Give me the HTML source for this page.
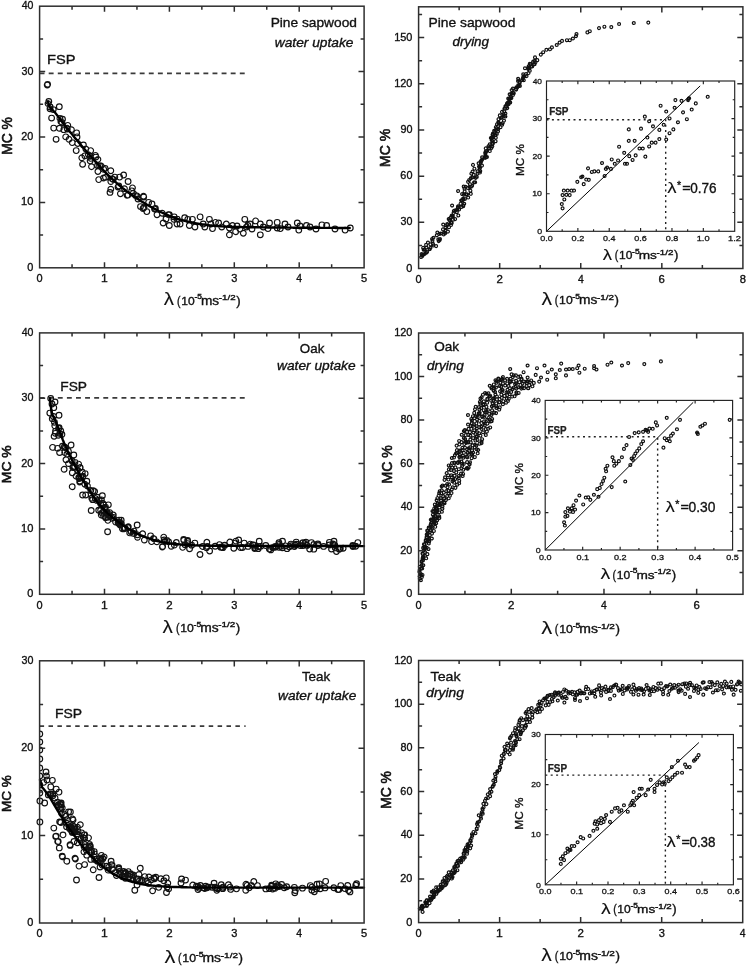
<!DOCTYPE html>
<html><head><meta charset="utf-8"><style>
html,body{margin:0;padding:0;background:#fff;}
svg{display:block;will-change:transform;}
text{font-family:"Liberation Sans",sans-serif;stroke:#111;stroke-width:0.35px;}
</style></head><body>
<svg width="746" height="967" viewBox="0 0 746 967">
<rect width="746" height="967" fill="#fff"/>
<path d="M39.6 73.4L245.6 73.4" fill="none" stroke="#3a3a3a" stroke-width="1.8" stroke-dasharray="4.9 4.2" stroke-linejoin="round" stroke-linecap="butt"/>
<path d="M44.35 85a2.85 2.85 0 1 0 5.7 0a2.85 2.85 0 1 0 -5.7 0M44.75 84.3a2.85 2.85 0 1 0 5.7 0a2.85 2.85 0 1 0 -5.7 0M45.95 101.5a2.85 2.85 0 1 0 5.7 0a2.85 2.85 0 1 0 -5.7 0M45.15 103.6a2.85 2.85 0 1 0 5.7 0a2.85 2.85 0 1 0 -5.7 0M47.15 108.8a2.85 2.85 0 1 0 5.7 0a2.85 2.85 0 1 0 -5.7 0M56.45 106.7a2.85 2.85 0 1 0 5.7 0a2.85 2.85 0 1 0 -5.7 0M48.75 118.1a2.85 2.85 0 1 0 5.7 0a2.85 2.85 0 1 0 -5.7 0M50.85 128.1a2.85 2.85 0 1 0 5.7 0a2.85 2.85 0 1 0 -5.7 0M53.25 139.3a2.85 2.85 0 1 0 5.7 0a2.85 2.85 0 1 0 -5.7 0M58.05 121.6a2.85 2.85 0 1 0 5.7 0a2.85 2.85 0 1 0 -5.7 0M59.65 119.2a2.85 2.85 0 1 0 5.7 0a2.85 2.85 0 1 0 -5.7 0M60.95 129.7a2.85 2.85 0 1 0 5.7 0a2.85 2.85 0 1 0 -5.7 0M62.85 136.9a2.85 2.85 0 1 0 5.7 0a2.85 2.85 0 1 0 -5.7 0M66.15 139.3a2.85 2.85 0 1 0 5.7 0a2.85 2.85 0 1 0 -5.7 0M68.55 129.7a2.85 2.85 0 1 0 5.7 0a2.85 2.85 0 1 0 -5.7 0M69.35 142.6a2.85 2.85 0 1 0 5.7 0a2.85 2.85 0 1 0 -5.7 0M74.15 136.9a2.85 2.85 0 1 0 5.7 0a2.85 2.85 0 1 0 -5.7 0M73.35 150.6a2.85 2.85 0 1 0 5.7 0a2.85 2.85 0 1 0 -5.7 0M80.55 145a2.85 2.85 0 1 0 5.7 0a2.85 2.85 0 1 0 -5.7 0M82.95 149a2.85 2.85 0 1 0 5.7 0a2.85 2.85 0 1 0 -5.7 0M78.95 157.8a2.85 2.85 0 1 0 5.7 0a2.85 2.85 0 1 0 -5.7 0M79.75 164.3a2.85 2.85 0 1 0 5.7 0a2.85 2.85 0 1 0 -5.7 0M87.85 150.6a2.85 2.85 0 1 0 5.7 0a2.85 2.85 0 1 0 -5.7 0M85.45 154.6a2.85 2.85 0 1 0 5.7 0a2.85 2.85 0 1 0 -5.7 0M92.65 155.4a2.85 2.85 0 1 0 5.7 0a2.85 2.85 0 1 0 -5.7 0M95.05 159.4a2.85 2.85 0 1 0 5.7 0a2.85 2.85 0 1 0 -5.7 0M88.65 166.7a2.85 2.85 0 1 0 5.7 0a2.85 2.85 0 1 0 -5.7 0M98.25 165.9a2.85 2.85 0 1 0 5.7 0a2.85 2.85 0 1 0 -5.7 0M102.25 168.3a2.85 2.85 0 1 0 5.7 0a2.85 2.85 0 1 0 -5.7 0M107.95 170.7a2.85 2.85 0 1 0 5.7 0a2.85 2.85 0 1 0 -5.7 0M95.05 171.5a2.85 2.85 0 1 0 5.7 0a2.85 2.85 0 1 0 -5.7 0M95.85 179.6a2.85 2.85 0 1 0 5.7 0a2.85 2.85 0 1 0 -5.7 0M100.65 178a2.85 2.85 0 1 0 5.7 0a2.85 2.85 0 1 0 -5.7 0M111.95 177.1a2.85 2.85 0 1 0 5.7 0a2.85 2.85 0 1 0 -5.7 0M116.75 177.1a2.85 2.85 0 1 0 5.7 0a2.85 2.85 0 1 0 -5.7 0M120.75 175a2.85 2.85 0 1 0 5.7 0a2.85 2.85 0 1 0 -5.7 0M125.25 181.5a2.85 2.85 0 1 0 5.7 0a2.85 2.85 0 1 0 -5.7 0M107.95 189.2a2.85 2.85 0 1 0 5.7 0a2.85 2.85 0 1 0 -5.7 0M107.15 192.4a2.85 2.85 0 1 0 5.7 0a2.85 2.85 0 1 0 -5.7 0M115.95 186a2.85 2.85 0 1 0 5.7 0a2.85 2.85 0 1 0 -5.7 0M117.55 193.7a2.85 2.85 0 1 0 5.7 0a2.85 2.85 0 1 0 -5.7 0M128.85 190.8a2.85 2.85 0 1 0 5.7 0a2.85 2.85 0 1 0 -5.7 0M130.45 193.2a2.85 2.85 0 1 0 5.7 0a2.85 2.85 0 1 0 -5.7 0M140.85 197.1a2.85 2.85 0 1 0 5.7 0a2.85 2.85 0 1 0 -5.7 0M145.75 202.4a2.85 2.85 0 1 0 5.7 0a2.85 2.85 0 1 0 -5.7 0M140.25 208.5a2.85 2.85 0 1 0 5.7 0a2.85 2.85 0 1 0 -5.7 0M143.95 211.6a2.85 2.85 0 1 0 5.7 0a2.85 2.85 0 1 0 -5.7 0M152.55 208.5a2.85 2.85 0 1 0 5.7 0a2.85 2.85 0 1 0 -5.7 0M154.15 214.7a2.85 2.85 0 1 0 5.7 0a2.85 2.85 0 1 0 -5.7 0M159.35 213.2a2.85 2.85 0 1 0 5.7 0a2.85 2.85 0 1 0 -5.7 0M160.25 223a2.85 2.85 0 1 0 5.7 0a2.85 2.85 0 1 0 -5.7 0M166.45 214.7a2.85 2.85 0 1 0 5.7 0a2.85 2.85 0 1 0 -5.7 0M166.45 225.5a2.85 2.85 0 1 0 5.7 0a2.85 2.85 0 1 0 -5.7 0M171.05 219.3a2.85 2.85 0 1 0 5.7 0a2.85 2.85 0 1 0 -5.7 0M174.15 224a2.85 2.85 0 1 0 5.7 0a2.85 2.85 0 1 0 -5.7 0M177.25 224a2.85 2.85 0 1 0 5.7 0a2.85 2.85 0 1 0 -5.7 0M181.85 217.8a2.85 2.85 0 1 0 5.7 0a2.85 2.85 0 1 0 -5.7 0M184.95 219.3a2.85 2.85 0 1 0 5.7 0a2.85 2.85 0 1 0 -5.7 0M186.45 225.5a2.85 2.85 0 1 0 5.7 0a2.85 2.85 0 1 0 -5.7 0M189.55 219.3a2.85 2.85 0 1 0 5.7 0a2.85 2.85 0 1 0 -5.7 0M192.05 227a2.85 2.85 0 1 0 5.7 0a2.85 2.85 0 1 0 -5.7 0M197.25 216.9a2.85 2.85 0 1 0 5.7 0a2.85 2.85 0 1 0 -5.7 0M200.35 224a2.85 2.85 0 1 0 5.7 0a2.85 2.85 0 1 0 -5.7 0M201.95 227a2.85 2.85 0 1 0 5.7 0a2.85 2.85 0 1 0 -5.7 0M206.55 219.3a2.85 2.85 0 1 0 5.7 0a2.85 2.85 0 1 0 -5.7 0M208.05 224a2.85 2.85 0 1 0 5.7 0a2.85 2.85 0 1 0 -5.7 0M209.65 228.6a2.85 2.85 0 1 0 5.7 0a2.85 2.85 0 1 0 -5.7 0M212.65 222.4a2.85 2.85 0 1 0 5.7 0a2.85 2.85 0 1 0 -5.7 0M215.75 223a2.85 2.85 0 1 0 5.7 0a2.85 2.85 0 1 0 -5.7 0M218.85 227a2.85 2.85 0 1 0 5.7 0a2.85 2.85 0 1 0 -5.7 0M223.45 224a2.85 2.85 0 1 0 5.7 0a2.85 2.85 0 1 0 -5.7 0M226.55 228a2.85 2.85 0 1 0 5.7 0a2.85 2.85 0 1 0 -5.7 0M229.65 225.5a2.85 2.85 0 1 0 5.7 0a2.85 2.85 0 1 0 -5.7 0M226.55 234.8a2.85 2.85 0 1 0 5.7 0a2.85 2.85 0 1 0 -5.7 0M232.75 231.7a2.85 2.85 0 1 0 5.7 0a2.85 2.85 0 1 0 -5.7 0M240.45 233.2a2.85 2.85 0 1 0 5.7 0a2.85 2.85 0 1 0 -5.7 0M241.95 219.3a2.85 2.85 0 1 0 5.7 0a2.85 2.85 0 1 0 -5.7 0M243.55 227a2.85 2.85 0 1 0 5.7 0a2.85 2.85 0 1 0 -5.7 0M245.05 225.5a2.85 2.85 0 1 0 5.7 0a2.85 2.85 0 1 0 -5.7 0M252.75 220.9a2.85 2.85 0 1 0 5.7 0a2.85 2.85 0 1 0 -5.7 0M257.45 224a2.85 2.85 0 1 0 5.7 0a2.85 2.85 0 1 0 -5.7 0M257.45 234.8a2.85 2.85 0 1 0 5.7 0a2.85 2.85 0 1 0 -5.7 0M260.45 227a2.85 2.85 0 1 0 5.7 0a2.85 2.85 0 1 0 -5.7 0M266.65 223a2.85 2.85 0 1 0 5.7 0a2.85 2.85 0 1 0 -5.7 0M265.15 228.6a2.85 2.85 0 1 0 5.7 0a2.85 2.85 0 1 0 -5.7 0M274.35 222.4a2.85 2.85 0 1 0 5.7 0a2.85 2.85 0 1 0 -5.7 0M274.35 228a2.85 2.85 0 1 0 5.7 0a2.85 2.85 0 1 0 -5.7 0M277.45 228.6a2.85 2.85 0 1 0 5.7 0a2.85 2.85 0 1 0 -5.7 0M285.15 227a2.85 2.85 0 1 0 5.7 0a2.85 2.85 0 1 0 -5.7 0M294.45 223a2.85 2.85 0 1 0 5.7 0a2.85 2.85 0 1 0 -5.7 0M295.95 230.1a2.85 2.85 0 1 0 5.7 0a2.85 2.85 0 1 0 -5.7 0M303.65 225.5a2.85 2.85 0 1 0 5.7 0a2.85 2.85 0 1 0 -5.7 0M319.05 224.9a2.85 2.85 0 1 0 5.7 0a2.85 2.85 0 1 0 -5.7 0M323.75 225.5a2.85 2.85 0 1 0 5.7 0a2.85 2.85 0 1 0 -5.7 0M342.25 230.1a2.85 2.85 0 1 0 5.7 0a2.85 2.85 0 1 0 -5.7 0M347.45 228a2.85 2.85 0 1 0 5.7 0a2.85 2.85 0 1 0 -5.7 0M134.15 196a2.85 2.85 0 1 0 5.7 0a2.85 2.85 0 1 0 -5.7 0M135.15 199a2.85 2.85 0 1 0 5.7 0a2.85 2.85 0 1 0 -5.7 0M149.15 204a2.85 2.85 0 1 0 5.7 0a2.85 2.85 0 1 0 -5.7 0M163.15 219a2.85 2.85 0 1 0 5.7 0a2.85 2.85 0 1 0 -5.7 0M247.15 224a2.85 2.85 0 1 0 5.7 0a2.85 2.85 0 1 0 -5.7 0M249.15 229a2.85 2.85 0 1 0 5.7 0a2.85 2.85 0 1 0 -5.7 0M234.15 226a2.85 2.85 0 1 0 5.7 0a2.85 2.85 0 1 0 -5.7 0M237.15 229a2.85 2.85 0 1 0 5.7 0a2.85 2.85 0 1 0 -5.7 0M282.15 224a2.85 2.85 0 1 0 5.7 0a2.85 2.85 0 1 0 -5.7 0M307.15 227a2.85 2.85 0 1 0 5.7 0a2.85 2.85 0 1 0 -5.7 0M313.15 229a2.85 2.85 0 1 0 5.7 0a2.85 2.85 0 1 0 -5.7 0M332.15 229a2.85 2.85 0 1 0 5.7 0a2.85 2.85 0 1 0 -5.7 0M297.15 226a2.85 2.85 0 1 0 5.7 0a2.85 2.85 0 1 0 -5.7 0M57.07 118.45a2.85 2.85 0 1 0 5.7 0a2.85 2.85 0 1 0 -5.7 0M141.2 207.46a2.85 2.85 0 1 0 5.7 0a2.85 2.85 0 1 0 -5.7 0M174.29 219.06a2.85 2.85 0 1 0 5.7 0a2.85 2.85 0 1 0 -5.7 0M56.52 128.29a2.85 2.85 0 1 0 5.7 0a2.85 2.85 0 1 0 -5.7 0M82.05 155.84a2.85 2.85 0 1 0 5.7 0a2.85 2.85 0 1 0 -5.7 0M151.64 208.98a2.85 2.85 0 1 0 5.7 0a2.85 2.85 0 1 0 -5.7 0M96.67 165.76a2.85 2.85 0 1 0 5.7 0a2.85 2.85 0 1 0 -5.7 0M165.4 214.67a2.85 2.85 0 1 0 5.7 0a2.85 2.85 0 1 0 -5.7 0M74.89 143.46a2.85 2.85 0 1 0 5.7 0a2.85 2.85 0 1 0 -5.7 0M50.39 109.59a2.85 2.85 0 1 0 5.7 0a2.85 2.85 0 1 0 -5.7 0M125.22 195.04a2.85 2.85 0 1 0 5.7 0a2.85 2.85 0 1 0 -5.7 0M64.46 129.02a2.85 2.85 0 1 0 5.7 0a2.85 2.85 0 1 0 -5.7 0M115.19 187.06a2.85 2.85 0 1 0 5.7 0a2.85 2.85 0 1 0 -5.7 0M107.96 181.54a2.85 2.85 0 1 0 5.7 0a2.85 2.85 0 1 0 -5.7 0M73.78 132.89a2.85 2.85 0 1 0 5.7 0a2.85 2.85 0 1 0 -5.7 0M109.21 178.76a2.85 2.85 0 1 0 5.7 0a2.85 2.85 0 1 0 -5.7 0M94.72 165.52a2.85 2.85 0 1 0 5.7 0a2.85 2.85 0 1 0 -5.7 0M87.97 158.4a2.85 2.85 0 1 0 5.7 0a2.85 2.85 0 1 0 -5.7 0M121.59 188.69a2.85 2.85 0 1 0 5.7 0a2.85 2.85 0 1 0 -5.7 0M93.04 157.05a2.85 2.85 0 1 0 5.7 0a2.85 2.85 0 1 0 -5.7 0M132.61 195.55a2.85 2.85 0 1 0 5.7 0a2.85 2.85 0 1 0 -5.7 0M140.66 196.25a2.85 2.85 0 1 0 5.7 0a2.85 2.85 0 1 0 -5.7 0M100.84 169.31a2.85 2.85 0 1 0 5.7 0a2.85 2.85 0 1 0 -5.7 0M102.59 177.35a2.85 2.85 0 1 0 5.7 0a2.85 2.85 0 1 0 -5.7 0M129.62 187.88a2.85 2.85 0 1 0 5.7 0a2.85 2.85 0 1 0 -5.7 0M47.34 107.03a2.85 2.85 0 1 0 5.7 0a2.85 2.85 0 1 0 -5.7 0M59.14 122.78a2.85 2.85 0 1 0 5.7 0a2.85 2.85 0 1 0 -5.7 0M137.65 206.62a2.85 2.85 0 1 0 5.7 0a2.85 2.85 0 1 0 -5.7 0M171.36 216.88a2.85 2.85 0 1 0 5.7 0a2.85 2.85 0 1 0 -5.7 0M87.3 156.28a2.85 2.85 0 1 0 5.7 0a2.85 2.85 0 1 0 -5.7 0M124.19 195.37a2.85 2.85 0 1 0 5.7 0a2.85 2.85 0 1 0 -5.7 0M64.19 128.09a2.85 2.85 0 1 0 5.7 0a2.85 2.85 0 1 0 -5.7 0M87.29 160.86a2.85 2.85 0 1 0 5.7 0a2.85 2.85 0 1 0 -5.7 0M110.31 179.51a2.85 2.85 0 1 0 5.7 0a2.85 2.85 0 1 0 -5.7 0M64.94 125.39a2.85 2.85 0 1 0 5.7 0a2.85 2.85 0 1 0 -5.7 0" fill="none" stroke="#111" stroke-width="1.15"/>
<path d="M48 101.5L49.52 107.15L51.03 108.5L52.55 109.98L54.06 111.58L55.58 113.31L57.1 115.15L58.61 117.12L60.13 119.2L61.64 121.25L63.16 123.25L64.68 125.22L66.19 127.15L67.71 129.04L69.23 130.91L70.74 132.77L72.26 134.61L73.77 136.44L75.29 138.26L76.81 140.07L78.32 141.88L79.84 143.68L81.35 145.48L82.87 147.26L84.39 149.04L85.9 150.81L87.42 152.57L88.93 154.31L90.45 156.05L91.97 157.77L93.48 159.48L95 161.18L96.51 162.86L98.03 164.52L99.55 166.16L101.06 167.78L102.58 169.39L104.09 170.98L105.61 172.54L107.13 174.09L108.64 175.61L110.16 177.11L111.68 178.57L113.19 179.99L114.71 181.38L116.22 182.73L117.74 184.05L119.26 185.34L120.77 186.6L122.29 187.83L123.8 189.03L125.32 190.21L126.84 191.37L128.35 192.5L129.87 193.61L131.38 194.69L132.9 195.74L134.42 196.77L135.93 197.78L137.45 198.77L138.96 199.75L140.48 200.71L142 201.66L143.51 202.6L145.03 203.52L146.55 204.42L148.06 205.29L149.58 206.14L151.09 206.97L152.61 207.79L154.13 208.59L155.64 209.39L157.16 210.17L158.67 210.95L160.19 211.72L161.71 212.46L163.22 213.18L164.74 213.87L166.25 214.53L167.77 215.17L169.29 215.78L170.8 216.38L172.32 216.96L173.83 217.52L175.35 218.06L176.87 218.58L178.38 219.07L179.9 219.53L181.42 219.96L182.93 220.37L184.45 220.76L185.96 221.14L187.48 221.52L189 221.88L190.51 222.24L192.03 222.58L193.54 222.9L195.06 223.2L196.58 223.48L198.09 223.74L199.61 223.98L201.12 224.22L202.64 224.44L204.16 224.66L205.67 224.86L207.19 225.05L208.7 225.23L210.22 225.39L211.74 225.54L213.25 225.68L214.77 225.8L216.28 225.93L217.8 226.04L219.32 226.16L220.83 226.27L222.35 226.37L223.87 226.47L225.38 226.56L226.9 226.64L228.41 226.71L229.93 226.77L231.45 226.83L232.96 226.89L234.48 226.94L235.99 226.98L237.51 227.02L239.03 227.06L240.54 227.09L242.06 227.12L243.57 227.14L245.09 227.16L246.61 227.18L248.12 227.2L249.64 227.22L251.15 227.24L252.67 227.26L254.19 227.28L255.7 227.3L257.22 227.32L258.74 227.34L260.25 227.36L261.77 227.37L263.28 227.39L264.8 227.41L266.32 227.42L267.83 227.44L269.35 227.46L270.86 227.47L272.38 227.49L273.9 227.5L275.41 227.52L276.93 227.53L278.44 227.55L279.96 227.56L281.48 227.58L282.99 227.59L284.51 227.61L286.02 227.62L287.54 227.63L289.06 227.65L290.57 227.66L292.09 227.67L293.61 227.68L295.12 227.69L296.64 227.71L298.15 227.72L299.67 227.73L301.19 227.74L302.7 227.75L304.22 227.75L305.73 227.76L307.25 227.77L308.77 227.78L310.28 227.79L311.8 227.8L313.31 227.8L314.83 227.81L316.35 227.82L317.86 227.83L319.38 227.84L320.89 227.84L322.41 227.85L323.93 227.86L325.44 227.87L326.96 227.88L328.47 227.89L329.99 227.89L331.51 227.9L333.02 227.91L334.54 227.92L336.06 227.93L337.57 227.93L339.09 227.94L340.6 227.95L342.12 227.96L343.64 227.96L345.15 227.97L346.67 227.98L348.18 227.98L349.7 228" fill="none" stroke="#000" stroke-width="2.4" stroke-linejoin="round" stroke-linecap="round"/>
<path d="M39.6 397.9L245.6 397.9" fill="none" stroke="#3a3a3a" stroke-width="1.8" stroke-dasharray="4.9 4.2" stroke-linejoin="round" stroke-linecap="butt"/>
<path d="M47.85 398.5a2.85 2.85 0 1 0 5.7 0a2.85 2.85 0 1 0 -5.7 0M56.75 452.6a2.85 2.85 0 1 0 5.7 0a2.85 2.85 0 1 0 -5.7 0M61.25 469.3a2.85 2.85 0 1 0 5.7 0a2.85 2.85 0 1 0 -5.7 0M69.35 486.7a2.85 2.85 0 1 0 5.7 0a2.85 2.85 0 1 0 -5.7 0M79.75 495a2.85 2.85 0 1 0 5.7 0a2.85 2.85 0 1 0 -5.7 0M88.35 510.5a2.85 2.85 0 1 0 5.7 0a2.85 2.85 0 1 0 -5.7 0M104.75 531.8a2.85 2.85 0 1 0 5.7 0a2.85 2.85 0 1 0 -5.7 0M49.15 404a2.85 2.85 0 1 0 5.7 0a2.85 2.85 0 1 0 -5.7 0M52.15 402a2.85 2.85 0 1 0 5.7 0a2.85 2.85 0 1 0 -5.7 0M102.55 517.74a2.85 2.85 0 1 0 5.7 0a2.85 2.85 0 1 0 -5.7 0M197.12 554.49a2.85 2.85 0 1 0 5.7 0a2.85 2.85 0 1 0 -5.7 0M90.29 490.76a2.85 2.85 0 1 0 5.7 0a2.85 2.85 0 1 0 -5.7 0M131.22 533.47a2.85 2.85 0 1 0 5.7 0a2.85 2.85 0 1 0 -5.7 0M76.27 478.49a2.85 2.85 0 1 0 5.7 0a2.85 2.85 0 1 0 -5.7 0M100.35 504.55a2.85 2.85 0 1 0 5.7 0a2.85 2.85 0 1 0 -5.7 0M101.51 507.56a2.85 2.85 0 1 0 5.7 0a2.85 2.85 0 1 0 -5.7 0M103.15 517.29a2.85 2.85 0 1 0 5.7 0a2.85 2.85 0 1 0 -5.7 0M100.84 504.92a2.85 2.85 0 1 0 5.7 0a2.85 2.85 0 1 0 -5.7 0M139.79 533.8a2.85 2.85 0 1 0 5.7 0a2.85 2.85 0 1 0 -5.7 0M73.2 476.2a2.85 2.85 0 1 0 5.7 0a2.85 2.85 0 1 0 -5.7 0M115.53 521.83a2.85 2.85 0 1 0 5.7 0a2.85 2.85 0 1 0 -5.7 0M141.49 540.09a2.85 2.85 0 1 0 5.7 0a2.85 2.85 0 1 0 -5.7 0M153.96 541.84a2.85 2.85 0 1 0 5.7 0a2.85 2.85 0 1 0 -5.7 0M165.75 541.82a2.85 2.85 0 1 0 5.7 0a2.85 2.85 0 1 0 -5.7 0M161.33 539.91a2.85 2.85 0 1 0 5.7 0a2.85 2.85 0 1 0 -5.7 0M51.91 425.79a2.85 2.85 0 1 0 5.7 0a2.85 2.85 0 1 0 -5.7 0M68.23 445.03a2.85 2.85 0 1 0 5.7 0a2.85 2.85 0 1 0 -5.7 0M83.99 481.16a2.85 2.85 0 1 0 5.7 0a2.85 2.85 0 1 0 -5.7 0M109.37 518.32a2.85 2.85 0 1 0 5.7 0a2.85 2.85 0 1 0 -5.7 0M134.65 537.34a2.85 2.85 0 1 0 5.7 0a2.85 2.85 0 1 0 -5.7 0M148.71 541.66a2.85 2.85 0 1 0 5.7 0a2.85 2.85 0 1 0 -5.7 0M56.17 415.24a2.85 2.85 0 1 0 5.7 0a2.85 2.85 0 1 0 -5.7 0M130.25 533.21a2.85 2.85 0 1 0 5.7 0a2.85 2.85 0 1 0 -5.7 0M121.23 528.85a2.85 2.85 0 1 0 5.7 0a2.85 2.85 0 1 0 -5.7 0M62.65 447.95a2.85 2.85 0 1 0 5.7 0a2.85 2.85 0 1 0 -5.7 0M79.91 476.24a2.85 2.85 0 1 0 5.7 0a2.85 2.85 0 1 0 -5.7 0M116.16 520.07a2.85 2.85 0 1 0 5.7 0a2.85 2.85 0 1 0 -5.7 0M91.8 491.48a2.85 2.85 0 1 0 5.7 0a2.85 2.85 0 1 0 -5.7 0M162.35 541.23a2.85 2.85 0 1 0 5.7 0a2.85 2.85 0 1 0 -5.7 0M50.94 407.66a2.85 2.85 0 1 0 5.7 0a2.85 2.85 0 1 0 -5.7 0M63.11 459.76a2.85 2.85 0 1 0 5.7 0a2.85 2.85 0 1 0 -5.7 0M206.76 551a2.85 2.85 0 1 0 5.7 0a2.85 2.85 0 1 0 -5.7 0M102.63 507.14a2.85 2.85 0 1 0 5.7 0a2.85 2.85 0 1 0 -5.7 0M115.82 523.34a2.85 2.85 0 1 0 5.7 0a2.85 2.85 0 1 0 -5.7 0M55.65 428.38a2.85 2.85 0 1 0 5.7 0a2.85 2.85 0 1 0 -5.7 0M106.81 516.21a2.85 2.85 0 1 0 5.7 0a2.85 2.85 0 1 0 -5.7 0M77.04 467.71a2.85 2.85 0 1 0 5.7 0a2.85 2.85 0 1 0 -5.7 0M77.96 477.22a2.85 2.85 0 1 0 5.7 0a2.85 2.85 0 1 0 -5.7 0M103.57 513.37a2.85 2.85 0 1 0 5.7 0a2.85 2.85 0 1 0 -5.7 0M96.13 499.93a2.85 2.85 0 1 0 5.7 0a2.85 2.85 0 1 0 -5.7 0M184.77 540.47a2.85 2.85 0 1 0 5.7 0a2.85 2.85 0 1 0 -5.7 0M115.54 523.32a2.85 2.85 0 1 0 5.7 0a2.85 2.85 0 1 0 -5.7 0M79.87 477.13a2.85 2.85 0 1 0 5.7 0a2.85 2.85 0 1 0 -5.7 0M84.56 485.97a2.85 2.85 0 1 0 5.7 0a2.85 2.85 0 1 0 -5.7 0M69.98 467.68a2.85 2.85 0 1 0 5.7 0a2.85 2.85 0 1 0 -5.7 0M52.66 431.17a2.85 2.85 0 1 0 5.7 0a2.85 2.85 0 1 0 -5.7 0M69.27 460.94a2.85 2.85 0 1 0 5.7 0a2.85 2.85 0 1 0 -5.7 0M180.82 539.54a2.85 2.85 0 1 0 5.7 0a2.85 2.85 0 1 0 -5.7 0M125.46 526.66a2.85 2.85 0 1 0 5.7 0a2.85 2.85 0 1 0 -5.7 0M49.69 447.38a2.85 2.85 0 1 0 5.7 0a2.85 2.85 0 1 0 -5.7 0M98.57 499.9a2.85 2.85 0 1 0 5.7 0a2.85 2.85 0 1 0 -5.7 0M82.01 484.24a2.85 2.85 0 1 0 5.7 0a2.85 2.85 0 1 0 -5.7 0M128.3 531.81a2.85 2.85 0 1 0 5.7 0a2.85 2.85 0 1 0 -5.7 0M56.27 427.63a2.85 2.85 0 1 0 5.7 0a2.85 2.85 0 1 0 -5.7 0M100.59 511.53a2.85 2.85 0 1 0 5.7 0a2.85 2.85 0 1 0 -5.7 0M52.39 433.32a2.85 2.85 0 1 0 5.7 0a2.85 2.85 0 1 0 -5.7 0M117.15 525.16a2.85 2.85 0 1 0 5.7 0a2.85 2.85 0 1 0 -5.7 0M97.78 510.28a2.85 2.85 0 1 0 5.7 0a2.85 2.85 0 1 0 -5.7 0M57.89 430.96a2.85 2.85 0 1 0 5.7 0a2.85 2.85 0 1 0 -5.7 0M179.81 547.37a2.85 2.85 0 1 0 5.7 0a2.85 2.85 0 1 0 -5.7 0M159.77 546.46a2.85 2.85 0 1 0 5.7 0a2.85 2.85 0 1 0 -5.7 0M71.76 466.47a2.85 2.85 0 1 0 5.7 0a2.85 2.85 0 1 0 -5.7 0M70.96 454.95a2.85 2.85 0 1 0 5.7 0a2.85 2.85 0 1 0 -5.7 0M92.36 498.59a2.85 2.85 0 1 0 5.7 0a2.85 2.85 0 1 0 -5.7 0M134.29 524.96a2.85 2.85 0 1 0 5.7 0a2.85 2.85 0 1 0 -5.7 0M118.36 520.17a2.85 2.85 0 1 0 5.7 0a2.85 2.85 0 1 0 -5.7 0M104.98 520.44a2.85 2.85 0 1 0 5.7 0a2.85 2.85 0 1 0 -5.7 0M199.6 546.45a2.85 2.85 0 1 0 5.7 0a2.85 2.85 0 1 0 -5.7 0M173.42 542.5a2.85 2.85 0 1 0 5.7 0a2.85 2.85 0 1 0 -5.7 0M98.4 515.02a2.85 2.85 0 1 0 5.7 0a2.85 2.85 0 1 0 -5.7 0M99.26 513.02a2.85 2.85 0 1 0 5.7 0a2.85 2.85 0 1 0 -5.7 0M151.05 538.82a2.85 2.85 0 1 0 5.7 0a2.85 2.85 0 1 0 -5.7 0M87.95 490.52a2.85 2.85 0 1 0 5.7 0a2.85 2.85 0 1 0 -5.7 0M88.96 498.15a2.85 2.85 0 1 0 5.7 0a2.85 2.85 0 1 0 -5.7 0M104.08 512.1a2.85 2.85 0 1 0 5.7 0a2.85 2.85 0 1 0 -5.7 0M159.45 546.95a2.85 2.85 0 1 0 5.7 0a2.85 2.85 0 1 0 -5.7 0M100.77 516.14a2.85 2.85 0 1 0 5.7 0a2.85 2.85 0 1 0 -5.7 0M160.89 537.06a2.85 2.85 0 1 0 5.7 0a2.85 2.85 0 1 0 -5.7 0M184.75 543.59a2.85 2.85 0 1 0 5.7 0a2.85 2.85 0 1 0 -5.7 0M150.54 538.36a2.85 2.85 0 1 0 5.7 0a2.85 2.85 0 1 0 -5.7 0M115.21 522.7a2.85 2.85 0 1 0 5.7 0a2.85 2.85 0 1 0 -5.7 0M49.42 418.65a2.85 2.85 0 1 0 5.7 0a2.85 2.85 0 1 0 -5.7 0M118.5 523.39a2.85 2.85 0 1 0 5.7 0a2.85 2.85 0 1 0 -5.7 0M204.01 542.3a2.85 2.85 0 1 0 5.7 0a2.85 2.85 0 1 0 -5.7 0M59.08 434.5a2.85 2.85 0 1 0 5.7 0a2.85 2.85 0 1 0 -5.7 0M119.52 528.71a2.85 2.85 0 1 0 5.7 0a2.85 2.85 0 1 0 -5.7 0M50.62 416.5a2.85 2.85 0 1 0 5.7 0a2.85 2.85 0 1 0 -5.7 0M204.41 546.46a2.85 2.85 0 1 0 5.7 0a2.85 2.85 0 1 0 -5.7 0M186.71 548.71a2.85 2.85 0 1 0 5.7 0a2.85 2.85 0 1 0 -5.7 0M192 543.08a2.85 2.85 0 1 0 5.7 0a2.85 2.85 0 1 0 -5.7 0M131.19 531.12a2.85 2.85 0 1 0 5.7 0a2.85 2.85 0 1 0 -5.7 0M105.51 504.85a2.85 2.85 0 1 0 5.7 0a2.85 2.85 0 1 0 -5.7 0M99.51 495.78a2.85 2.85 0 1 0 5.7 0a2.85 2.85 0 1 0 -5.7 0M82.81 495.05a2.85 2.85 0 1 0 5.7 0a2.85 2.85 0 1 0 -5.7 0M46.96 413.1a2.85 2.85 0 1 0 5.7 0a2.85 2.85 0 1 0 -5.7 0M110.46 515a2.85 2.85 0 1 0 5.7 0a2.85 2.85 0 1 0 -5.7 0M51.58 422.28a2.85 2.85 0 1 0 5.7 0a2.85 2.85 0 1 0 -5.7 0M95.88 510.2a2.85 2.85 0 1 0 5.7 0a2.85 2.85 0 1 0 -5.7 0M74.58 470.84a2.85 2.85 0 1 0 5.7 0a2.85 2.85 0 1 0 -5.7 0M104.86 517.4a2.85 2.85 0 1 0 5.7 0a2.85 2.85 0 1 0 -5.7 0M116.92 523.05a2.85 2.85 0 1 0 5.7 0a2.85 2.85 0 1 0 -5.7 0M94.1 500.4a2.85 2.85 0 1 0 5.7 0a2.85 2.85 0 1 0 -5.7 0M76.79 482.04a2.85 2.85 0 1 0 5.7 0a2.85 2.85 0 1 0 -5.7 0M124.88 527.17a2.85 2.85 0 1 0 5.7 0a2.85 2.85 0 1 0 -5.7 0M65.61 463.59a2.85 2.85 0 1 0 5.7 0a2.85 2.85 0 1 0 -5.7 0M117.33 523.97a2.85 2.85 0 1 0 5.7 0a2.85 2.85 0 1 0 -5.7 0M77.35 467.74a2.85 2.85 0 1 0 5.7 0a2.85 2.85 0 1 0 -5.7 0M180.93 540.27a2.85 2.85 0 1 0 5.7 0a2.85 2.85 0 1 0 -5.7 0M75.77 464.06a2.85 2.85 0 1 0 5.7 0a2.85 2.85 0 1 0 -5.7 0M54.76 448.36a2.85 2.85 0 1 0 5.7 0a2.85 2.85 0 1 0 -5.7 0M70.46 466.84a2.85 2.85 0 1 0 5.7 0a2.85 2.85 0 1 0 -5.7 0M94.24 497.21a2.85 2.85 0 1 0 5.7 0a2.85 2.85 0 1 0 -5.7 0M110.52 517.37a2.85 2.85 0 1 0 5.7 0a2.85 2.85 0 1 0 -5.7 0M77.06 481.06a2.85 2.85 0 1 0 5.7 0a2.85 2.85 0 1 0 -5.7 0M97.68 503.74a2.85 2.85 0 1 0 5.7 0a2.85 2.85 0 1 0 -5.7 0M75.9 477.34a2.85 2.85 0 1 0 5.7 0a2.85 2.85 0 1 0 -5.7 0M61.86 452.55a2.85 2.85 0 1 0 5.7 0a2.85 2.85 0 1 0 -5.7 0M171.51 545.19a2.85 2.85 0 1 0 5.7 0a2.85 2.85 0 1 0 -5.7 0M188.79 545.16a2.85 2.85 0 1 0 5.7 0a2.85 2.85 0 1 0 -5.7 0M61.57 446.86a2.85 2.85 0 1 0 5.7 0a2.85 2.85 0 1 0 -5.7 0M124.85 527.53a2.85 2.85 0 1 0 5.7 0a2.85 2.85 0 1 0 -5.7 0M57.08 433.64a2.85 2.85 0 1 0 5.7 0a2.85 2.85 0 1 0 -5.7 0M74.89 470.02a2.85 2.85 0 1 0 5.7 0a2.85 2.85 0 1 0 -5.7 0M51.26 436.33a2.85 2.85 0 1 0 5.7 0a2.85 2.85 0 1 0 -5.7 0M126.85 532.86a2.85 2.85 0 1 0 5.7 0a2.85 2.85 0 1 0 -5.7 0M65.58 451.39a2.85 2.85 0 1 0 5.7 0a2.85 2.85 0 1 0 -5.7 0M112.71 522.08a2.85 2.85 0 1 0 5.7 0a2.85 2.85 0 1 0 -5.7 0M61.37 446.99a2.85 2.85 0 1 0 5.7 0a2.85 2.85 0 1 0 -5.7 0M106.78 512.57a2.85 2.85 0 1 0 5.7 0a2.85 2.85 0 1 0 -5.7 0M122.24 528.01a2.85 2.85 0 1 0 5.7 0a2.85 2.85 0 1 0 -5.7 0M72.09 462.33a2.85 2.85 0 1 0 5.7 0a2.85 2.85 0 1 0 -5.7 0M71.68 467.45a2.85 2.85 0 1 0 5.7 0a2.85 2.85 0 1 0 -5.7 0M55.39 435.32a2.85 2.85 0 1 0 5.7 0a2.85 2.85 0 1 0 -5.7 0M164.06 540.43a2.85 2.85 0 1 0 5.7 0a2.85 2.85 0 1 0 -5.7 0M64.1 454.03a2.85 2.85 0 1 0 5.7 0a2.85 2.85 0 1 0 -5.7 0M89.8 499.68a2.85 2.85 0 1 0 5.7 0a2.85 2.85 0 1 0 -5.7 0M134.59 534.84a2.85 2.85 0 1 0 5.7 0a2.85 2.85 0 1 0 -5.7 0M203.57 547.8a2.85 2.85 0 1 0 5.7 0a2.85 2.85 0 1 0 -5.7 0M82.28 473.56a2.85 2.85 0 1 0 5.7 0a2.85 2.85 0 1 0 -5.7 0M106.53 514.49a2.85 2.85 0 1 0 5.7 0a2.85 2.85 0 1 0 -5.7 0M69.45 472.74a2.85 2.85 0 1 0 5.7 0a2.85 2.85 0 1 0 -5.7 0M59.61 446.19a2.85 2.85 0 1 0 5.7 0a2.85 2.85 0 1 0 -5.7 0M100.17 503.39a2.85 2.85 0 1 0 5.7 0a2.85 2.85 0 1 0 -5.7 0M182.22 544.65a2.85 2.85 0 1 0 5.7 0a2.85 2.85 0 1 0 -5.7 0M147.76 535.82a2.85 2.85 0 1 0 5.7 0a2.85 2.85 0 1 0 -5.7 0M184.83 541.53a2.85 2.85 0 1 0 5.7 0a2.85 2.85 0 1 0 -5.7 0M79.46 472.16a2.85 2.85 0 1 0 5.7 0a2.85 2.85 0 1 0 -5.7 0M168.37 546.27a2.85 2.85 0 1 0 5.7 0a2.85 2.85 0 1 0 -5.7 0M286.74 546.93a2.85 2.85 0 1 0 5.7 0a2.85 2.85 0 1 0 -5.7 0M276.07 542.75a2.85 2.85 0 1 0 5.7 0a2.85 2.85 0 1 0 -5.7 0M303.7 545.27a2.85 2.85 0 1 0 5.7 0a2.85 2.85 0 1 0 -5.7 0M310.94 549.18a2.85 2.85 0 1 0 5.7 0a2.85 2.85 0 1 0 -5.7 0M279.51 547.7a2.85 2.85 0 1 0 5.7 0a2.85 2.85 0 1 0 -5.7 0M337.48 548.41a2.85 2.85 0 1 0 5.7 0a2.85 2.85 0 1 0 -5.7 0M272.44 546.32a2.85 2.85 0 1 0 5.7 0a2.85 2.85 0 1 0 -5.7 0M315.07 545.54a2.85 2.85 0 1 0 5.7 0a2.85 2.85 0 1 0 -5.7 0M218.87 547.23a2.85 2.85 0 1 0 5.7 0a2.85 2.85 0 1 0 -5.7 0M303.06 542.24a2.85 2.85 0 1 0 5.7 0a2.85 2.85 0 1 0 -5.7 0M221.74 545.13a2.85 2.85 0 1 0 5.7 0a2.85 2.85 0 1 0 -5.7 0M252.15 547.58a2.85 2.85 0 1 0 5.7 0a2.85 2.85 0 1 0 -5.7 0M212.4 546.29a2.85 2.85 0 1 0 5.7 0a2.85 2.85 0 1 0 -5.7 0M332.32 547.86a2.85 2.85 0 1 0 5.7 0a2.85 2.85 0 1 0 -5.7 0M230.95 548.32a2.85 2.85 0 1 0 5.7 0a2.85 2.85 0 1 0 -5.7 0M219.98 547.65a2.85 2.85 0 1 0 5.7 0a2.85 2.85 0 1 0 -5.7 0M266.53 549.04a2.85 2.85 0 1 0 5.7 0a2.85 2.85 0 1 0 -5.7 0M262.94 545.45a2.85 2.85 0 1 0 5.7 0a2.85 2.85 0 1 0 -5.7 0M336.39 549.21a2.85 2.85 0 1 0 5.7 0a2.85 2.85 0 1 0 -5.7 0M241.31 543.07a2.85 2.85 0 1 0 5.7 0a2.85 2.85 0 1 0 -5.7 0M269.84 547.67a2.85 2.85 0 1 0 5.7 0a2.85 2.85 0 1 0 -5.7 0M340.29 548.27a2.85 2.85 0 1 0 5.7 0a2.85 2.85 0 1 0 -5.7 0M300.29 545.53a2.85 2.85 0 1 0 5.7 0a2.85 2.85 0 1 0 -5.7 0M255.33 548.68a2.85 2.85 0 1 0 5.7 0a2.85 2.85 0 1 0 -5.7 0M245.18 546.42a2.85 2.85 0 1 0 5.7 0a2.85 2.85 0 1 0 -5.7 0M282.6 545.81a2.85 2.85 0 1 0 5.7 0a2.85 2.85 0 1 0 -5.7 0M350.1 546.52a2.85 2.85 0 1 0 5.7 0a2.85 2.85 0 1 0 -5.7 0M333.66 551.51a2.85 2.85 0 1 0 5.7 0a2.85 2.85 0 1 0 -5.7 0M221.79 545.54a2.85 2.85 0 1 0 5.7 0a2.85 2.85 0 1 0 -5.7 0M288.07 544.06a2.85 2.85 0 1 0 5.7 0a2.85 2.85 0 1 0 -5.7 0M219.72 547.54a2.85 2.85 0 1 0 5.7 0a2.85 2.85 0 1 0 -5.7 0M216.47 544.59a2.85 2.85 0 1 0 5.7 0a2.85 2.85 0 1 0 -5.7 0M330.54 544.54a2.85 2.85 0 1 0 5.7 0a2.85 2.85 0 1 0 -5.7 0M279.64 541.26a2.85 2.85 0 1 0 5.7 0a2.85 2.85 0 1 0 -5.7 0M256.08 546.72a2.85 2.85 0 1 0 5.7 0a2.85 2.85 0 1 0 -5.7 0M293.51 544.17a2.85 2.85 0 1 0 5.7 0a2.85 2.85 0 1 0 -5.7 0M276.04 547.25a2.85 2.85 0 1 0 5.7 0a2.85 2.85 0 1 0 -5.7 0M306.83 549.01a2.85 2.85 0 1 0 5.7 0a2.85 2.85 0 1 0 -5.7 0M233.01 541.07a2.85 2.85 0 1 0 5.7 0a2.85 2.85 0 1 0 -5.7 0M302.05 543.48a2.85 2.85 0 1 0 5.7 0a2.85 2.85 0 1 0 -5.7 0M288.3 545.79a2.85 2.85 0 1 0 5.7 0a2.85 2.85 0 1 0 -5.7 0M354.97 542.58a2.85 2.85 0 1 0 5.7 0a2.85 2.85 0 1 0 -5.7 0M257.83 546.36a2.85 2.85 0 1 0 5.7 0a2.85 2.85 0 1 0 -5.7 0M304.23 545.6a2.85 2.85 0 1 0 5.7 0a2.85 2.85 0 1 0 -5.7 0M284.2 548.64a2.85 2.85 0 1 0 5.7 0a2.85 2.85 0 1 0 -5.7 0M331.13 541.17a2.85 2.85 0 1 0 5.7 0a2.85 2.85 0 1 0 -5.7 0M326.6 545a2.85 2.85 0 1 0 5.7 0a2.85 2.85 0 1 0 -5.7 0M249.85 544.76a2.85 2.85 0 1 0 5.7 0a2.85 2.85 0 1 0 -5.7 0M311.01 544.42a2.85 2.85 0 1 0 5.7 0a2.85 2.85 0 1 0 -5.7 0M226.95 542.05a2.85 2.85 0 1 0 5.7 0a2.85 2.85 0 1 0 -5.7 0M292.36 545.24a2.85 2.85 0 1 0 5.7 0a2.85 2.85 0 1 0 -5.7 0M232.48 543.14a2.85 2.85 0 1 0 5.7 0a2.85 2.85 0 1 0 -5.7 0M300.07 542.67a2.85 2.85 0 1 0 5.7 0a2.85 2.85 0 1 0 -5.7 0M320.76 546.4a2.85 2.85 0 1 0 5.7 0a2.85 2.85 0 1 0 -5.7 0M331.84 545.02a2.85 2.85 0 1 0 5.7 0a2.85 2.85 0 1 0 -5.7 0M328.65 549.08a2.85 2.85 0 1 0 5.7 0a2.85 2.85 0 1 0 -5.7 0M292.57 545.35a2.85 2.85 0 1 0 5.7 0a2.85 2.85 0 1 0 -5.7 0M239.6 547.46a2.85 2.85 0 1 0 5.7 0a2.85 2.85 0 1 0 -5.7 0M293.36 542.09a2.85 2.85 0 1 0 5.7 0a2.85 2.85 0 1 0 -5.7 0M330.07 543.81a2.85 2.85 0 1 0 5.7 0a2.85 2.85 0 1 0 -5.7 0M270.57 547.54a2.85 2.85 0 1 0 5.7 0a2.85 2.85 0 1 0 -5.7 0M326.53 542.38a2.85 2.85 0 1 0 5.7 0a2.85 2.85 0 1 0 -5.7 0M349.9 545.52a2.85 2.85 0 1 0 5.7 0a2.85 2.85 0 1 0 -5.7 0M278.16 546.17a2.85 2.85 0 1 0 5.7 0a2.85 2.85 0 1 0 -5.7 0M256.38 541.15a2.85 2.85 0 1 0 5.7 0a2.85 2.85 0 1 0 -5.7 0M251.9 548.48a2.85 2.85 0 1 0 5.7 0a2.85 2.85 0 1 0 -5.7 0M272.25 547.33a2.85 2.85 0 1 0 5.7 0a2.85 2.85 0 1 0 -5.7 0M235.81 539.9a2.85 2.85 0 1 0 5.7 0a2.85 2.85 0 1 0 -5.7 0M276.2 544.44a2.85 2.85 0 1 0 5.7 0a2.85 2.85 0 1 0 -5.7 0M247.41 544.15a2.85 2.85 0 1 0 5.7 0a2.85 2.85 0 1 0 -5.7 0M217.83 547.25a2.85 2.85 0 1 0 5.7 0a2.85 2.85 0 1 0 -5.7 0M315.07 543.94a2.85 2.85 0 1 0 5.7 0a2.85 2.85 0 1 0 -5.7 0M237.64 547.69a2.85 2.85 0 1 0 5.7 0a2.85 2.85 0 1 0 -5.7 0M297.49 545.54a2.85 2.85 0 1 0 5.7 0a2.85 2.85 0 1 0 -5.7 0M291.53 546.61a2.85 2.85 0 1 0 5.7 0a2.85 2.85 0 1 0 -5.7 0M251.01 545.28a2.85 2.85 0 1 0 5.7 0a2.85 2.85 0 1 0 -5.7 0M267.86 549.9a2.85 2.85 0 1 0 5.7 0a2.85 2.85 0 1 0 -5.7 0M308.6 542.56a2.85 2.85 0 1 0 5.7 0a2.85 2.85 0 1 0 -5.7 0M273.33 546.24a2.85 2.85 0 1 0 5.7 0a2.85 2.85 0 1 0 -5.7 0M352.75 546.22a2.85 2.85 0 1 0 5.7 0a2.85 2.85 0 1 0 -5.7 0" fill="none" stroke="#111" stroke-width="1.15"/>
<path d="M50 398.2L51.58 413.02L53.16 416.14L54.73 419.5L56.31 423.09L57.89 426.89L59.47 430.88L61.05 435.05L62.62 439.42L64.2 443.32L65.78 446.98L67.36 450.48L68.93 453.84L70.51 457.1L72.09 460.26L73.67 463.33L75.25 466.33L76.82 469.27L78.4 472.13L79.98 474.91L81.56 477.62L83.14 480.3L84.71 482.94L86.29 485.54L87.87 488.1L89.45 490.62L91.03 493.07L92.6 495.45L94.18 497.75L95.76 499.92L97.34 501.98L98.91 503.93L100.49 505.78L102.07 507.55L103.65 509.25L105.23 510.88L106.8 512.44L108.38 513.93L109.96 515.35L111.54 516.7L113.12 517.98L114.69 519.22L116.27 520.41L117.85 521.56L119.43 522.68L121.01 523.79L122.58 524.87L124.16 525.92L125.74 526.95L127.32 527.95L128.89 528.93L130.47 529.88L132.05 530.8L133.63 531.69L135.21 532.57L136.78 533.39L138.36 534.15L139.94 534.87L141.52 535.56L143.1 536.22L144.67 536.86L146.25 537.48L147.83 538.06L149.41 538.63L150.98 539.17L152.56 539.68L154.14 540.16L155.72 540.61L157.3 541.01L158.87 541.37L160.45 541.71L162.03 542.03L163.61 542.34L165.19 542.63L166.76 542.9L168.34 543.16L169.92 543.39L171.5 543.61L173.08 543.82L174.65 544L176.23 544.15L177.81 544.28L179.39 544.41L180.96 544.54L182.54 544.65L184.12 544.76L185.7 544.87L187.28 544.97L188.85 545.06L190.43 545.15L192.01 545.23L193.59 545.31L195.17 545.37L196.74 545.42L198.32 545.47L199.9 545.51L201.48 545.56L203.06 545.59L204.63 545.62L206.21 545.65L207.79 545.68L209.37 545.7L210.94 545.71L212.52 545.72L214.1 545.73L215.68 545.73L217.26 545.74L218.83 545.74L220.41 545.74L221.99 545.75L223.57 545.75L225.15 545.76L226.72 545.76L228.3 545.76L229.88 545.77L231.46 545.77L233.04 545.78L234.61 545.78L236.19 545.78L237.77 545.79L239.35 545.79L240.92 545.79L242.5 545.8L244.08 545.8L245.66 545.81L247.24 545.81L248.81 545.81L250.39 545.82L251.97 545.82L253.55 545.83L255.13 545.83L256.7 545.83L258.28 545.84L259.86 545.84L261.44 545.85L263.02 545.85L264.59 545.85L266.17 545.86L267.75 545.86L269.33 545.87L270.9 545.87L272.48 545.87L274.06 545.88L275.64 545.88L277.22 545.88L278.79 545.89L280.37 545.89L281.95 545.9L283.53 545.9L285.11 545.9L286.68 545.91L288.26 545.91L289.84 545.92L291.42 545.92L292.99 545.92L294.57 545.93L296.15 545.93L297.73 545.94L299.31 545.94L300.88 545.94L302.46 545.95L304.04 545.95L305.62 545.96L307.2 545.96L308.77 545.96L310.35 545.97L311.93 545.97L313.51 545.97L315.09 545.98L316.66 545.98L318.24 545.99L319.82 545.99L321.4 545.99L322.97 546L324.55 546L326.13 546.01L327.71 546.01L329.29 546.01L330.86 546.02L332.44 546.02L334.02 546.03L335.6 546.03L337.18 546.03L338.75 546.04L340.33 546.04L341.91 546.05L343.49 546.05L345.07 546.05L346.64 546.06L348.22 546.06L349.8 546.06L351.38 546.07L352.95 546.07L354.53 546.08L356.11 546.08L357.69 546.08L359.27 546.09L360.84 546.09L362.42 546.09L364 546.1" fill="none" stroke="#000" stroke-width="2.4" stroke-linejoin="round" stroke-linecap="round"/>
<clipPath id="ecl"><rect x="39.8" y="650" width="30" height="280"/></clipPath><g clip-path="url(#ecl)">
<path d="M36.95 734a2.85 2.85 0 1 0 5.7 0a2.85 2.85 0 1 0 -5.7 0M36.95 742a2.85 2.85 0 1 0 5.7 0a2.85 2.85 0 1 0 -5.7 0M36.95 750a2.85 2.85 0 1 0 5.7 0a2.85 2.85 0 1 0 -5.7 0M36.95 759a2.85 2.85 0 1 0 5.7 0a2.85 2.85 0 1 0 -5.7 0M36.95 768a2.85 2.85 0 1 0 5.7 0a2.85 2.85 0 1 0 -5.7 0M36.95 776a2.85 2.85 0 1 0 5.7 0a2.85 2.85 0 1 0 -5.7 0M36.95 785a2.85 2.85 0 1 0 5.7 0a2.85 2.85 0 1 0 -5.7 0M36.95 793a2.85 2.85 0 1 0 5.7 0a2.85 2.85 0 1 0 -5.7 0" fill="none" stroke="#111" stroke-width="1.15"/>
</g>
<path d="M37.05 801a2.85 2.85 0 1 0 5.7 0a2.85 2.85 0 1 0 -5.7 0M37.05 822a2.85 2.85 0 1 0 5.7 0a2.85 2.85 0 1 0 -5.7 0" fill="none" stroke="#111" stroke-width="1.15"/>
<path d="M39.6 726.1L245.6 726.1" fill="none" stroke="#3a3a3a" stroke-width="1.8" stroke-dasharray="4.5 4.4" stroke-linejoin="round" stroke-linecap="butt"/>
<path d="M73.65 880a2.85 2.85 0 1 0 5.7 0a2.85 2.85 0 1 0 -5.7 0M56.45 847.9a2.85 2.85 0 1 0 5.7 0a2.85 2.85 0 1 0 -5.7 0M59.65 856.9a2.85 2.85 0 1 0 5.7 0a2.85 2.85 0 1 0 -5.7 0M63.95 861.2a2.85 2.85 0 1 0 5.7 0a2.85 2.85 0 1 0 -5.7 0M72.55 859a2.85 2.85 0 1 0 5.7 0a2.85 2.85 0 1 0 -5.7 0M76.15 866.1a2.85 2.85 0 1 0 5.7 0a2.85 2.85 0 1 0 -5.7 0M81.75 864.6a2.85 2.85 0 1 0 5.7 0a2.85 2.85 0 1 0 -5.7 0M53.25 836.1a2.85 2.85 0 1 0 5.7 0a2.85 2.85 0 1 0 -5.7 0M55.35 841.4a2.85 2.85 0 1 0 5.7 0a2.85 2.85 0 1 0 -5.7 0M67.15 844.7a2.85 2.85 0 1 0 5.7 0a2.85 2.85 0 1 0 -5.7 0M90.35 869.8a2.85 2.85 0 1 0 5.7 0a2.85 2.85 0 1 0 -5.7 0M96.15 877.5a2.85 2.85 0 1 0 5.7 0a2.85 2.85 0 1 0 -5.7 0M131.95 890.3a2.85 2.85 0 1 0 5.7 0a2.85 2.85 0 1 0 -5.7 0M149.75 890.8a2.85 2.85 0 1 0 5.7 0a2.85 2.85 0 1 0 -5.7 0M163.65 892.5a2.85 2.85 0 1 0 5.7 0a2.85 2.85 0 1 0 -5.7 0M52.85 836.5a2.85 2.85 0 1 0 5.7 0a2.85 2.85 0 1 0 -5.7 0M54.85 841.7a2.85 2.85 0 1 0 5.7 0a2.85 2.85 0 1 0 -5.7 0M59.35 856.1a2.85 2.85 0 1 0 5.7 0a2.85 2.85 0 1 0 -5.7 0M67.35 845.4a2.85 2.85 0 1 0 5.7 0a2.85 2.85 0 1 0 -5.7 0M72.15 858.2a2.85 2.85 0 1 0 5.7 0a2.85 2.85 0 1 0 -5.7 0M50.95 828.1a2.85 2.85 0 1 0 5.7 0a2.85 2.85 0 1 0 -5.7 0M60.15 834.9a2.85 2.85 0 1 0 5.7 0a2.85 2.85 0 1 0 -5.7 0M43.15 772a2.85 2.85 0 1 0 5.7 0a2.85 2.85 0 1 0 -5.7 0M43.65 776a2.85 2.85 0 1 0 5.7 0a2.85 2.85 0 1 0 -5.7 0M44.15 780a2.85 2.85 0 1 0 5.7 0a2.85 2.85 0 1 0 -5.7 0M141.97 876.62a2.85 2.85 0 1 0 5.7 0a2.85 2.85 0 1 0 -5.7 0M83.44 850.15a2.85 2.85 0 1 0 5.7 0a2.85 2.85 0 1 0 -5.7 0M68.49 827.35a2.85 2.85 0 1 0 5.7 0a2.85 2.85 0 1 0 -5.7 0M88.56 850.28a2.85 2.85 0 1 0 5.7 0a2.85 2.85 0 1 0 -5.7 0M163.4 877.82a2.85 2.85 0 1 0 5.7 0a2.85 2.85 0 1 0 -5.7 0M74.57 827.14a2.85 2.85 0 1 0 5.7 0a2.85 2.85 0 1 0 -5.7 0M78.3 838.01a2.85 2.85 0 1 0 5.7 0a2.85 2.85 0 1 0 -5.7 0M68.59 828.85a2.85 2.85 0 1 0 5.7 0a2.85 2.85 0 1 0 -5.7 0M123.17 873.44a2.85 2.85 0 1 0 5.7 0a2.85 2.85 0 1 0 -5.7 0M139.31 879.95a2.85 2.85 0 1 0 5.7 0a2.85 2.85 0 1 0 -5.7 0M91.39 851.63a2.85 2.85 0 1 0 5.7 0a2.85 2.85 0 1 0 -5.7 0M81.05 851.8a2.85 2.85 0 1 0 5.7 0a2.85 2.85 0 1 0 -5.7 0M97.15 858.09a2.85 2.85 0 1 0 5.7 0a2.85 2.85 0 1 0 -5.7 0M87.52 846.27a2.85 2.85 0 1 0 5.7 0a2.85 2.85 0 1 0 -5.7 0M119.56 876.87a2.85 2.85 0 1 0 5.7 0a2.85 2.85 0 1 0 -5.7 0M157.98 878.73a2.85 2.85 0 1 0 5.7 0a2.85 2.85 0 1 0 -5.7 0M81.2 846.78a2.85 2.85 0 1 0 5.7 0a2.85 2.85 0 1 0 -5.7 0M77.45 824.7a2.85 2.85 0 1 0 5.7 0a2.85 2.85 0 1 0 -5.7 0M94.47 861.27a2.85 2.85 0 1 0 5.7 0a2.85 2.85 0 1 0 -5.7 0M85.69 847.57a2.85 2.85 0 1 0 5.7 0a2.85 2.85 0 1 0 -5.7 0M135.06 879.02a2.85 2.85 0 1 0 5.7 0a2.85 2.85 0 1 0 -5.7 0M94.8 860.85a2.85 2.85 0 1 0 5.7 0a2.85 2.85 0 1 0 -5.7 0M65.4 821.64a2.85 2.85 0 1 0 5.7 0a2.85 2.85 0 1 0 -5.7 0M75.23 831.5a2.85 2.85 0 1 0 5.7 0a2.85 2.85 0 1 0 -5.7 0M133.4 879.24a2.85 2.85 0 1 0 5.7 0a2.85 2.85 0 1 0 -5.7 0M120.96 876.83a2.85 2.85 0 1 0 5.7 0a2.85 2.85 0 1 0 -5.7 0M108.56 864.76a2.85 2.85 0 1 0 5.7 0a2.85 2.85 0 1 0 -5.7 0M78.74 832.86a2.85 2.85 0 1 0 5.7 0a2.85 2.85 0 1 0 -5.7 0M58.03 804.59a2.85 2.85 0 1 0 5.7 0a2.85 2.85 0 1 0 -5.7 0M97.45 862.54a2.85 2.85 0 1 0 5.7 0a2.85 2.85 0 1 0 -5.7 0M85.69 837.86a2.85 2.85 0 1 0 5.7 0a2.85 2.85 0 1 0 -5.7 0M86.72 844.47a2.85 2.85 0 1 0 5.7 0a2.85 2.85 0 1 0 -5.7 0M101.24 856.85a2.85 2.85 0 1 0 5.7 0a2.85 2.85 0 1 0 -5.7 0M120.69 871.55a2.85 2.85 0 1 0 5.7 0a2.85 2.85 0 1 0 -5.7 0M164.95 883.29a2.85 2.85 0 1 0 5.7 0a2.85 2.85 0 1 0 -5.7 0M108.26 861.26a2.85 2.85 0 1 0 5.7 0a2.85 2.85 0 1 0 -5.7 0M47.93 786.88a2.85 2.85 0 1 0 5.7 0a2.85 2.85 0 1 0 -5.7 0M128.96 875.08a2.85 2.85 0 1 0 5.7 0a2.85 2.85 0 1 0 -5.7 0M143.75 880.81a2.85 2.85 0 1 0 5.7 0a2.85 2.85 0 1 0 -5.7 0M125.43 871.6a2.85 2.85 0 1 0 5.7 0a2.85 2.85 0 1 0 -5.7 0M135.1 879.11a2.85 2.85 0 1 0 5.7 0a2.85 2.85 0 1 0 -5.7 0M100.03 858.78a2.85 2.85 0 1 0 5.7 0a2.85 2.85 0 1 0 -5.7 0M134.18 885.06a2.85 2.85 0 1 0 5.7 0a2.85 2.85 0 1 0 -5.7 0M72.02 828.67a2.85 2.85 0 1 0 5.7 0a2.85 2.85 0 1 0 -5.7 0M121.63 876.54a2.85 2.85 0 1 0 5.7 0a2.85 2.85 0 1 0 -5.7 0M83.91 855.19a2.85 2.85 0 1 0 5.7 0a2.85 2.85 0 1 0 -5.7 0M148.45 879.85a2.85 2.85 0 1 0 5.7 0a2.85 2.85 0 1 0 -5.7 0M72.24 831.78a2.85 2.85 0 1 0 5.7 0a2.85 2.85 0 1 0 -5.7 0M91.83 859.46a2.85 2.85 0 1 0 5.7 0a2.85 2.85 0 1 0 -5.7 0M115.89 867.75a2.85 2.85 0 1 0 5.7 0a2.85 2.85 0 1 0 -5.7 0M98.3 859.12a2.85 2.85 0 1 0 5.7 0a2.85 2.85 0 1 0 -5.7 0M57.93 822.56a2.85 2.85 0 1 0 5.7 0a2.85 2.85 0 1 0 -5.7 0M122.37 878.26a2.85 2.85 0 1 0 5.7 0a2.85 2.85 0 1 0 -5.7 0M58.41 805.14a2.85 2.85 0 1 0 5.7 0a2.85 2.85 0 1 0 -5.7 0M83.31 846.95a2.85 2.85 0 1 0 5.7 0a2.85 2.85 0 1 0 -5.7 0M49.86 794.03a2.85 2.85 0 1 0 5.7 0a2.85 2.85 0 1 0 -5.7 0M178.75 879.02a2.85 2.85 0 1 0 5.7 0a2.85 2.85 0 1 0 -5.7 0M47.11 794.05a2.85 2.85 0 1 0 5.7 0a2.85 2.85 0 1 0 -5.7 0M116.59 871.34a2.85 2.85 0 1 0 5.7 0a2.85 2.85 0 1 0 -5.7 0M74.51 842.72a2.85 2.85 0 1 0 5.7 0a2.85 2.85 0 1 0 -5.7 0M103.81 866.22a2.85 2.85 0 1 0 5.7 0a2.85 2.85 0 1 0 -5.7 0M59.4 808.12a2.85 2.85 0 1 0 5.7 0a2.85 2.85 0 1 0 -5.7 0M70.92 826.67a2.85 2.85 0 1 0 5.7 0a2.85 2.85 0 1 0 -5.7 0M53.4 789.12a2.85 2.85 0 1 0 5.7 0a2.85 2.85 0 1 0 -5.7 0M52.21 798.12a2.85 2.85 0 1 0 5.7 0a2.85 2.85 0 1 0 -5.7 0M115.87 869.05a2.85 2.85 0 1 0 5.7 0a2.85 2.85 0 1 0 -5.7 0M63.5 823.21a2.85 2.85 0 1 0 5.7 0a2.85 2.85 0 1 0 -5.7 0M61.93 814.59a2.85 2.85 0 1 0 5.7 0a2.85 2.85 0 1 0 -5.7 0M145.45 883.29a2.85 2.85 0 1 0 5.7 0a2.85 2.85 0 1 0 -5.7 0M56.16 792.11a2.85 2.85 0 1 0 5.7 0a2.85 2.85 0 1 0 -5.7 0M70.1 825.59a2.85 2.85 0 1 0 5.7 0a2.85 2.85 0 1 0 -5.7 0M126.71 876.77a2.85 2.85 0 1 0 5.7 0a2.85 2.85 0 1 0 -5.7 0M63.69 826.69a2.85 2.85 0 1 0 5.7 0a2.85 2.85 0 1 0 -5.7 0M121.9 874.06a2.85 2.85 0 1 0 5.7 0a2.85 2.85 0 1 0 -5.7 0M137.41 868.19a2.85 2.85 0 1 0 5.7 0a2.85 2.85 0 1 0 -5.7 0M49.97 795.68a2.85 2.85 0 1 0 5.7 0a2.85 2.85 0 1 0 -5.7 0M98.47 855.36a2.85 2.85 0 1 0 5.7 0a2.85 2.85 0 1 0 -5.7 0M86.88 846.66a2.85 2.85 0 1 0 5.7 0a2.85 2.85 0 1 0 -5.7 0M122.12 876.1a2.85 2.85 0 1 0 5.7 0a2.85 2.85 0 1 0 -5.7 0M81.58 847.32a2.85 2.85 0 1 0 5.7 0a2.85 2.85 0 1 0 -5.7 0M77.64 839.59a2.85 2.85 0 1 0 5.7 0a2.85 2.85 0 1 0 -5.7 0M68.41 830.79a2.85 2.85 0 1 0 5.7 0a2.85 2.85 0 1 0 -5.7 0M69.39 832.59a2.85 2.85 0 1 0 5.7 0a2.85 2.85 0 1 0 -5.7 0M66.58 828.91a2.85 2.85 0 1 0 5.7 0a2.85 2.85 0 1 0 -5.7 0M130.14 878.49a2.85 2.85 0 1 0 5.7 0a2.85 2.85 0 1 0 -5.7 0M80.46 837.68a2.85 2.85 0 1 0 5.7 0a2.85 2.85 0 1 0 -5.7 0M81.8 834.57a2.85 2.85 0 1 0 5.7 0a2.85 2.85 0 1 0 -5.7 0M49.52 780.33a2.85 2.85 0 1 0 5.7 0a2.85 2.85 0 1 0 -5.7 0M97.87 861.09a2.85 2.85 0 1 0 5.7 0a2.85 2.85 0 1 0 -5.7 0M71.13 841.53a2.85 2.85 0 1 0 5.7 0a2.85 2.85 0 1 0 -5.7 0M97.21 867.06a2.85 2.85 0 1 0 5.7 0a2.85 2.85 0 1 0 -5.7 0M40.89 782.35a2.85 2.85 0 1 0 5.7 0a2.85 2.85 0 1 0 -5.7 0M47.99 794.1a2.85 2.85 0 1 0 5.7 0a2.85 2.85 0 1 0 -5.7 0M57.13 803.41a2.85 2.85 0 1 0 5.7 0a2.85 2.85 0 1 0 -5.7 0M88.01 859.44a2.85 2.85 0 1 0 5.7 0a2.85 2.85 0 1 0 -5.7 0M62.85 816.29a2.85 2.85 0 1 0 5.7 0a2.85 2.85 0 1 0 -5.7 0M94.41 858.59a2.85 2.85 0 1 0 5.7 0a2.85 2.85 0 1 0 -5.7 0M66.34 826.88a2.85 2.85 0 1 0 5.7 0a2.85 2.85 0 1 0 -5.7 0M41.81 802.99a2.85 2.85 0 1 0 5.7 0a2.85 2.85 0 1 0 -5.7 0M88.23 852.23a2.85 2.85 0 1 0 5.7 0a2.85 2.85 0 1 0 -5.7 0M99.18 865.1a2.85 2.85 0 1 0 5.7 0a2.85 2.85 0 1 0 -5.7 0M136.8 880.57a2.85 2.85 0 1 0 5.7 0a2.85 2.85 0 1 0 -5.7 0M57.75 809.06a2.85 2.85 0 1 0 5.7 0a2.85 2.85 0 1 0 -5.7 0M122.56 872.53a2.85 2.85 0 1 0 5.7 0a2.85 2.85 0 1 0 -5.7 0M152.9 877.27a2.85 2.85 0 1 0 5.7 0a2.85 2.85 0 1 0 -5.7 0M54.58 802.25a2.85 2.85 0 1 0 5.7 0a2.85 2.85 0 1 0 -5.7 0M155.82 887.36a2.85 2.85 0 1 0 5.7 0a2.85 2.85 0 1 0 -5.7 0M71.13 832.28a2.85 2.85 0 1 0 5.7 0a2.85 2.85 0 1 0 -5.7 0M113.54 875.5a2.85 2.85 0 1 0 5.7 0a2.85 2.85 0 1 0 -5.7 0M161.05 880.78a2.85 2.85 0 1 0 5.7 0a2.85 2.85 0 1 0 -5.7 0M112 872.6a2.85 2.85 0 1 0 5.7 0a2.85 2.85 0 1 0 -5.7 0M74.26 833.82a2.85 2.85 0 1 0 5.7 0a2.85 2.85 0 1 0 -5.7 0M105.86 867.37a2.85 2.85 0 1 0 5.7 0a2.85 2.85 0 1 0 -5.7 0M117.04 871.6a2.85 2.85 0 1 0 5.7 0a2.85 2.85 0 1 0 -5.7 0M45.48 794.9a2.85 2.85 0 1 0 5.7 0a2.85 2.85 0 1 0 -5.7 0M58.3 802.87a2.85 2.85 0 1 0 5.7 0a2.85 2.85 0 1 0 -5.7 0M67.54 812.02a2.85 2.85 0 1 0 5.7 0a2.85 2.85 0 1 0 -5.7 0M70.86 831.68a2.85 2.85 0 1 0 5.7 0a2.85 2.85 0 1 0 -5.7 0M64.54 819.67a2.85 2.85 0 1 0 5.7 0a2.85 2.85 0 1 0 -5.7 0M81.13 834.89a2.85 2.85 0 1 0 5.7 0a2.85 2.85 0 1 0 -5.7 0M130.31 874.94a2.85 2.85 0 1 0 5.7 0a2.85 2.85 0 1 0 -5.7 0M164.41 887.07a2.85 2.85 0 1 0 5.7 0a2.85 2.85 0 1 0 -5.7 0M69.75 818.82a2.85 2.85 0 1 0 5.7 0a2.85 2.85 0 1 0 -5.7 0M151.78 878.91a2.85 2.85 0 1 0 5.7 0a2.85 2.85 0 1 0 -5.7 0M65.74 811.82a2.85 2.85 0 1 0 5.7 0a2.85 2.85 0 1 0 -5.7 0M91.58 853.88a2.85 2.85 0 1 0 5.7 0a2.85 2.85 0 1 0 -5.7 0M109.19 864.81a2.85 2.85 0 1 0 5.7 0a2.85 2.85 0 1 0 -5.7 0M81.76 838.27a2.85 2.85 0 1 0 5.7 0a2.85 2.85 0 1 0 -5.7 0M57.75 807.25a2.85 2.85 0 1 0 5.7 0a2.85 2.85 0 1 0 -5.7 0M146.03 876.94a2.85 2.85 0 1 0 5.7 0a2.85 2.85 0 1 0 -5.7 0M150.95 877.92a2.85 2.85 0 1 0 5.7 0a2.85 2.85 0 1 0 -5.7 0M55.54 805.03a2.85 2.85 0 1 0 5.7 0a2.85 2.85 0 1 0 -5.7 0M70.22 820.11a2.85 2.85 0 1 0 5.7 0a2.85 2.85 0 1 0 -5.7 0M127.2 874.53a2.85 2.85 0 1 0 5.7 0a2.85 2.85 0 1 0 -5.7 0M88.89 852.86a2.85 2.85 0 1 0 5.7 0a2.85 2.85 0 1 0 -5.7 0M58.7 813.6a2.85 2.85 0 1 0 5.7 0a2.85 2.85 0 1 0 -5.7 0M67.91 827.78a2.85 2.85 0 1 0 5.7 0a2.85 2.85 0 1 0 -5.7 0M105.28 870.17a2.85 2.85 0 1 0 5.7 0a2.85 2.85 0 1 0 -5.7 0M178.12 883.03a2.85 2.85 0 1 0 5.7 0a2.85 2.85 0 1 0 -5.7 0M127.75 873.79a2.85 2.85 0 1 0 5.7 0a2.85 2.85 0 1 0 -5.7 0M182.67 880.06a2.85 2.85 0 1 0 5.7 0a2.85 2.85 0 1 0 -5.7 0M82.13 844.5a2.85 2.85 0 1 0 5.7 0a2.85 2.85 0 1 0 -5.7 0M136.13 874.44a2.85 2.85 0 1 0 5.7 0a2.85 2.85 0 1 0 -5.7 0M56.79 821.82a2.85 2.85 0 1 0 5.7 0a2.85 2.85 0 1 0 -5.7 0M115.98 869.36a2.85 2.85 0 1 0 5.7 0a2.85 2.85 0 1 0 -5.7 0M134.23 879.75a2.85 2.85 0 1 0 5.7 0a2.85 2.85 0 1 0 -5.7 0M109.35 869a2.85 2.85 0 1 0 5.7 0a2.85 2.85 0 1 0 -5.7 0M165.83 888.65a2.85 2.85 0 1 0 5.7 0a2.85 2.85 0 1 0 -5.7 0M309.02 890.13a2.85 2.85 0 1 0 5.7 0a2.85 2.85 0 1 0 -5.7 0M291.92 892.7a2.85 2.85 0 1 0 5.7 0a2.85 2.85 0 1 0 -5.7 0M292.49 890.56a2.85 2.85 0 1 0 5.7 0a2.85 2.85 0 1 0 -5.7 0M202.84 886.23a2.85 2.85 0 1 0 5.7 0a2.85 2.85 0 1 0 -5.7 0M344.9 885.52a2.85 2.85 0 1 0 5.7 0a2.85 2.85 0 1 0 -5.7 0M266.54 888.53a2.85 2.85 0 1 0 5.7 0a2.85 2.85 0 1 0 -5.7 0M204.22 887.83a2.85 2.85 0 1 0 5.7 0a2.85 2.85 0 1 0 -5.7 0M219.88 888.65a2.85 2.85 0 1 0 5.7 0a2.85 2.85 0 1 0 -5.7 0M309.21 887.05a2.85 2.85 0 1 0 5.7 0a2.85 2.85 0 1 0 -5.7 0M209.34 887.22a2.85 2.85 0 1 0 5.7 0a2.85 2.85 0 1 0 -5.7 0M335.01 889.61a2.85 2.85 0 1 0 5.7 0a2.85 2.85 0 1 0 -5.7 0M331.07 887.72a2.85 2.85 0 1 0 5.7 0a2.85 2.85 0 1 0 -5.7 0M233.62 888.87a2.85 2.85 0 1 0 5.7 0a2.85 2.85 0 1 0 -5.7 0M274.6 886.82a2.85 2.85 0 1 0 5.7 0a2.85 2.85 0 1 0 -5.7 0M322.79 881.37a2.85 2.85 0 1 0 5.7 0a2.85 2.85 0 1 0 -5.7 0M254.63 885.6a2.85 2.85 0 1 0 5.7 0a2.85 2.85 0 1 0 -5.7 0M268.77 885.24a2.85 2.85 0 1 0 5.7 0a2.85 2.85 0 1 0 -5.7 0M227.67 889.43a2.85 2.85 0 1 0 5.7 0a2.85 2.85 0 1 0 -5.7 0M345.7 890.49a2.85 2.85 0 1 0 5.7 0a2.85 2.85 0 1 0 -5.7 0M314.11 884.3a2.85 2.85 0 1 0 5.7 0a2.85 2.85 0 1 0 -5.7 0M227.15 887.12a2.85 2.85 0 1 0 5.7 0a2.85 2.85 0 1 0 -5.7 0M337.92 885.57a2.85 2.85 0 1 0 5.7 0a2.85 2.85 0 1 0 -5.7 0M272.12 888.3a2.85 2.85 0 1 0 5.7 0a2.85 2.85 0 1 0 -5.7 0M317.41 888.73a2.85 2.85 0 1 0 5.7 0a2.85 2.85 0 1 0 -5.7 0M342.02 888.61a2.85 2.85 0 1 0 5.7 0a2.85 2.85 0 1 0 -5.7 0M269.14 886.23a2.85 2.85 0 1 0 5.7 0a2.85 2.85 0 1 0 -5.7 0M299.62 888.14a2.85 2.85 0 1 0 5.7 0a2.85 2.85 0 1 0 -5.7 0M274.64 885.88a2.85 2.85 0 1 0 5.7 0a2.85 2.85 0 1 0 -5.7 0M307.47 885.6a2.85 2.85 0 1 0 5.7 0a2.85 2.85 0 1 0 -5.7 0M225.55 884.65a2.85 2.85 0 1 0 5.7 0a2.85 2.85 0 1 0 -5.7 0M316.51 883.83a2.85 2.85 0 1 0 5.7 0a2.85 2.85 0 1 0 -5.7 0M219.9 887.26a2.85 2.85 0 1 0 5.7 0a2.85 2.85 0 1 0 -5.7 0M281.39 887.76a2.85 2.85 0 1 0 5.7 0a2.85 2.85 0 1 0 -5.7 0M272.86 883.88a2.85 2.85 0 1 0 5.7 0a2.85 2.85 0 1 0 -5.7 0M278.72 884.54a2.85 2.85 0 1 0 5.7 0a2.85 2.85 0 1 0 -5.7 0M197.49 885.54a2.85 2.85 0 1 0 5.7 0a2.85 2.85 0 1 0 -5.7 0M211.22 883.22a2.85 2.85 0 1 0 5.7 0a2.85 2.85 0 1 0 -5.7 0M276.34 886.55a2.85 2.85 0 1 0 5.7 0a2.85 2.85 0 1 0 -5.7 0M208.93 887.14a2.85 2.85 0 1 0 5.7 0a2.85 2.85 0 1 0 -5.7 0M242.88 890.32a2.85 2.85 0 1 0 5.7 0a2.85 2.85 0 1 0 -5.7 0M269.81 889.07a2.85 2.85 0 1 0 5.7 0a2.85 2.85 0 1 0 -5.7 0M195.09 889.61a2.85 2.85 0 1 0 5.7 0a2.85 2.85 0 1 0 -5.7 0M195.91 888.14a2.85 2.85 0 1 0 5.7 0a2.85 2.85 0 1 0 -5.7 0M246.26 887.72a2.85 2.85 0 1 0 5.7 0a2.85 2.85 0 1 0 -5.7 0M204.88 886.87a2.85 2.85 0 1 0 5.7 0a2.85 2.85 0 1 0 -5.7 0M347.11 891.93a2.85 2.85 0 1 0 5.7 0a2.85 2.85 0 1 0 -5.7 0M243.03 884.3a2.85 2.85 0 1 0 5.7 0a2.85 2.85 0 1 0 -5.7 0M244.26 885.32a2.85 2.85 0 1 0 5.7 0a2.85 2.85 0 1 0 -5.7 0M248.34 885.51a2.85 2.85 0 1 0 5.7 0a2.85 2.85 0 1 0 -5.7 0M218.45 884.78a2.85 2.85 0 1 0 5.7 0a2.85 2.85 0 1 0 -5.7 0M352.89 885.19a2.85 2.85 0 1 0 5.7 0a2.85 2.85 0 1 0 -5.7 0M336.12 889.55a2.85 2.85 0 1 0 5.7 0a2.85 2.85 0 1 0 -5.7 0M193.63 886.29a2.85 2.85 0 1 0 5.7 0a2.85 2.85 0 1 0 -5.7 0M283.81 886.72a2.85 2.85 0 1 0 5.7 0a2.85 2.85 0 1 0 -5.7 0M214.51 888.73a2.85 2.85 0 1 0 5.7 0a2.85 2.85 0 1 0 -5.7 0M322.15 887.88a2.85 2.85 0 1 0 5.7 0a2.85 2.85 0 1 0 -5.7 0M214.14 887.69a2.85 2.85 0 1 0 5.7 0a2.85 2.85 0 1 0 -5.7 0M212.38 887.21a2.85 2.85 0 1 0 5.7 0a2.85 2.85 0 1 0 -5.7 0M195.26 886.6a2.85 2.85 0 1 0 5.7 0a2.85 2.85 0 1 0 -5.7 0M291.52 887.37a2.85 2.85 0 1 0 5.7 0a2.85 2.85 0 1 0 -5.7 0M274.71 885.48a2.85 2.85 0 1 0 5.7 0a2.85 2.85 0 1 0 -5.7 0M201.83 888.52a2.85 2.85 0 1 0 5.7 0a2.85 2.85 0 1 0 -5.7 0M250.94 881.55a2.85 2.85 0 1 0 5.7 0a2.85 2.85 0 1 0 -5.7 0M353.72 883.7a2.85 2.85 0 1 0 5.7 0a2.85 2.85 0 1 0 -5.7 0M189.89 885.05a2.85 2.85 0 1 0 5.7 0a2.85 2.85 0 1 0 -5.7 0M200.22 887.85a2.85 2.85 0 1 0 5.7 0a2.85 2.85 0 1 0 -5.7 0M262.98 888.94a2.85 2.85 0 1 0 5.7 0a2.85 2.85 0 1 0 -5.7 0M213.98 890.41a2.85 2.85 0 1 0 5.7 0a2.85 2.85 0 1 0 -5.7 0M311.46 891.82a2.85 2.85 0 1 0 5.7 0a2.85 2.85 0 1 0 -5.7 0M313.58 889.07a2.85 2.85 0 1 0 5.7 0a2.85 2.85 0 1 0 -5.7 0" fill="none" stroke="#111" stroke-width="1.15"/>
<path d="M40 779.9L41.63 786.76L43.26 788.56L44.88 790.53L46.51 792.67L48.14 794.98L49.77 797.47L51.4 800.1L53.03 802.85L54.65 805.59L56.28 808.32L57.91 811.03L59.54 813.71L61.17 816.34L62.79 818.9L64.42 821.39L66.05 823.82L67.68 826.2L69.31 828.56L70.93 830.9L72.56 833.19L74.19 835.44L75.82 837.66L77.45 839.88L79.08 842.05L80.7 844.18L82.33 846.26L83.96 848.27L85.59 850.2L87.22 852.07L88.84 853.88L90.47 855.62L92.1 857.29L93.73 858.9L95.36 860.42L96.98 861.89L98.61 863.32L100.24 864.7L101.87 866.04L103.5 867.33L105.13 868.56L106.75 869.7L108.38 870.81L110.01 871.87L111.64 872.89L113.27 873.86L114.89 874.79L116.52 875.66L118.15 876.48L119.78 877.26L121.41 878L123.04 878.69L124.66 879.35L126.29 879.95L127.92 880.49L129.55 881.01L131.18 881.51L132.8 881.99L134.43 882.44L136.06 882.87L137.69 883.26L139.32 883.62L140.94 883.95L142.57 884.26L144.2 884.55L145.83 884.81L147.46 885.05L149.09 885.26L150.71 885.45L152.34 885.63L153.97 885.8L155.6 885.95L157.23 886.09L158.85 886.21L160.48 886.31L162.11 886.41L163.74 886.5L165.37 886.59L166.99 886.68L168.62 886.76L170.25 886.83L171.88 886.9L173.51 886.96L175.14 887.02L176.76 887.07L178.39 887.12L180.02 887.16L181.65 887.2L183.28 887.24L184.9 887.28L186.53 887.32L188.16 887.35L189.79 887.39L191.42 887.42L193.05 887.45L194.67 887.47L196.3 887.5L197.93 887.52L199.56 887.54L201.19 887.55L202.81 887.57L204.44 887.58L206.07 887.59L207.7 887.6L209.33 887.6L210.95 887.6L212.58 887.6L214.21 887.6L215.84 887.6L217.47 887.6L219.1 887.6L220.72 887.6L222.35 887.6L223.98 887.6L225.61 887.6L227.24 887.6L228.86 887.6L230.49 887.6L232.12 887.6L233.75 887.6L235.38 887.6L237.01 887.6L238.63 887.6L240.26 887.6L241.89 887.6L243.52 887.6L245.15 887.6L246.77 887.6L248.4 887.6L250.03 887.6L251.66 887.6L253.29 887.6L254.91 887.6L256.54 887.6L258.17 887.6L259.8 887.6L261.43 887.6L263.06 887.6L264.68 887.6L266.31 887.6L267.94 887.6L269.57 887.6L271.2 887.6L272.82 887.6L274.45 887.6L276.08 887.6L277.71 887.6L279.34 887.6L280.96 887.6L282.59 887.6L284.22 887.6L285.85 887.6L287.48 887.6L289.11 887.6L290.73 887.6L292.36 887.6L293.99 887.6L295.62 887.6L297.25 887.6L298.87 887.6L300.5 887.6L302.13 887.6L303.76 887.6L305.39 887.6L307.02 887.6L308.64 887.6L310.27 887.6L311.9 887.6L313.53 887.6L315.16 887.6L316.78 887.6L318.41 887.6L320.04 887.6L321.67 887.6L323.3 887.6L324.92 887.6L326.55 887.6L328.18 887.6L329.81 887.6L331.44 887.6L333.07 887.6L334.69 887.6L336.32 887.6L337.95 887.6L339.58 887.6L341.21 887.6L342.83 887.6L344.46 887.6L346.09 887.6L347.72 887.6L349.35 887.6L350.97 887.6L352.6 887.6L354.23 887.6L355.86 887.6L357.49 887.6L359.12 887.6L360.74 887.6L362.37 887.6L364 887.6" fill="none" stroke="#000" stroke-width="2.4" stroke-linejoin="round" stroke-linecap="round"/>
<path d="M646.85 22.6a1.45 1.45 0 1 0 2.9 0a1.45 1.45 0 1 0 -2.9 0M632.35 23a1.45 1.45 0 1 0 2.9 0a1.45 1.45 0 1 0 -2.9 0M617.65 24a1.45 1.45 0 1 0 2.9 0a1.45 1.45 0 1 0 -2.9 0M609.85 27.1a1.45 1.45 0 1 0 2.9 0a1.45 1.45 0 1 0 -2.9 0M602.95 26.7a1.45 1.45 0 1 0 2.9 0a1.45 1.45 0 1 0 -2.9 0M597.55 28.1a1.45 1.45 0 1 0 2.9 0a1.45 1.45 0 1 0 -2.9 0M588.35 31.2a1.45 1.45 0 1 0 2.9 0a1.45 1.45 0 1 0 -2.9 0M585.95 32.4a1.45 1.45 0 1 0 2.9 0a1.45 1.45 0 1 0 -2.9 0M575.05 34.1a1.45 1.45 0 1 0 2.9 0a1.45 1.45 0 1 0 -2.9 0M574.55 36.1a1.45 1.45 0 1 0 2.9 0a1.45 1.45 0 1 0 -2.9 0M571.45 38.5a1.45 1.45 0 1 0 2.9 0a1.45 1.45 0 1 0 -2.9 0M568.35 40.2a1.45 1.45 0 1 0 2.9 0a1.45 1.45 0 1 0 -2.9 0M565.45 40.2a1.45 1.45 0 1 0 2.9 0a1.45 1.45 0 1 0 -2.9 0M560.55 40.9a1.45 1.45 0 1 0 2.9 0a1.45 1.45 0 1 0 -2.9 0M558.15 42.6a1.45 1.45 0 1 0 2.9 0a1.45 1.45 0 1 0 -2.9 0M555.25 45a1.45 1.45 0 1 0 2.9 0a1.45 1.45 0 1 0 -2.9 0M550.45 47.4a1.45 1.45 0 1 0 2.9 0a1.45 1.45 0 1 0 -2.9 0M548.55 49.3a1.45 1.45 0 1 0 2.9 0a1.45 1.45 0 1 0 -2.9 0M544.95 49.8a1.45 1.45 0 1 0 2.9 0a1.45 1.45 0 1 0 -2.9 0M541.75 52.2a1.45 1.45 0 1 0 2.9 0a1.45 1.45 0 1 0 -2.9 0M539.35 54.6a1.45 1.45 0 1 0 2.9 0a1.45 1.45 0 1 0 -2.9 0M532.85 60.7a1.45 1.45 0 1 0 2.9 0a1.45 1.45 0 1 0 -2.9 0M532.15 64.3a1.45 1.45 0 1 0 2.9 0a1.45 1.45 0 1 0 -2.9 0M529.75 66.7a1.45 1.45 0 1 0 2.9 0a1.45 1.45 0 1 0 -2.9 0M526.85 69.1a1.45 1.45 0 1 0 2.9 0a1.45 1.45 0 1 0 -2.9 0M521.95 76.4a1.45 1.45 0 1 0 2.9 0a1.45 1.45 0 1 0 -2.9 0M520.75 80a1.45 1.45 0 1 0 2.9 0a1.45 1.45 0 1 0 -2.9 0M518.35 82.4a1.45 1.45 0 1 0 2.9 0a1.45 1.45 0 1 0 -2.9 0M517.15 86a1.45 1.45 0 1 0 2.9 0a1.45 1.45 0 1 0 -2.9 0M514.75 89.6a1.45 1.45 0 1 0 2.9 0a1.45 1.45 0 1 0 -2.9 0M512.35 93.3a1.45 1.45 0 1 0 2.9 0a1.45 1.45 0 1 0 -2.9 0M509.95 98.1a1.45 1.45 0 1 0 2.9 0a1.45 1.45 0 1 0 -2.9 0M507.55 102.9a1.45 1.45 0 1 0 2.9 0a1.45 1.45 0 1 0 -2.9 0M505.05 106.5a1.45 1.45 0 1 0 2.9 0a1.45 1.45 0 1 0 -2.9 0M502.65 111.4a1.45 1.45 0 1 0 2.9 0a1.45 1.45 0 1 0 -2.9 0M500.25 117.4a1.45 1.45 0 1 0 2.9 0a1.45 1.45 0 1 0 -2.9 0M497.85 123.4a1.45 1.45 0 1 0 2.9 0a1.45 1.45 0 1 0 -2.9 0M495.45 128.2a1.45 1.45 0 1 0 2.9 0a1.45 1.45 0 1 0 -2.9 0M491.85 134.3a1.45 1.45 0 1 0 2.9 0a1.45 1.45 0 1 0 -2.9 0M489.45 137.9a1.45 1.45 0 1 0 2.9 0a1.45 1.45 0 1 0 -2.9 0M471.55 164.9a1.45 1.45 0 1 0 2.9 0a1.45 1.45 0 1 0 -2.9 0M456.65 191a1.45 1.45 0 1 0 2.9 0a1.45 1.45 0 1 0 -2.9 0M462.25 186.6a1.45 1.45 0 1 0 2.9 0a1.45 1.45 0 1 0 -2.9 0M450.65 205.5a1.45 1.45 0 1 0 2.9 0a1.45 1.45 0 1 0 -2.9 0M419.75 257.04a1.45 1.45 0 1 0 2.9 0a1.45 1.45 0 1 0 -2.9 0M420.97 256.07a1.45 1.45 0 1 0 2.9 0a1.45 1.45 0 1 0 -2.9 0M421.44 254.62a1.45 1.45 0 1 0 2.9 0a1.45 1.45 0 1 0 -2.9 0M420.18 254.07a1.45 1.45 0 1 0 2.9 0a1.45 1.45 0 1 0 -2.9 0M424.48 252.95a1.45 1.45 0 1 0 2.9 0a1.45 1.45 0 1 0 -2.9 0M423.07 253.96a1.45 1.45 0 1 0 2.9 0a1.45 1.45 0 1 0 -2.9 0M425.57 251.99a1.45 1.45 0 1 0 2.9 0a1.45 1.45 0 1 0 -2.9 0M422.23 249.74a1.45 1.45 0 1 0 2.9 0a1.45 1.45 0 1 0 -2.9 0M421.75 247.92a1.45 1.45 0 1 0 2.9 0a1.45 1.45 0 1 0 -2.9 0M423.36 249.26a1.45 1.45 0 1 0 2.9 0a1.45 1.45 0 1 0 -2.9 0M428.19 249.25a1.45 1.45 0 1 0 2.9 0a1.45 1.45 0 1 0 -2.9 0M424.93 247.5a1.45 1.45 0 1 0 2.9 0a1.45 1.45 0 1 0 -2.9 0M424.64 244.92a1.45 1.45 0 1 0 2.9 0a1.45 1.45 0 1 0 -2.9 0M428.97 247.93a1.45 1.45 0 1 0 2.9 0a1.45 1.45 0 1 0 -2.9 0M426.49 242.54a1.45 1.45 0 1 0 2.9 0a1.45 1.45 0 1 0 -2.9 0M429 244.3a1.45 1.45 0 1 0 2.9 0a1.45 1.45 0 1 0 -2.9 0M431.92 245.43a1.45 1.45 0 1 0 2.9 0a1.45 1.45 0 1 0 -2.9 0M431.55 243.89a1.45 1.45 0 1 0 2.9 0a1.45 1.45 0 1 0 -2.9 0M434.66 246.11a1.45 1.45 0 1 0 2.9 0a1.45 1.45 0 1 0 -2.9 0M431.01 240.75a1.45 1.45 0 1 0 2.9 0a1.45 1.45 0 1 0 -2.9 0M430.69 238.95a1.45 1.45 0 1 0 2.9 0a1.45 1.45 0 1 0 -2.9 0M430.66 239.05a1.45 1.45 0 1 0 2.9 0a1.45 1.45 0 1 0 -2.9 0M431.95 237.76a1.45 1.45 0 1 0 2.9 0a1.45 1.45 0 1 0 -2.9 0M437.29 241.12a1.45 1.45 0 1 0 2.9 0a1.45 1.45 0 1 0 -2.9 0M438.24 240.1a1.45 1.45 0 1 0 2.9 0a1.45 1.45 0 1 0 -2.9 0M436.84 239.39a1.45 1.45 0 1 0 2.9 0a1.45 1.45 0 1 0 -2.9 0M435.32 235.27a1.45 1.45 0 1 0 2.9 0a1.45 1.45 0 1 0 -2.9 0M438.55 238.96a1.45 1.45 0 1 0 2.9 0a1.45 1.45 0 1 0 -2.9 0M435.94 232.48a1.45 1.45 0 1 0 2.9 0a1.45 1.45 0 1 0 -2.9 0M437.74 234.07a1.45 1.45 0 1 0 2.9 0a1.45 1.45 0 1 0 -2.9 0M442.19 234.38a1.45 1.45 0 1 0 2.9 0a1.45 1.45 0 1 0 -2.9 0M439.2 233.58a1.45 1.45 0 1 0 2.9 0a1.45 1.45 0 1 0 -2.9 0M443.69 233.35a1.45 1.45 0 1 0 2.9 0a1.45 1.45 0 1 0 -2.9 0M442.67 232.5a1.45 1.45 0 1 0 2.9 0a1.45 1.45 0 1 0 -2.9 0M443.93 230.6a1.45 1.45 0 1 0 2.9 0a1.45 1.45 0 1 0 -2.9 0M441.52 229.4a1.45 1.45 0 1 0 2.9 0a1.45 1.45 0 1 0 -2.9 0M446.5 231.58a1.45 1.45 0 1 0 2.9 0a1.45 1.45 0 1 0 -2.9 0M444.2 229.8a1.45 1.45 0 1 0 2.9 0a1.45 1.45 0 1 0 -2.9 0M444 227.89a1.45 1.45 0 1 0 2.9 0a1.45 1.45 0 1 0 -2.9 0M441.79 224.5a1.45 1.45 0 1 0 2.9 0a1.45 1.45 0 1 0 -2.9 0M445.78 225.36a1.45 1.45 0 1 0 2.9 0a1.45 1.45 0 1 0 -2.9 0M447.55 227.13a1.45 1.45 0 1 0 2.9 0a1.45 1.45 0 1 0 -2.9 0M445.79 224.07a1.45 1.45 0 1 0 2.9 0a1.45 1.45 0 1 0 -2.9 0M449.57 225.02a1.45 1.45 0 1 0 2.9 0a1.45 1.45 0 1 0 -2.9 0M450.31 222.94a1.45 1.45 0 1 0 2.9 0a1.45 1.45 0 1 0 -2.9 0M449.49 222.84a1.45 1.45 0 1 0 2.9 0a1.45 1.45 0 1 0 -2.9 0M447.3 218.95a1.45 1.45 0 1 0 2.9 0a1.45 1.45 0 1 0 -2.9 0M447.99 220.15a1.45 1.45 0 1 0 2.9 0a1.45 1.45 0 1 0 -2.9 0M449.02 218.17a1.45 1.45 0 1 0 2.9 0a1.45 1.45 0 1 0 -2.9 0M451.55 219.63a1.45 1.45 0 1 0 2.9 0a1.45 1.45 0 1 0 -2.9 0M449.64 217.07a1.45 1.45 0 1 0 2.9 0a1.45 1.45 0 1 0 -2.9 0M453.68 219.11a1.45 1.45 0 1 0 2.9 0a1.45 1.45 0 1 0 -2.9 0M451.37 216.05a1.45 1.45 0 1 0 2.9 0a1.45 1.45 0 1 0 -2.9 0M450.32 215.51a1.45 1.45 0 1 0 2.9 0a1.45 1.45 0 1 0 -2.9 0M452.15 212.81a1.45 1.45 0 1 0 2.9 0a1.45 1.45 0 1 0 -2.9 0M456.88 215.46a1.45 1.45 0 1 0 2.9 0a1.45 1.45 0 1 0 -2.9 0M452.46 210.83a1.45 1.45 0 1 0 2.9 0a1.45 1.45 0 1 0 -2.9 0M455.34 211.95a1.45 1.45 0 1 0 2.9 0a1.45 1.45 0 1 0 -2.9 0M455.63 209.65a1.45 1.45 0 1 0 2.9 0a1.45 1.45 0 1 0 -2.9 0M454.15 210.29a1.45 1.45 0 1 0 2.9 0a1.45 1.45 0 1 0 -2.9 0M456.46 207.81a1.45 1.45 0 1 0 2.9 0a1.45 1.45 0 1 0 -2.9 0M457.62 209.39a1.45 1.45 0 1 0 2.9 0a1.45 1.45 0 1 0 -2.9 0M457 206.45a1.45 1.45 0 1 0 2.9 0a1.45 1.45 0 1 0 -2.9 0M456.53 206.41a1.45 1.45 0 1 0 2.9 0a1.45 1.45 0 1 0 -2.9 0M461.8 206.21a1.45 1.45 0 1 0 2.9 0a1.45 1.45 0 1 0 -2.9 0M460.03 207.06a1.45 1.45 0 1 0 2.9 0a1.45 1.45 0 1 0 -2.9 0M459.12 203.71a1.45 1.45 0 1 0 2.9 0a1.45 1.45 0 1 0 -2.9 0M461.71 205.34a1.45 1.45 0 1 0 2.9 0a1.45 1.45 0 1 0 -2.9 0M462.78 203.83a1.45 1.45 0 1 0 2.9 0a1.45 1.45 0 1 0 -2.9 0M459.72 200.37a1.45 1.45 0 1 0 2.9 0a1.45 1.45 0 1 0 -2.9 0M462 199.45a1.45 1.45 0 1 0 2.9 0a1.45 1.45 0 1 0 -2.9 0M460.87 200.42a1.45 1.45 0 1 0 2.9 0a1.45 1.45 0 1 0 -2.9 0M463.47 198.95a1.45 1.45 0 1 0 2.9 0a1.45 1.45 0 1 0 -2.9 0M461.54 198.7a1.45 1.45 0 1 0 2.9 0a1.45 1.45 0 1 0 -2.9 0M460.7 194.03a1.45 1.45 0 1 0 2.9 0a1.45 1.45 0 1 0 -2.9 0M466.73 197.54a1.45 1.45 0 1 0 2.9 0a1.45 1.45 0 1 0 -2.9 0M462.4 194.76a1.45 1.45 0 1 0 2.9 0a1.45 1.45 0 1 0 -2.9 0M464.55 194.45a1.45 1.45 0 1 0 2.9 0a1.45 1.45 0 1 0 -2.9 0M465.57 194.33a1.45 1.45 0 1 0 2.9 0a1.45 1.45 0 1 0 -2.9 0M463.19 191.36a1.45 1.45 0 1 0 2.9 0a1.45 1.45 0 1 0 -2.9 0M463.05 188.64a1.45 1.45 0 1 0 2.9 0a1.45 1.45 0 1 0 -2.9 0M469.33 193.78a1.45 1.45 0 1 0 2.9 0a1.45 1.45 0 1 0 -2.9 0M464.12 186.74a1.45 1.45 0 1 0 2.9 0a1.45 1.45 0 1 0 -2.9 0M468.94 190.68a1.45 1.45 0 1 0 2.9 0a1.45 1.45 0 1 0 -2.9 0M468.18 186.89a1.45 1.45 0 1 0 2.9 0a1.45 1.45 0 1 0 -2.9 0M466.43 187.91a1.45 1.45 0 1 0 2.9 0a1.45 1.45 0 1 0 -2.9 0M469.58 186.72a1.45 1.45 0 1 0 2.9 0a1.45 1.45 0 1 0 -2.9 0M470.67 185.85a1.45 1.45 0 1 0 2.9 0a1.45 1.45 0 1 0 -2.9 0M468.48 184.07a1.45 1.45 0 1 0 2.9 0a1.45 1.45 0 1 0 -2.9 0M466.63 181.84a1.45 1.45 0 1 0 2.9 0a1.45 1.45 0 1 0 -2.9 0M467.75 179.99a1.45 1.45 0 1 0 2.9 0a1.45 1.45 0 1 0 -2.9 0M472.6 182.36a1.45 1.45 0 1 0 2.9 0a1.45 1.45 0 1 0 -2.9 0M473.7 182.2a1.45 1.45 0 1 0 2.9 0a1.45 1.45 0 1 0 -2.9 0M469.31 178.56a1.45 1.45 0 1 0 2.9 0a1.45 1.45 0 1 0 -2.9 0M470.84 177.46a1.45 1.45 0 1 0 2.9 0a1.45 1.45 0 1 0 -2.9 0M469.51 177.97a1.45 1.45 0 1 0 2.9 0a1.45 1.45 0 1 0 -2.9 0M474.23 177.87a1.45 1.45 0 1 0 2.9 0a1.45 1.45 0 1 0 -2.9 0M475.33 176.95a1.45 1.45 0 1 0 2.9 0a1.45 1.45 0 1 0 -2.9 0M472.19 174.8a1.45 1.45 0 1 0 2.9 0a1.45 1.45 0 1 0 -2.9 0M469.94 173.64a1.45 1.45 0 1 0 2.9 0a1.45 1.45 0 1 0 -2.9 0M471.09 171.62a1.45 1.45 0 1 0 2.9 0a1.45 1.45 0 1 0 -2.9 0M476.07 173.6a1.45 1.45 0 1 0 2.9 0a1.45 1.45 0 1 0 -2.9 0M476.16 171.43a1.45 1.45 0 1 0 2.9 0a1.45 1.45 0 1 0 -2.9 0M478.49 172.54a1.45 1.45 0 1 0 2.9 0a1.45 1.45 0 1 0 -2.9 0M478.77 170.94a1.45 1.45 0 1 0 2.9 0a1.45 1.45 0 1 0 -2.9 0M472.98 168.72a1.45 1.45 0 1 0 2.9 0a1.45 1.45 0 1 0 -2.9 0M478.23 168.83a1.45 1.45 0 1 0 2.9 0a1.45 1.45 0 1 0 -2.9 0M478.68 167.55a1.45 1.45 0 1 0 2.9 0a1.45 1.45 0 1 0 -2.9 0M477.63 166.56a1.45 1.45 0 1 0 2.9 0a1.45 1.45 0 1 0 -2.9 0M478.27 166.34a1.45 1.45 0 1 0 2.9 0a1.45 1.45 0 1 0 -2.9 0M480.53 165.62a1.45 1.45 0 1 0 2.9 0a1.45 1.45 0 1 0 -2.9 0M477.17 163.32a1.45 1.45 0 1 0 2.9 0a1.45 1.45 0 1 0 -2.9 0M479.2 162.77a1.45 1.45 0 1 0 2.9 0a1.45 1.45 0 1 0 -2.9 0M479.02 161.59a1.45 1.45 0 1 0 2.9 0a1.45 1.45 0 1 0 -2.9 0M479.9 161.17a1.45 1.45 0 1 0 2.9 0a1.45 1.45 0 1 0 -2.9 0M479.95 160.38a1.45 1.45 0 1 0 2.9 0a1.45 1.45 0 1 0 -2.9 0M480.7 159.4a1.45 1.45 0 1 0 2.9 0a1.45 1.45 0 1 0 -2.9 0M480.7 157.28a1.45 1.45 0 1 0 2.9 0a1.45 1.45 0 1 0 -2.9 0M484.86 157.37a1.45 1.45 0 1 0 2.9 0a1.45 1.45 0 1 0 -2.9 0M483.71 157.87a1.45 1.45 0 1 0 2.9 0a1.45 1.45 0 1 0 -2.9 0M485.49 156.96a1.45 1.45 0 1 0 2.9 0a1.45 1.45 0 1 0 -2.9 0M484.01 155.4a1.45 1.45 0 1 0 2.9 0a1.45 1.45 0 1 0 -2.9 0M483.93 153.79a1.45 1.45 0 1 0 2.9 0a1.45 1.45 0 1 0 -2.9 0M483.79 152.78a1.45 1.45 0 1 0 2.9 0a1.45 1.45 0 1 0 -2.9 0M484.32 151.45a1.45 1.45 0 1 0 2.9 0a1.45 1.45 0 1 0 -2.9 0M484.65 151.71a1.45 1.45 0 1 0 2.9 0a1.45 1.45 0 1 0 -2.9 0M488.36 151.03a1.45 1.45 0 1 0 2.9 0a1.45 1.45 0 1 0 -2.9 0M484.29 148.34a1.45 1.45 0 1 0 2.9 0a1.45 1.45 0 1 0 -2.9 0M487.78 147.89a1.45 1.45 0 1 0 2.9 0a1.45 1.45 0 1 0 -2.9 0M487.32 148.71a1.45 1.45 0 1 0 2.9 0a1.45 1.45 0 1 0 -2.9 0M489.96 148.02a1.45 1.45 0 1 0 2.9 0a1.45 1.45 0 1 0 -2.9 0M487.16 146.06a1.45 1.45 0 1 0 2.9 0a1.45 1.45 0 1 0 -2.9 0M490.85 146.35a1.45 1.45 0 1 0 2.9 0a1.45 1.45 0 1 0 -2.9 0M488.35 144.3a1.45 1.45 0 1 0 2.9 0a1.45 1.45 0 1 0 -2.9 0M490.67 144.1a1.45 1.45 0 1 0 2.9 0a1.45 1.45 0 1 0 -2.9 0M491.47 143.47a1.45 1.45 0 1 0 2.9 0a1.45 1.45 0 1 0 -2.9 0M490.87 141.38a1.45 1.45 0 1 0 2.9 0a1.45 1.45 0 1 0 -2.9 0M490.2 139.94a1.45 1.45 0 1 0 2.9 0a1.45 1.45 0 1 0 -2.9 0M494.12 141.19a1.45 1.45 0 1 0 2.9 0a1.45 1.45 0 1 0 -2.9 0M490.33 138.27a1.45 1.45 0 1 0 2.9 0a1.45 1.45 0 1 0 -2.9 0M494.33 137.65a1.45 1.45 0 1 0 2.9 0a1.45 1.45 0 1 0 -2.9 0M491.3 137.52a1.45 1.45 0 1 0 2.9 0a1.45 1.45 0 1 0 -2.9 0M491.1 134.82a1.45 1.45 0 1 0 2.9 0a1.45 1.45 0 1 0 -2.9 0M494.17 135.23a1.45 1.45 0 1 0 2.9 0a1.45 1.45 0 1 0 -2.9 0M491.49 133.49a1.45 1.45 0 1 0 2.9 0a1.45 1.45 0 1 0 -2.9 0M495.36 134.01a1.45 1.45 0 1 0 2.9 0a1.45 1.45 0 1 0 -2.9 0M492.81 131.95a1.45 1.45 0 1 0 2.9 0a1.45 1.45 0 1 0 -2.9 0M492.72 130.71a1.45 1.45 0 1 0 2.9 0a1.45 1.45 0 1 0 -2.9 0M494.56 130.25a1.45 1.45 0 1 0 2.9 0a1.45 1.45 0 1 0 -2.9 0M496.61 131.34a1.45 1.45 0 1 0 2.9 0a1.45 1.45 0 1 0 -2.9 0M496.63 129.25a1.45 1.45 0 1 0 2.9 0a1.45 1.45 0 1 0 -2.9 0M494.41 127.15a1.45 1.45 0 1 0 2.9 0a1.45 1.45 0 1 0 -2.9 0M499.04 127.22a1.45 1.45 0 1 0 2.9 0a1.45 1.45 0 1 0 -2.9 0M497.01 125.96a1.45 1.45 0 1 0 2.9 0a1.45 1.45 0 1 0 -2.9 0M495.58 124.19a1.45 1.45 0 1 0 2.9 0a1.45 1.45 0 1 0 -2.9 0M500.71 124.66a1.45 1.45 0 1 0 2.9 0a1.45 1.45 0 1 0 -2.9 0M496.81 122.22a1.45 1.45 0 1 0 2.9 0a1.45 1.45 0 1 0 -2.9 0M497.25 122.93a1.45 1.45 0 1 0 2.9 0a1.45 1.45 0 1 0 -2.9 0M497.05 119.16a1.45 1.45 0 1 0 2.9 0a1.45 1.45 0 1 0 -2.9 0M501.27 123.08a1.45 1.45 0 1 0 2.9 0a1.45 1.45 0 1 0 -2.9 0M502.54 120.61a1.45 1.45 0 1 0 2.9 0a1.45 1.45 0 1 0 -2.9 0M499.16 118.11a1.45 1.45 0 1 0 2.9 0a1.45 1.45 0 1 0 -2.9 0M503.96 116.57a1.45 1.45 0 1 0 2.9 0a1.45 1.45 0 1 0 -2.9 0M498.37 115.38a1.45 1.45 0 1 0 2.9 0a1.45 1.45 0 1 0 -2.9 0M502.3 114.27a1.45 1.45 0 1 0 2.9 0a1.45 1.45 0 1 0 -2.9 0M503.23 115.48a1.45 1.45 0 1 0 2.9 0a1.45 1.45 0 1 0 -2.9 0M503.96 113.49a1.45 1.45 0 1 0 2.9 0a1.45 1.45 0 1 0 -2.9 0M500.54 111.87a1.45 1.45 0 1 0 2.9 0a1.45 1.45 0 1 0 -2.9 0M502.99 108.64a1.45 1.45 0 1 0 2.9 0a1.45 1.45 0 1 0 -2.9 0M504.02 108.68a1.45 1.45 0 1 0 2.9 0a1.45 1.45 0 1 0 -2.9 0M503.97 106.14a1.45 1.45 0 1 0 2.9 0a1.45 1.45 0 1 0 -2.9 0M505.81 108.09a1.45 1.45 0 1 0 2.9 0a1.45 1.45 0 1 0 -2.9 0M505.55 103.42a1.45 1.45 0 1 0 2.9 0a1.45 1.45 0 1 0 -2.9 0M507.09 104.22a1.45 1.45 0 1 0 2.9 0a1.45 1.45 0 1 0 -2.9 0M508.8 102.61a1.45 1.45 0 1 0 2.9 0a1.45 1.45 0 1 0 -2.9 0M506.44 102.53a1.45 1.45 0 1 0 2.9 0a1.45 1.45 0 1 0 -2.9 0M508.06 99.03a1.45 1.45 0 1 0 2.9 0a1.45 1.45 0 1 0 -2.9 0M506.81 98.53a1.45 1.45 0 1 0 2.9 0a1.45 1.45 0 1 0 -2.9 0M508.61 98.1a1.45 1.45 0 1 0 2.9 0a1.45 1.45 0 1 0 -2.9 0M508.8 98.33a1.45 1.45 0 1 0 2.9 0a1.45 1.45 0 1 0 -2.9 0M509.51 96.84a1.45 1.45 0 1 0 2.9 0a1.45 1.45 0 1 0 -2.9 0M508.21 94.27a1.45 1.45 0 1 0 2.9 0a1.45 1.45 0 1 0 -2.9 0M511.5 95.06a1.45 1.45 0 1 0 2.9 0a1.45 1.45 0 1 0 -2.9 0M509.93 93.71a1.45 1.45 0 1 0 2.9 0a1.45 1.45 0 1 0 -2.9 0M510.18 90.09a1.45 1.45 0 1 0 2.9 0a1.45 1.45 0 1 0 -2.9 0M511.5 92.18a1.45 1.45 0 1 0 2.9 0a1.45 1.45 0 1 0 -2.9 0M514.49 88.83a1.45 1.45 0 1 0 2.9 0a1.45 1.45 0 1 0 -2.9 0M511.45 88.58a1.45 1.45 0 1 0 2.9 0a1.45 1.45 0 1 0 -2.9 0M515.71 87.55a1.45 1.45 0 1 0 2.9 0a1.45 1.45 0 1 0 -2.9 0M514.97 87.21a1.45 1.45 0 1 0 2.9 0a1.45 1.45 0 1 0 -2.9 0M518.43 85.91a1.45 1.45 0 1 0 2.9 0a1.45 1.45 0 1 0 -2.9 0M516.71 85.38a1.45 1.45 0 1 0 2.9 0a1.45 1.45 0 1 0 -2.9 0M517.91 81.89a1.45 1.45 0 1 0 2.9 0a1.45 1.45 0 1 0 -2.9 0M516.58 80.94a1.45 1.45 0 1 0 2.9 0a1.45 1.45 0 1 0 -2.9 0M516.78 79.09a1.45 1.45 0 1 0 2.9 0a1.45 1.45 0 1 0 -2.9 0M516.66 78.81a1.45 1.45 0 1 0 2.9 0a1.45 1.45 0 1 0 -2.9 0M521.37 78.26a1.45 1.45 0 1 0 2.9 0a1.45 1.45 0 1 0 -2.9 0M522.31 80.14a1.45 1.45 0 1 0 2.9 0a1.45 1.45 0 1 0 -2.9 0M523 76.16a1.45 1.45 0 1 0 2.9 0a1.45 1.45 0 1 0 -2.9 0M521.92 77.24a1.45 1.45 0 1 0 2.9 0a1.45 1.45 0 1 0 -2.9 0M521.76 74.23a1.45 1.45 0 1 0 2.9 0a1.45 1.45 0 1 0 -2.9 0M525.1 76.12a1.45 1.45 0 1 0 2.9 0a1.45 1.45 0 1 0 -2.9 0M527.06 73.06a1.45 1.45 0 1 0 2.9 0a1.45 1.45 0 1 0 -2.9 0M524.59 73.98a1.45 1.45 0 1 0 2.9 0a1.45 1.45 0 1 0 -2.9 0M528.31 70.75a1.45 1.45 0 1 0 2.9 0a1.45 1.45 0 1 0 -2.9 0M523.51 68.26a1.45 1.45 0 1 0 2.9 0a1.45 1.45 0 1 0 -2.9 0M526.78 67.61a1.45 1.45 0 1 0 2.9 0a1.45 1.45 0 1 0 -2.9 0M527.87 68.41a1.45 1.45 0 1 0 2.9 0a1.45 1.45 0 1 0 -2.9 0M527.16 66.38a1.45 1.45 0 1 0 2.9 0a1.45 1.45 0 1 0 -2.9 0M530.76 66.52a1.45 1.45 0 1 0 2.9 0a1.45 1.45 0 1 0 -2.9 0M528.35 63.7a1.45 1.45 0 1 0 2.9 0a1.45 1.45 0 1 0 -2.9 0M529.51 63.99a1.45 1.45 0 1 0 2.9 0a1.45 1.45 0 1 0 -2.9 0M533.15 64.28a1.45 1.45 0 1 0 2.9 0a1.45 1.45 0 1 0 -2.9 0M531.62 61.69a1.45 1.45 0 1 0 2.9 0a1.45 1.45 0 1 0 -2.9 0M533.14 60.7a1.45 1.45 0 1 0 2.9 0a1.45 1.45 0 1 0 -2.9 0M534.03 62.13a1.45 1.45 0 1 0 2.9 0a1.45 1.45 0 1 0 -2.9 0M533.56 57.38a1.45 1.45 0 1 0 2.9 0a1.45 1.45 0 1 0 -2.9 0M535.85 60.15a1.45 1.45 0 1 0 2.9 0a1.45 1.45 0 1 0 -2.9 0" fill="none" stroke="#111" stroke-width="1.2"/>
<path d="M659.45 361.4a1.45 1.45 0 1 0 2.9 0a1.45 1.45 0 1 0 -2.9 0M642.85 364.1a1.45 1.45 0 1 0 2.9 0a1.45 1.45 0 1 0 -2.9 0M626.75 363.1a1.45 1.45 0 1 0 2.9 0a1.45 1.45 0 1 0 -2.9 0M620.55 365.5a1.45 1.45 0 1 0 2.9 0a1.45 1.45 0 1 0 -2.9 0M609.85 362.5a1.45 1.45 0 1 0 2.9 0a1.45 1.45 0 1 0 -2.9 0M606.05 364.7a1.45 1.45 0 1 0 2.9 0a1.45 1.45 0 1 0 -2.9 0M595.05 369.5a1.45 1.45 0 1 0 2.9 0a1.45 1.45 0 1 0 -2.9 0M592.65 366a1.45 1.45 0 1 0 2.9 0a1.45 1.45 0 1 0 -2.9 0M592.65 368.2a1.45 1.45 0 1 0 2.9 0a1.45 1.45 0 1 0 -2.9 0M583.25 368.7a1.45 1.45 0 1 0 2.9 0a1.45 1.45 0 1 0 -2.9 0M577.95 372.7a1.45 1.45 0 1 0 2.9 0a1.45 1.45 0 1 0 -2.9 0M577.15 365.5a1.45 1.45 0 1 0 2.9 0a1.45 1.45 0 1 0 -2.9 0M575.75 368.2a1.45 1.45 0 1 0 2.9 0a1.45 1.45 0 1 0 -2.9 0M571.25 369a1.45 1.45 0 1 0 2.9 0a1.45 1.45 0 1 0 -2.9 0M567.75 369a1.45 1.45 0 1 0 2.9 0a1.45 1.45 0 1 0 -2.9 0M564.55 369.5a1.45 1.45 0 1 0 2.9 0a1.45 1.45 0 1 0 -2.9 0M564.55 375.4a1.45 1.45 0 1 0 2.9 0a1.45 1.45 0 1 0 -2.9 0M559.75 363.6a1.45 1.45 0 1 0 2.9 0a1.45 1.45 0 1 0 -2.9 0M558.35 370a1.45 1.45 0 1 0 2.9 0a1.45 1.45 0 1 0 -2.9 0M554.35 374.3a1.45 1.45 0 1 0 2.9 0a1.45 1.45 0 1 0 -2.9 0M554.35 378.3a1.45 1.45 0 1 0 2.9 0a1.45 1.45 0 1 0 -2.9 0M550.35 369.5a1.45 1.45 0 1 0 2.9 0a1.45 1.45 0 1 0 -2.9 0M546.25 372.2a1.45 1.45 0 1 0 2.9 0a1.45 1.45 0 1 0 -2.9 0M545.75 379.7a1.45 1.45 0 1 0 2.9 0a1.45 1.45 0 1 0 -2.9 0M543.05 365.5a1.45 1.45 0 1 0 2.9 0a1.45 1.45 0 1 0 -2.9 0M539.55 377.5a1.45 1.45 0 1 0 2.9 0a1.45 1.45 0 1 0 -2.9 0M537.75 381.6a1.45 1.45 0 1 0 2.9 0a1.45 1.45 0 1 0 -2.9 0M535.55 368.2a1.45 1.45 0 1 0 2.9 0a1.45 1.45 0 1 0 -2.9 0M534.25 374.9a1.45 1.45 0 1 0 2.9 0a1.45 1.45 0 1 0 -2.9 0M532.35 382.9a1.45 1.45 0 1 0 2.9 0a1.45 1.45 0 1 0 -2.9 0M526.15 365.5a1.45 1.45 0 1 0 2.9 0a1.45 1.45 0 1 0 -2.9 0M526.15 377.5a1.45 1.45 0 1 0 2.9 0a1.45 1.45 0 1 0 -2.9 0M526.95 388.3a1.45 1.45 0 1 0 2.9 0a1.45 1.45 0 1 0 -2.9 0M522.15 372.2a1.45 1.45 0 1 0 2.9 0a1.45 1.45 0 1 0 -2.9 0M522.15 381.6a1.45 1.45 0 1 0 2.9 0a1.45 1.45 0 1 0 -2.9 0M508.75 369a1.45 1.45 0 1 0 2.9 0a1.45 1.45 0 1 0 -2.9 0M510.15 374.3a1.45 1.45 0 1 0 2.9 0a1.45 1.45 0 1 0 -2.9 0M500.75 378.9a1.45 1.45 0 1 0 2.9 0a1.45 1.45 0 1 0 -2.9 0M494.05 380.2a1.45 1.45 0 1 0 2.9 0a1.45 1.45 0 1 0 -2.9 0M466.55 415a1.45 1.45 0 1 0 2.9 0a1.45 1.45 0 1 0 -2.9 0M512.33 375.39a1.45 1.45 0 1 0 2.9 0a1.45 1.45 0 1 0 -2.9 0M514.45 375.4a1.45 1.45 0 1 0 2.9 0a1.45 1.45 0 1 0 -2.9 0M518.82 376.23a1.45 1.45 0 1 0 2.9 0a1.45 1.45 0 1 0 -2.9 0M496.87 378.49a1.45 1.45 0 1 0 2.9 0a1.45 1.45 0 1 0 -2.9 0M500.19 379.28a1.45 1.45 0 1 0 2.9 0a1.45 1.45 0 1 0 -2.9 0M501.46 377.1a1.45 1.45 0 1 0 2.9 0a1.45 1.45 0 1 0 -2.9 0M505.59 378.79a1.45 1.45 0 1 0 2.9 0a1.45 1.45 0 1 0 -2.9 0M509.15 378.8a1.45 1.45 0 1 0 2.9 0a1.45 1.45 0 1 0 -2.9 0M511.3 377.11a1.45 1.45 0 1 0 2.9 0a1.45 1.45 0 1 0 -2.9 0M516.81 376.89a1.45 1.45 0 1 0 2.9 0a1.45 1.45 0 1 0 -2.9 0M520.13 378.79a1.45 1.45 0 1 0 2.9 0a1.45 1.45 0 1 0 -2.9 0M495.27 381.05a1.45 1.45 0 1 0 2.9 0a1.45 1.45 0 1 0 -2.9 0M496.99 379.47a1.45 1.45 0 1 0 2.9 0a1.45 1.45 0 1 0 -2.9 0M499.6 379.75a1.45 1.45 0 1 0 2.9 0a1.45 1.45 0 1 0 -2.9 0M503.69 380.29a1.45 1.45 0 1 0 2.9 0a1.45 1.45 0 1 0 -2.9 0M508.47 381.11a1.45 1.45 0 1 0 2.9 0a1.45 1.45 0 1 0 -2.9 0M512.12 381.43a1.45 1.45 0 1 0 2.9 0a1.45 1.45 0 1 0 -2.9 0M514.68 380.77a1.45 1.45 0 1 0 2.9 0a1.45 1.45 0 1 0 -2.9 0M517.97 382.19a1.45 1.45 0 1 0 2.9 0a1.45 1.45 0 1 0 -2.9 0M519.9 379.61a1.45 1.45 0 1 0 2.9 0a1.45 1.45 0 1 0 -2.9 0M525.37 381.48a1.45 1.45 0 1 0 2.9 0a1.45 1.45 0 1 0 -2.9 0M526.39 381.67a1.45 1.45 0 1 0 2.9 0a1.45 1.45 0 1 0 -2.9 0M529.72 380.47a1.45 1.45 0 1 0 2.9 0a1.45 1.45 0 1 0 -2.9 0M492.36 384.44a1.45 1.45 0 1 0 2.9 0a1.45 1.45 0 1 0 -2.9 0M495.02 382.76a1.45 1.45 0 1 0 2.9 0a1.45 1.45 0 1 0 -2.9 0M499.02 382.74a1.45 1.45 0 1 0 2.9 0a1.45 1.45 0 1 0 -2.9 0M501.46 383.42a1.45 1.45 0 1 0 2.9 0a1.45 1.45 0 1 0 -2.9 0M505.84 383.46a1.45 1.45 0 1 0 2.9 0a1.45 1.45 0 1 0 -2.9 0M508.64 382.35a1.45 1.45 0 1 0 2.9 0a1.45 1.45 0 1 0 -2.9 0M513.68 384.25a1.45 1.45 0 1 0 2.9 0a1.45 1.45 0 1 0 -2.9 0M514.81 383.21a1.45 1.45 0 1 0 2.9 0a1.45 1.45 0 1 0 -2.9 0M519 384.88a1.45 1.45 0 1 0 2.9 0a1.45 1.45 0 1 0 -2.9 0M521.03 383.41a1.45 1.45 0 1 0 2.9 0a1.45 1.45 0 1 0 -2.9 0M525.35 383.24a1.45 1.45 0 1 0 2.9 0a1.45 1.45 0 1 0 -2.9 0M528.3 382.21a1.45 1.45 0 1 0 2.9 0a1.45 1.45 0 1 0 -2.9 0M488.3 385.76a1.45 1.45 0 1 0 2.9 0a1.45 1.45 0 1 0 -2.9 0M490.54 387.27a1.45 1.45 0 1 0 2.9 0a1.45 1.45 0 1 0 -2.9 0M494.46 387.6a1.45 1.45 0 1 0 2.9 0a1.45 1.45 0 1 0 -2.9 0M498.12 386.02a1.45 1.45 0 1 0 2.9 0a1.45 1.45 0 1 0 -2.9 0M499.75 386.54a1.45 1.45 0 1 0 2.9 0a1.45 1.45 0 1 0 -2.9 0M503.75 385.51a1.45 1.45 0 1 0 2.9 0a1.45 1.45 0 1 0 -2.9 0M507.04 386.08a1.45 1.45 0 1 0 2.9 0a1.45 1.45 0 1 0 -2.9 0M512.12 387.72a1.45 1.45 0 1 0 2.9 0a1.45 1.45 0 1 0 -2.9 0M516.43 387.25a1.45 1.45 0 1 0 2.9 0a1.45 1.45 0 1 0 -2.9 0M520.89 387.25a1.45 1.45 0 1 0 2.9 0a1.45 1.45 0 1 0 -2.9 0M525.13 386.02a1.45 1.45 0 1 0 2.9 0a1.45 1.45 0 1 0 -2.9 0M527.73 385.13a1.45 1.45 0 1 0 2.9 0a1.45 1.45 0 1 0 -2.9 0M531.01 386.32a1.45 1.45 0 1 0 2.9 0a1.45 1.45 0 1 0 -2.9 0M490.04 388.36a1.45 1.45 0 1 0 2.9 0a1.45 1.45 0 1 0 -2.9 0M492.58 387.91a1.45 1.45 0 1 0 2.9 0a1.45 1.45 0 1 0 -2.9 0M500.41 389.2a1.45 1.45 0 1 0 2.9 0a1.45 1.45 0 1 0 -2.9 0M501.26 390.03a1.45 1.45 0 1 0 2.9 0a1.45 1.45 0 1 0 -2.9 0M506.03 389.73a1.45 1.45 0 1 0 2.9 0a1.45 1.45 0 1 0 -2.9 0M508.28 388.14a1.45 1.45 0 1 0 2.9 0a1.45 1.45 0 1 0 -2.9 0M511.27 389.08a1.45 1.45 0 1 0 2.9 0a1.45 1.45 0 1 0 -2.9 0M515.03 388.43a1.45 1.45 0 1 0 2.9 0a1.45 1.45 0 1 0 -2.9 0M519.92 388.6a1.45 1.45 0 1 0 2.9 0a1.45 1.45 0 1 0 -2.9 0M522.48 388.14a1.45 1.45 0 1 0 2.9 0a1.45 1.45 0 1 0 -2.9 0M526.54 388.25a1.45 1.45 0 1 0 2.9 0a1.45 1.45 0 1 0 -2.9 0M483.65 393.02a1.45 1.45 0 1 0 2.9 0a1.45 1.45 0 1 0 -2.9 0M486.98 393.2a1.45 1.45 0 1 0 2.9 0a1.45 1.45 0 1 0 -2.9 0M492.28 390.84a1.45 1.45 0 1 0 2.9 0a1.45 1.45 0 1 0 -2.9 0M493.6 391.83a1.45 1.45 0 1 0 2.9 0a1.45 1.45 0 1 0 -2.9 0M498.66 391.34a1.45 1.45 0 1 0 2.9 0a1.45 1.45 0 1 0 -2.9 0M500.65 391.54a1.45 1.45 0 1 0 2.9 0a1.45 1.45 0 1 0 -2.9 0M505.09 392.46a1.45 1.45 0 1 0 2.9 0a1.45 1.45 0 1 0 -2.9 0M506.63 392.36a1.45 1.45 0 1 0 2.9 0a1.45 1.45 0 1 0 -2.9 0M509.76 392.02a1.45 1.45 0 1 0 2.9 0a1.45 1.45 0 1 0 -2.9 0M514.89 392.43a1.45 1.45 0 1 0 2.9 0a1.45 1.45 0 1 0 -2.9 0M517.18 392.93a1.45 1.45 0 1 0 2.9 0a1.45 1.45 0 1 0 -2.9 0M481.5 394.68a1.45 1.45 0 1 0 2.9 0a1.45 1.45 0 1 0 -2.9 0M485.23 393.74a1.45 1.45 0 1 0 2.9 0a1.45 1.45 0 1 0 -2.9 0M488.72 395.69a1.45 1.45 0 1 0 2.9 0a1.45 1.45 0 1 0 -2.9 0M493.98 394.5a1.45 1.45 0 1 0 2.9 0a1.45 1.45 0 1 0 -2.9 0M495.46 396.43a1.45 1.45 0 1 0 2.9 0a1.45 1.45 0 1 0 -2.9 0M499.92 394.66a1.45 1.45 0 1 0 2.9 0a1.45 1.45 0 1 0 -2.9 0M503.06 395.91a1.45 1.45 0 1 0 2.9 0a1.45 1.45 0 1 0 -2.9 0M505.87 394.95a1.45 1.45 0 1 0 2.9 0a1.45 1.45 0 1 0 -2.9 0M508.16 394.07a1.45 1.45 0 1 0 2.9 0a1.45 1.45 0 1 0 -2.9 0M513.11 396.3a1.45 1.45 0 1 0 2.9 0a1.45 1.45 0 1 0 -2.9 0M515.05 393.65a1.45 1.45 0 1 0 2.9 0a1.45 1.45 0 1 0 -2.9 0M479.05 398.45a1.45 1.45 0 1 0 2.9 0a1.45 1.45 0 1 0 -2.9 0M480.23 397.25a1.45 1.45 0 1 0 2.9 0a1.45 1.45 0 1 0 -2.9 0M485.87 398.81a1.45 1.45 0 1 0 2.9 0a1.45 1.45 0 1 0 -2.9 0M487.78 396.61a1.45 1.45 0 1 0 2.9 0a1.45 1.45 0 1 0 -2.9 0M491.79 398.39a1.45 1.45 0 1 0 2.9 0a1.45 1.45 0 1 0 -2.9 0M493.19 398.04a1.45 1.45 0 1 0 2.9 0a1.45 1.45 0 1 0 -2.9 0M498.1 399.15a1.45 1.45 0 1 0 2.9 0a1.45 1.45 0 1 0 -2.9 0M500.29 397.78a1.45 1.45 0 1 0 2.9 0a1.45 1.45 0 1 0 -2.9 0M505.39 398.69a1.45 1.45 0 1 0 2.9 0a1.45 1.45 0 1 0 -2.9 0M507.32 398.7a1.45 1.45 0 1 0 2.9 0a1.45 1.45 0 1 0 -2.9 0M510.73 396.54a1.45 1.45 0 1 0 2.9 0a1.45 1.45 0 1 0 -2.9 0M478.44 401.89a1.45 1.45 0 1 0 2.9 0a1.45 1.45 0 1 0 -2.9 0M482.34 401.42a1.45 1.45 0 1 0 2.9 0a1.45 1.45 0 1 0 -2.9 0M485.91 399.47a1.45 1.45 0 1 0 2.9 0a1.45 1.45 0 1 0 -2.9 0M489.71 400.67a1.45 1.45 0 1 0 2.9 0a1.45 1.45 0 1 0 -2.9 0M491.83 400.5a1.45 1.45 0 1 0 2.9 0a1.45 1.45 0 1 0 -2.9 0M495.46 399.38a1.45 1.45 0 1 0 2.9 0a1.45 1.45 0 1 0 -2.9 0M498.11 402.11a1.45 1.45 0 1 0 2.9 0a1.45 1.45 0 1 0 -2.9 0M501.9 401.18a1.45 1.45 0 1 0 2.9 0a1.45 1.45 0 1 0 -2.9 0M506.44 400.88a1.45 1.45 0 1 0 2.9 0a1.45 1.45 0 1 0 -2.9 0M478.78 403.44a1.45 1.45 0 1 0 2.9 0a1.45 1.45 0 1 0 -2.9 0M482.16 404.16a1.45 1.45 0 1 0 2.9 0a1.45 1.45 0 1 0 -2.9 0M485.72 402.71a1.45 1.45 0 1 0 2.9 0a1.45 1.45 0 1 0 -2.9 0M491.23 403.49a1.45 1.45 0 1 0 2.9 0a1.45 1.45 0 1 0 -2.9 0M494.81 403.46a1.45 1.45 0 1 0 2.9 0a1.45 1.45 0 1 0 -2.9 0M497.69 402.4a1.45 1.45 0 1 0 2.9 0a1.45 1.45 0 1 0 -2.9 0M501.45 404.27a1.45 1.45 0 1 0 2.9 0a1.45 1.45 0 1 0 -2.9 0M504.57 402.66a1.45 1.45 0 1 0 2.9 0a1.45 1.45 0 1 0 -2.9 0M474.26 406.81a1.45 1.45 0 1 0 2.9 0a1.45 1.45 0 1 0 -2.9 0M477.57 407.15a1.45 1.45 0 1 0 2.9 0a1.45 1.45 0 1 0 -2.9 0M479.62 408.05a1.45 1.45 0 1 0 2.9 0a1.45 1.45 0 1 0 -2.9 0M481.83 405.22a1.45 1.45 0 1 0 2.9 0a1.45 1.45 0 1 0 -2.9 0M484.99 406.84a1.45 1.45 0 1 0 2.9 0a1.45 1.45 0 1 0 -2.9 0M490.43 406.19a1.45 1.45 0 1 0 2.9 0a1.45 1.45 0 1 0 -2.9 0M491.85 405.44a1.45 1.45 0 1 0 2.9 0a1.45 1.45 0 1 0 -2.9 0M494.83 406.35a1.45 1.45 0 1 0 2.9 0a1.45 1.45 0 1 0 -2.9 0M498.34 407.27a1.45 1.45 0 1 0 2.9 0a1.45 1.45 0 1 0 -2.9 0M473.54 409.37a1.45 1.45 0 1 0 2.9 0a1.45 1.45 0 1 0 -2.9 0M477.92 409.48a1.45 1.45 0 1 0 2.9 0a1.45 1.45 0 1 0 -2.9 0M482.26 410.19a1.45 1.45 0 1 0 2.9 0a1.45 1.45 0 1 0 -2.9 0M484.76 410.13a1.45 1.45 0 1 0 2.9 0a1.45 1.45 0 1 0 -2.9 0M486.51 409.94a1.45 1.45 0 1 0 2.9 0a1.45 1.45 0 1 0 -2.9 0M490.59 410.32a1.45 1.45 0 1 0 2.9 0a1.45 1.45 0 1 0 -2.9 0M494.88 408.06a1.45 1.45 0 1 0 2.9 0a1.45 1.45 0 1 0 -2.9 0M497.78 409.55a1.45 1.45 0 1 0 2.9 0a1.45 1.45 0 1 0 -2.9 0M472.78 412.91a1.45 1.45 0 1 0 2.9 0a1.45 1.45 0 1 0 -2.9 0M477.32 413.2a1.45 1.45 0 1 0 2.9 0a1.45 1.45 0 1 0 -2.9 0M478.25 412.7a1.45 1.45 0 1 0 2.9 0a1.45 1.45 0 1 0 -2.9 0M483.64 412.5a1.45 1.45 0 1 0 2.9 0a1.45 1.45 0 1 0 -2.9 0M484.94 412.16a1.45 1.45 0 1 0 2.9 0a1.45 1.45 0 1 0 -2.9 0M490.46 413.31a1.45 1.45 0 1 0 2.9 0a1.45 1.45 0 1 0 -2.9 0M492.74 412.61a1.45 1.45 0 1 0 2.9 0a1.45 1.45 0 1 0 -2.9 0M494.65 413.12a1.45 1.45 0 1 0 2.9 0a1.45 1.45 0 1 0 -2.9 0M471.51 416.21a1.45 1.45 0 1 0 2.9 0a1.45 1.45 0 1 0 -2.9 0M474.8 416.24a1.45 1.45 0 1 0 2.9 0a1.45 1.45 0 1 0 -2.9 0M477.72 414.04a1.45 1.45 0 1 0 2.9 0a1.45 1.45 0 1 0 -2.9 0M480.65 416.27a1.45 1.45 0 1 0 2.9 0a1.45 1.45 0 1 0 -2.9 0M483.2 415.09a1.45 1.45 0 1 0 2.9 0a1.45 1.45 0 1 0 -2.9 0M487.79 413.94a1.45 1.45 0 1 0 2.9 0a1.45 1.45 0 1 0 -2.9 0M489.99 414.93a1.45 1.45 0 1 0 2.9 0a1.45 1.45 0 1 0 -2.9 0M469.86 419.08a1.45 1.45 0 1 0 2.9 0a1.45 1.45 0 1 0 -2.9 0M473.07 418.12a1.45 1.45 0 1 0 2.9 0a1.45 1.45 0 1 0 -2.9 0M476.2 417.15a1.45 1.45 0 1 0 2.9 0a1.45 1.45 0 1 0 -2.9 0M480.79 416.99a1.45 1.45 0 1 0 2.9 0a1.45 1.45 0 1 0 -2.9 0M482.6 417.02a1.45 1.45 0 1 0 2.9 0a1.45 1.45 0 1 0 -2.9 0M486.96 417.97a1.45 1.45 0 1 0 2.9 0a1.45 1.45 0 1 0 -2.9 0M490.69 419.01a1.45 1.45 0 1 0 2.9 0a1.45 1.45 0 1 0 -2.9 0M470.48 420.81a1.45 1.45 0 1 0 2.9 0a1.45 1.45 0 1 0 -2.9 0M475.62 419.49a1.45 1.45 0 1 0 2.9 0a1.45 1.45 0 1 0 -2.9 0M477.96 420.79a1.45 1.45 0 1 0 2.9 0a1.45 1.45 0 1 0 -2.9 0M482.59 421.35a1.45 1.45 0 1 0 2.9 0a1.45 1.45 0 1 0 -2.9 0M485.91 419.59a1.45 1.45 0 1 0 2.9 0a1.45 1.45 0 1 0 -2.9 0M489.3 421.48a1.45 1.45 0 1 0 2.9 0a1.45 1.45 0 1 0 -2.9 0M490.19 421.14a1.45 1.45 0 1 0 2.9 0a1.45 1.45 0 1 0 -2.9 0M466.57 424.51a1.45 1.45 0 1 0 2.9 0a1.45 1.45 0 1 0 -2.9 0M470.4 423.09a1.45 1.45 0 1 0 2.9 0a1.45 1.45 0 1 0 -2.9 0M472.55 424.26a1.45 1.45 0 1 0 2.9 0a1.45 1.45 0 1 0 -2.9 0M474.87 423.42a1.45 1.45 0 1 0 2.9 0a1.45 1.45 0 1 0 -2.9 0M479.99 423.05a1.45 1.45 0 1 0 2.9 0a1.45 1.45 0 1 0 -2.9 0M483.31 423.42a1.45 1.45 0 1 0 2.9 0a1.45 1.45 0 1 0 -2.9 0M485.99 423.58a1.45 1.45 0 1 0 2.9 0a1.45 1.45 0 1 0 -2.9 0M469.44 425.98a1.45 1.45 0 1 0 2.9 0a1.45 1.45 0 1 0 -2.9 0M471.33 425.89a1.45 1.45 0 1 0 2.9 0a1.45 1.45 0 1 0 -2.9 0M475.3 426.28a1.45 1.45 0 1 0 2.9 0a1.45 1.45 0 1 0 -2.9 0M477.71 427.09a1.45 1.45 0 1 0 2.9 0a1.45 1.45 0 1 0 -2.9 0M479.78 426.84a1.45 1.45 0 1 0 2.9 0a1.45 1.45 0 1 0 -2.9 0M483.46 425.3a1.45 1.45 0 1 0 2.9 0a1.45 1.45 0 1 0 -2.9 0M488.73 427.44a1.45 1.45 0 1 0 2.9 0a1.45 1.45 0 1 0 -2.9 0M463.4 430.01a1.45 1.45 0 1 0 2.9 0a1.45 1.45 0 1 0 -2.9 0M467.12 428.89a1.45 1.45 0 1 0 2.9 0a1.45 1.45 0 1 0 -2.9 0M469.94 428.8a1.45 1.45 0 1 0 2.9 0a1.45 1.45 0 1 0 -2.9 0M472.87 430.25a1.45 1.45 0 1 0 2.9 0a1.45 1.45 0 1 0 -2.9 0M475.45 428.22a1.45 1.45 0 1 0 2.9 0a1.45 1.45 0 1 0 -2.9 0M480.08 428.85a1.45 1.45 0 1 0 2.9 0a1.45 1.45 0 1 0 -2.9 0M484.26 429.12a1.45 1.45 0 1 0 2.9 0a1.45 1.45 0 1 0 -2.9 0M486.68 428.75a1.45 1.45 0 1 0 2.9 0a1.45 1.45 0 1 0 -2.9 0M462.48 430.96a1.45 1.45 0 1 0 2.9 0a1.45 1.45 0 1 0 -2.9 0M465.54 431.92a1.45 1.45 0 1 0 2.9 0a1.45 1.45 0 1 0 -2.9 0M468.45 432.16a1.45 1.45 0 1 0 2.9 0a1.45 1.45 0 1 0 -2.9 0M472.05 432.49a1.45 1.45 0 1 0 2.9 0a1.45 1.45 0 1 0 -2.9 0M475.77 432.25a1.45 1.45 0 1 0 2.9 0a1.45 1.45 0 1 0 -2.9 0M477.61 433.18a1.45 1.45 0 1 0 2.9 0a1.45 1.45 0 1 0 -2.9 0M481.58 432.25a1.45 1.45 0 1 0 2.9 0a1.45 1.45 0 1 0 -2.9 0M485.44 431.62a1.45 1.45 0 1 0 2.9 0a1.45 1.45 0 1 0 -2.9 0M460.24 434.75a1.45 1.45 0 1 0 2.9 0a1.45 1.45 0 1 0 -2.9 0M464.18 435.03a1.45 1.45 0 1 0 2.9 0a1.45 1.45 0 1 0 -2.9 0M466.95 434.96a1.45 1.45 0 1 0 2.9 0a1.45 1.45 0 1 0 -2.9 0M468.9 435.52a1.45 1.45 0 1 0 2.9 0a1.45 1.45 0 1 0 -2.9 0M473.99 434.02a1.45 1.45 0 1 0 2.9 0a1.45 1.45 0 1 0 -2.9 0M474.93 436.24a1.45 1.45 0 1 0 2.9 0a1.45 1.45 0 1 0 -2.9 0M478.97 435.6a1.45 1.45 0 1 0 2.9 0a1.45 1.45 0 1 0 -2.9 0M484.35 434.99a1.45 1.45 0 1 0 2.9 0a1.45 1.45 0 1 0 -2.9 0M462.4 438.12a1.45 1.45 0 1 0 2.9 0a1.45 1.45 0 1 0 -2.9 0M463.71 439.03a1.45 1.45 0 1 0 2.9 0a1.45 1.45 0 1 0 -2.9 0M468.9 439.57a1.45 1.45 0 1 0 2.9 0a1.45 1.45 0 1 0 -2.9 0M471.73 437.99a1.45 1.45 0 1 0 2.9 0a1.45 1.45 0 1 0 -2.9 0M475.48 437.2a1.45 1.45 0 1 0 2.9 0a1.45 1.45 0 1 0 -2.9 0M480.67 439.2a1.45 1.45 0 1 0 2.9 0a1.45 1.45 0 1 0 -2.9 0M457.7 440.96a1.45 1.45 0 1 0 2.9 0a1.45 1.45 0 1 0 -2.9 0M460.04 442.17a1.45 1.45 0 1 0 2.9 0a1.45 1.45 0 1 0 -2.9 0M464.02 441.64a1.45 1.45 0 1 0 2.9 0a1.45 1.45 0 1 0 -2.9 0M466.22 442.09a1.45 1.45 0 1 0 2.9 0a1.45 1.45 0 1 0 -2.9 0M469.32 442.35a1.45 1.45 0 1 0 2.9 0a1.45 1.45 0 1 0 -2.9 0M473.97 440.55a1.45 1.45 0 1 0 2.9 0a1.45 1.45 0 1 0 -2.9 0M475.99 439.97a1.45 1.45 0 1 0 2.9 0a1.45 1.45 0 1 0 -2.9 0M480.06 441.59a1.45 1.45 0 1 0 2.9 0a1.45 1.45 0 1 0 -2.9 0M457.99 444.33a1.45 1.45 0 1 0 2.9 0a1.45 1.45 0 1 0 -2.9 0M462.91 444.03a1.45 1.45 0 1 0 2.9 0a1.45 1.45 0 1 0 -2.9 0M464.8 442.85a1.45 1.45 0 1 0 2.9 0a1.45 1.45 0 1 0 -2.9 0M466.85 442.54a1.45 1.45 0 1 0 2.9 0a1.45 1.45 0 1 0 -2.9 0M471.17 445.34a1.45 1.45 0 1 0 2.9 0a1.45 1.45 0 1 0 -2.9 0M473.52 444.76a1.45 1.45 0 1 0 2.9 0a1.45 1.45 0 1 0 -2.9 0M478.13 443.68a1.45 1.45 0 1 0 2.9 0a1.45 1.45 0 1 0 -2.9 0M480.13 443.09a1.45 1.45 0 1 0 2.9 0a1.45 1.45 0 1 0 -2.9 0M455.16 445.58a1.45 1.45 0 1 0 2.9 0a1.45 1.45 0 1 0 -2.9 0M460.97 447.91a1.45 1.45 0 1 0 2.9 0a1.45 1.45 0 1 0 -2.9 0M463.6 447.68a1.45 1.45 0 1 0 2.9 0a1.45 1.45 0 1 0 -2.9 0M467.31 448.22a1.45 1.45 0 1 0 2.9 0a1.45 1.45 0 1 0 -2.9 0M468.58 447.22a1.45 1.45 0 1 0 2.9 0a1.45 1.45 0 1 0 -2.9 0M473.41 447.43a1.45 1.45 0 1 0 2.9 0a1.45 1.45 0 1 0 -2.9 0M474.88 445.57a1.45 1.45 0 1 0 2.9 0a1.45 1.45 0 1 0 -2.9 0M455.47 450.13a1.45 1.45 0 1 0 2.9 0a1.45 1.45 0 1 0 -2.9 0M458.02 450.5a1.45 1.45 0 1 0 2.9 0a1.45 1.45 0 1 0 -2.9 0M461.18 450a1.45 1.45 0 1 0 2.9 0a1.45 1.45 0 1 0 -2.9 0M465.6 449.21a1.45 1.45 0 1 0 2.9 0a1.45 1.45 0 1 0 -2.9 0M467.66 451.09a1.45 1.45 0 1 0 2.9 0a1.45 1.45 0 1 0 -2.9 0M470.65 450.41a1.45 1.45 0 1 0 2.9 0a1.45 1.45 0 1 0 -2.9 0M475.16 449.28a1.45 1.45 0 1 0 2.9 0a1.45 1.45 0 1 0 -2.9 0M476.71 449.9a1.45 1.45 0 1 0 2.9 0a1.45 1.45 0 1 0 -2.9 0M454.54 453.37a1.45 1.45 0 1 0 2.9 0a1.45 1.45 0 1 0 -2.9 0M455.8 452.9a1.45 1.45 0 1 0 2.9 0a1.45 1.45 0 1 0 -2.9 0M458.59 451.56a1.45 1.45 0 1 0 2.9 0a1.45 1.45 0 1 0 -2.9 0M462.46 452.8a1.45 1.45 0 1 0 2.9 0a1.45 1.45 0 1 0 -2.9 0M466.37 452.89a1.45 1.45 0 1 0 2.9 0a1.45 1.45 0 1 0 -2.9 0M470.1 453.41a1.45 1.45 0 1 0 2.9 0a1.45 1.45 0 1 0 -2.9 0M471.64 452.46a1.45 1.45 0 1 0 2.9 0a1.45 1.45 0 1 0 -2.9 0M476.22 453.29a1.45 1.45 0 1 0 2.9 0a1.45 1.45 0 1 0 -2.9 0M453.46 455.11a1.45 1.45 0 1 0 2.9 0a1.45 1.45 0 1 0 -2.9 0M458.58 455.03a1.45 1.45 0 1 0 2.9 0a1.45 1.45 0 1 0 -2.9 0M461.58 455.85a1.45 1.45 0 1 0 2.9 0a1.45 1.45 0 1 0 -2.9 0M465.31 456.51a1.45 1.45 0 1 0 2.9 0a1.45 1.45 0 1 0 -2.9 0M467.47 454.52a1.45 1.45 0 1 0 2.9 0a1.45 1.45 0 1 0 -2.9 0M470.56 454.38a1.45 1.45 0 1 0 2.9 0a1.45 1.45 0 1 0 -2.9 0M450.45 458.01a1.45 1.45 0 1 0 2.9 0a1.45 1.45 0 1 0 -2.9 0M452.52 457.55a1.45 1.45 0 1 0 2.9 0a1.45 1.45 0 1 0 -2.9 0M457.9 457.03a1.45 1.45 0 1 0 2.9 0a1.45 1.45 0 1 0 -2.9 0M459.05 456.79a1.45 1.45 0 1 0 2.9 0a1.45 1.45 0 1 0 -2.9 0M461.87 457.7a1.45 1.45 0 1 0 2.9 0a1.45 1.45 0 1 0 -2.9 0M465.75 457.45a1.45 1.45 0 1 0 2.9 0a1.45 1.45 0 1 0 -2.9 0M470.12 458.13a1.45 1.45 0 1 0 2.9 0a1.45 1.45 0 1 0 -2.9 0M473.41 457.09a1.45 1.45 0 1 0 2.9 0a1.45 1.45 0 1 0 -2.9 0M452.76 462.45a1.45 1.45 0 1 0 2.9 0a1.45 1.45 0 1 0 -2.9 0M456.25 462.38a1.45 1.45 0 1 0 2.9 0a1.45 1.45 0 1 0 -2.9 0M457.63 461.36a1.45 1.45 0 1 0 2.9 0a1.45 1.45 0 1 0 -2.9 0M459.99 461.51a1.45 1.45 0 1 0 2.9 0a1.45 1.45 0 1 0 -2.9 0M465.69 462.06a1.45 1.45 0 1 0 2.9 0a1.45 1.45 0 1 0 -2.9 0M468.55 462.35a1.45 1.45 0 1 0 2.9 0a1.45 1.45 0 1 0 -2.9 0M447.32 465.45a1.45 1.45 0 1 0 2.9 0a1.45 1.45 0 1 0 -2.9 0M450.51 462.99a1.45 1.45 0 1 0 2.9 0a1.45 1.45 0 1 0 -2.9 0M452.92 463.3a1.45 1.45 0 1 0 2.9 0a1.45 1.45 0 1 0 -2.9 0M456.59 462.94a1.45 1.45 0 1 0 2.9 0a1.45 1.45 0 1 0 -2.9 0M460.61 463.76a1.45 1.45 0 1 0 2.9 0a1.45 1.45 0 1 0 -2.9 0M462.23 463.93a1.45 1.45 0 1 0 2.9 0a1.45 1.45 0 1 0 -2.9 0M467.67 463.84a1.45 1.45 0 1 0 2.9 0a1.45 1.45 0 1 0 -2.9 0M468.22 464.28a1.45 1.45 0 1 0 2.9 0a1.45 1.45 0 1 0 -2.9 0M449.38 465.55a1.45 1.45 0 1 0 2.9 0a1.45 1.45 0 1 0 -2.9 0M450.68 467.45a1.45 1.45 0 1 0 2.9 0a1.45 1.45 0 1 0 -2.9 0M453.96 467.36a1.45 1.45 0 1 0 2.9 0a1.45 1.45 0 1 0 -2.9 0M460.69 465.89a1.45 1.45 0 1 0 2.9 0a1.45 1.45 0 1 0 -2.9 0M465.22 468.09a1.45 1.45 0 1 0 2.9 0a1.45 1.45 0 1 0 -2.9 0M467.22 467.46a1.45 1.45 0 1 0 2.9 0a1.45 1.45 0 1 0 -2.9 0M447.44 469.47a1.45 1.45 0 1 0 2.9 0a1.45 1.45 0 1 0 -2.9 0M449.47 469.97a1.45 1.45 0 1 0 2.9 0a1.45 1.45 0 1 0 -2.9 0M452.56 470.98a1.45 1.45 0 1 0 2.9 0a1.45 1.45 0 1 0 -2.9 0M457.42 469.19a1.45 1.45 0 1 0 2.9 0a1.45 1.45 0 1 0 -2.9 0M460.04 468.34a1.45 1.45 0 1 0 2.9 0a1.45 1.45 0 1 0 -2.9 0M461.85 469.7a1.45 1.45 0 1 0 2.9 0a1.45 1.45 0 1 0 -2.9 0M466.28 468.73a1.45 1.45 0 1 0 2.9 0a1.45 1.45 0 1 0 -2.9 0M445.22 473.17a1.45 1.45 0 1 0 2.9 0a1.45 1.45 0 1 0 -2.9 0M454.81 472.38a1.45 1.45 0 1 0 2.9 0a1.45 1.45 0 1 0 -2.9 0M459.61 473.51a1.45 1.45 0 1 0 2.9 0a1.45 1.45 0 1 0 -2.9 0M461.67 473.95a1.45 1.45 0 1 0 2.9 0a1.45 1.45 0 1 0 -2.9 0M446.71 475.19a1.45 1.45 0 1 0 2.9 0a1.45 1.45 0 1 0 -2.9 0M449.85 475.27a1.45 1.45 0 1 0 2.9 0a1.45 1.45 0 1 0 -2.9 0M453.12 475.56a1.45 1.45 0 1 0 2.9 0a1.45 1.45 0 1 0 -2.9 0M457.17 476.16a1.45 1.45 0 1 0 2.9 0a1.45 1.45 0 1 0 -2.9 0M461.2 476.01a1.45 1.45 0 1 0 2.9 0a1.45 1.45 0 1 0 -2.9 0M443.65 477.32a1.45 1.45 0 1 0 2.9 0a1.45 1.45 0 1 0 -2.9 0M446.97 479.55a1.45 1.45 0 1 0 2.9 0a1.45 1.45 0 1 0 -2.9 0M450.2 477.19a1.45 1.45 0 1 0 2.9 0a1.45 1.45 0 1 0 -2.9 0M453.72 479.15a1.45 1.45 0 1 0 2.9 0a1.45 1.45 0 1 0 -2.9 0M457.42 478.02a1.45 1.45 0 1 0 2.9 0a1.45 1.45 0 1 0 -2.9 0M443.09 479.87a1.45 1.45 0 1 0 2.9 0a1.45 1.45 0 1 0 -2.9 0M451.02 481.25a1.45 1.45 0 1 0 2.9 0a1.45 1.45 0 1 0 -2.9 0M451.94 480.03a1.45 1.45 0 1 0 2.9 0a1.45 1.45 0 1 0 -2.9 0M457.78 480.82a1.45 1.45 0 1 0 2.9 0a1.45 1.45 0 1 0 -2.9 0M441.16 485.43a1.45 1.45 0 1 0 2.9 0a1.45 1.45 0 1 0 -2.9 0M445.75 483.98a1.45 1.45 0 1 0 2.9 0a1.45 1.45 0 1 0 -2.9 0M447.59 484.38a1.45 1.45 0 1 0 2.9 0a1.45 1.45 0 1 0 -2.9 0M452.69 482.63a1.45 1.45 0 1 0 2.9 0a1.45 1.45 0 1 0 -2.9 0M455.74 484.65a1.45 1.45 0 1 0 2.9 0a1.45 1.45 0 1 0 -2.9 0M457.72 483.29a1.45 1.45 0 1 0 2.9 0a1.45 1.45 0 1 0 -2.9 0M440.25 486.25a1.45 1.45 0 1 0 2.9 0a1.45 1.45 0 1 0 -2.9 0M444.17 485.76a1.45 1.45 0 1 0 2.9 0a1.45 1.45 0 1 0 -2.9 0M446.05 487.2a1.45 1.45 0 1 0 2.9 0a1.45 1.45 0 1 0 -2.9 0M451.24 487.26a1.45 1.45 0 1 0 2.9 0a1.45 1.45 0 1 0 -2.9 0M454 487.85a1.45 1.45 0 1 0 2.9 0a1.45 1.45 0 1 0 -2.9 0M438.22 491.31a1.45 1.45 0 1 0 2.9 0a1.45 1.45 0 1 0 -2.9 0M440.26 490.31a1.45 1.45 0 1 0 2.9 0a1.45 1.45 0 1 0 -2.9 0M444.89 491.17a1.45 1.45 0 1 0 2.9 0a1.45 1.45 0 1 0 -2.9 0M446.89 490.69a1.45 1.45 0 1 0 2.9 0a1.45 1.45 0 1 0 -2.9 0M450.43 489.32a1.45 1.45 0 1 0 2.9 0a1.45 1.45 0 1 0 -2.9 0M437.71 493.09a1.45 1.45 0 1 0 2.9 0a1.45 1.45 0 1 0 -2.9 0M439.89 493.2a1.45 1.45 0 1 0 2.9 0a1.45 1.45 0 1 0 -2.9 0M442.32 492.61a1.45 1.45 0 1 0 2.9 0a1.45 1.45 0 1 0 -2.9 0M447.11 493.84a1.45 1.45 0 1 0 2.9 0a1.45 1.45 0 1 0 -2.9 0M450.04 493.03a1.45 1.45 0 1 0 2.9 0a1.45 1.45 0 1 0 -2.9 0M437.18 495.67a1.45 1.45 0 1 0 2.9 0a1.45 1.45 0 1 0 -2.9 0M441.78 496.36a1.45 1.45 0 1 0 2.9 0a1.45 1.45 0 1 0 -2.9 0M445.77 495.89a1.45 1.45 0 1 0 2.9 0a1.45 1.45 0 1 0 -2.9 0M448.44 495.63a1.45 1.45 0 1 0 2.9 0a1.45 1.45 0 1 0 -2.9 0M435.94 498.22a1.45 1.45 0 1 0 2.9 0a1.45 1.45 0 1 0 -2.9 0M439.37 498.23a1.45 1.45 0 1 0 2.9 0a1.45 1.45 0 1 0 -2.9 0M442.89 498.41a1.45 1.45 0 1 0 2.9 0a1.45 1.45 0 1 0 -2.9 0M447.27 498.29a1.45 1.45 0 1 0 2.9 0a1.45 1.45 0 1 0 -2.9 0M435.22 500.26a1.45 1.45 0 1 0 2.9 0a1.45 1.45 0 1 0 -2.9 0M439.48 500.33a1.45 1.45 0 1 0 2.9 0a1.45 1.45 0 1 0 -2.9 0M442.57 502.16a1.45 1.45 0 1 0 2.9 0a1.45 1.45 0 1 0 -2.9 0M444.42 499.99a1.45 1.45 0 1 0 2.9 0a1.45 1.45 0 1 0 -2.9 0M433.39 504.64a1.45 1.45 0 1 0 2.9 0a1.45 1.45 0 1 0 -2.9 0M436.5 503.26a1.45 1.45 0 1 0 2.9 0a1.45 1.45 0 1 0 -2.9 0M439.48 503.7a1.45 1.45 0 1 0 2.9 0a1.45 1.45 0 1 0 -2.9 0M443.1 503.17a1.45 1.45 0 1 0 2.9 0a1.45 1.45 0 1 0 -2.9 0M432.82 508.4a1.45 1.45 0 1 0 2.9 0a1.45 1.45 0 1 0 -2.9 0M435.14 507.78a1.45 1.45 0 1 0 2.9 0a1.45 1.45 0 1 0 -2.9 0M437.97 507.48a1.45 1.45 0 1 0 2.9 0a1.45 1.45 0 1 0 -2.9 0M441.02 506.57a1.45 1.45 0 1 0 2.9 0a1.45 1.45 0 1 0 -2.9 0M431.05 511.14a1.45 1.45 0 1 0 2.9 0a1.45 1.45 0 1 0 -2.9 0M434.54 508.5a1.45 1.45 0 1 0 2.9 0a1.45 1.45 0 1 0 -2.9 0M435.96 510.97a1.45 1.45 0 1 0 2.9 0a1.45 1.45 0 1 0 -2.9 0M440.89 508.63a1.45 1.45 0 1 0 2.9 0a1.45 1.45 0 1 0 -2.9 0M432.23 511.6a1.45 1.45 0 1 0 2.9 0a1.45 1.45 0 1 0 -2.9 0M434.63 513.07a1.45 1.45 0 1 0 2.9 0a1.45 1.45 0 1 0 -2.9 0M437.69 512.19a1.45 1.45 0 1 0 2.9 0a1.45 1.45 0 1 0 -2.9 0M440.43 511.76a1.45 1.45 0 1 0 2.9 0a1.45 1.45 0 1 0 -2.9 0M432.21 516.53a1.45 1.45 0 1 0 2.9 0a1.45 1.45 0 1 0 -2.9 0M437.72 516.27a1.45 1.45 0 1 0 2.9 0a1.45 1.45 0 1 0 -2.9 0M429.39 519.65a1.45 1.45 0 1 0 2.9 0a1.45 1.45 0 1 0 -2.9 0M432.03 519.78a1.45 1.45 0 1 0 2.9 0a1.45 1.45 0 1 0 -2.9 0M434.77 518.67a1.45 1.45 0 1 0 2.9 0a1.45 1.45 0 1 0 -2.9 0M437.91 517.92a1.45 1.45 0 1 0 2.9 0a1.45 1.45 0 1 0 -2.9 0M429.77 520.02a1.45 1.45 0 1 0 2.9 0a1.45 1.45 0 1 0 -2.9 0M432.66 521.41a1.45 1.45 0 1 0 2.9 0a1.45 1.45 0 1 0 -2.9 0M435.74 520.17a1.45 1.45 0 1 0 2.9 0a1.45 1.45 0 1 0 -2.9 0M429.17 524.79a1.45 1.45 0 1 0 2.9 0a1.45 1.45 0 1 0 -2.9 0M433 523.16a1.45 1.45 0 1 0 2.9 0a1.45 1.45 0 1 0 -2.9 0M434.72 523.24a1.45 1.45 0 1 0 2.9 0a1.45 1.45 0 1 0 -2.9 0M427.49 528.58a1.45 1.45 0 1 0 2.9 0a1.45 1.45 0 1 0 -2.9 0M431.23 527.28a1.45 1.45 0 1 0 2.9 0a1.45 1.45 0 1 0 -2.9 0M433.81 526.81a1.45 1.45 0 1 0 2.9 0a1.45 1.45 0 1 0 -2.9 0M425.96 531.26a1.45 1.45 0 1 0 2.9 0a1.45 1.45 0 1 0 -2.9 0M429.4 530.53a1.45 1.45 0 1 0 2.9 0a1.45 1.45 0 1 0 -2.9 0M432.43 530.96a1.45 1.45 0 1 0 2.9 0a1.45 1.45 0 1 0 -2.9 0M426.34 533.63a1.45 1.45 0 1 0 2.9 0a1.45 1.45 0 1 0 -2.9 0M430.53 533.61a1.45 1.45 0 1 0 2.9 0a1.45 1.45 0 1 0 -2.9 0M428.32 535.11a1.45 1.45 0 1 0 2.9 0a1.45 1.45 0 1 0 -2.9 0M424.24 540.13a1.45 1.45 0 1 0 2.9 0a1.45 1.45 0 1 0 -2.9 0M427.18 538.89a1.45 1.45 0 1 0 2.9 0a1.45 1.45 0 1 0 -2.9 0M430.37 538.49a1.45 1.45 0 1 0 2.9 0a1.45 1.45 0 1 0 -2.9 0M426.1 540.38a1.45 1.45 0 1 0 2.9 0a1.45 1.45 0 1 0 -2.9 0M427.77 541.41a1.45 1.45 0 1 0 2.9 0a1.45 1.45 0 1 0 -2.9 0M423.21 544.26a1.45 1.45 0 1 0 2.9 0a1.45 1.45 0 1 0 -2.9 0M427.38 543.52a1.45 1.45 0 1 0 2.9 0a1.45 1.45 0 1 0 -2.9 0M423.07 547.41a1.45 1.45 0 1 0 2.9 0a1.45 1.45 0 1 0 -2.9 0M425.31 547.7a1.45 1.45 0 1 0 2.9 0a1.45 1.45 0 1 0 -2.9 0M422.21 550.48a1.45 1.45 0 1 0 2.9 0a1.45 1.45 0 1 0 -2.9 0M427.04 548.95a1.45 1.45 0 1 0 2.9 0a1.45 1.45 0 1 0 -2.9 0M425.94 554.17a1.45 1.45 0 1 0 2.9 0a1.45 1.45 0 1 0 -2.9 0M421.59 556.25a1.45 1.45 0 1 0 2.9 0a1.45 1.45 0 1 0 -2.9 0M423.32 555.86a1.45 1.45 0 1 0 2.9 0a1.45 1.45 0 1 0 -2.9 0M421.31 559.84a1.45 1.45 0 1 0 2.9 0a1.45 1.45 0 1 0 -2.9 0M424.73 558.28a1.45 1.45 0 1 0 2.9 0a1.45 1.45 0 1 0 -2.9 0M421.49 560.49a1.45 1.45 0 1 0 2.9 0a1.45 1.45 0 1 0 -2.9 0M421.87 565.2a1.45 1.45 0 1 0 2.9 0a1.45 1.45 0 1 0 -2.9 0M419.55 568.44a1.45 1.45 0 1 0 2.9 0a1.45 1.45 0 1 0 -2.9 0M419.26 574.01a1.45 1.45 0 1 0 2.9 0a1.45 1.45 0 1 0 -2.9 0M419.54 575.36a1.45 1.45 0 1 0 2.9 0a1.45 1.45 0 1 0 -2.9 0M419.43 580.23a1.45 1.45 0 1 0 2.9 0a1.45 1.45 0 1 0 -2.9 0M418.38 578.74a1.45 1.45 0 1 0 2.9 0a1.45 1.45 0 1 0 -2.9 0M420.4 576.92a1.45 1.45 0 1 0 2.9 0a1.45 1.45 0 1 0 -2.9 0M418.16 576.52a1.45 1.45 0 1 0 2.9 0a1.45 1.45 0 1 0 -2.9 0M421.05 574.93a1.45 1.45 0 1 0 2.9 0a1.45 1.45 0 1 0 -2.9 0M417.98 571.83a1.45 1.45 0 1 0 2.9 0a1.45 1.45 0 1 0 -2.9 0M418.22 570.26a1.45 1.45 0 1 0 2.9 0a1.45 1.45 0 1 0 -2.9 0M420.74 568.54a1.45 1.45 0 1 0 2.9 0a1.45 1.45 0 1 0 -2.9 0M418.42 566.79a1.45 1.45 0 1 0 2.9 0a1.45 1.45 0 1 0 -2.9 0M420.23 565.35a1.45 1.45 0 1 0 2.9 0a1.45 1.45 0 1 0 -2.9 0M420.17 561.73a1.45 1.45 0 1 0 2.9 0a1.45 1.45 0 1 0 -2.9 0M420.21 561.11a1.45 1.45 0 1 0 2.9 0a1.45 1.45 0 1 0 -2.9 0M421.14 558.25a1.45 1.45 0 1 0 2.9 0a1.45 1.45 0 1 0 -2.9 0M421.66 557.48a1.45 1.45 0 1 0 2.9 0a1.45 1.45 0 1 0 -2.9 0M421.55 554.16a1.45 1.45 0 1 0 2.9 0a1.45 1.45 0 1 0 -2.9 0M421.03 553.55a1.45 1.45 0 1 0 2.9 0a1.45 1.45 0 1 0 -2.9 0M423.42 551.8a1.45 1.45 0 1 0 2.9 0a1.45 1.45 0 1 0 -2.9 0M422.98 549.21a1.45 1.45 0 1 0 2.9 0a1.45 1.45 0 1 0 -2.9 0M421.7 547.89a1.45 1.45 0 1 0 2.9 0a1.45 1.45 0 1 0 -2.9 0M423.7 546.66a1.45 1.45 0 1 0 2.9 0a1.45 1.45 0 1 0 -2.9 0M422.48 544.36a1.45 1.45 0 1 0 2.9 0a1.45 1.45 0 1 0 -2.9 0M424.24 541.22a1.45 1.45 0 1 0 2.9 0a1.45 1.45 0 1 0 -2.9 0M426.61 540.18a1.45 1.45 0 1 0 2.9 0a1.45 1.45 0 1 0 -2.9 0M425.73 537.77a1.45 1.45 0 1 0 2.9 0a1.45 1.45 0 1 0 -2.9 0M425.09 537.17a1.45 1.45 0 1 0 2.9 0a1.45 1.45 0 1 0 -2.9 0M425.3 534.44a1.45 1.45 0 1 0 2.9 0a1.45 1.45 0 1 0 -2.9 0M426.31 533.13a1.45 1.45 0 1 0 2.9 0a1.45 1.45 0 1 0 -2.9 0M425.82 530.47a1.45 1.45 0 1 0 2.9 0a1.45 1.45 0 1 0 -2.9 0M428.98 529.72a1.45 1.45 0 1 0 2.9 0a1.45 1.45 0 1 0 -2.9 0M427.27 527.59a1.45 1.45 0 1 0 2.9 0a1.45 1.45 0 1 0 -2.9 0M430.22 526.27a1.45 1.45 0 1 0 2.9 0a1.45 1.45 0 1 0 -2.9 0M429.65 523.28a1.45 1.45 0 1 0 2.9 0a1.45 1.45 0 1 0 -2.9 0M432.07 522.1a1.45 1.45 0 1 0 2.9 0a1.45 1.45 0 1 0 -2.9 0M430.69 520.29a1.45 1.45 0 1 0 2.9 0a1.45 1.45 0 1 0 -2.9 0M431.93 518.63a1.45 1.45 0 1 0 2.9 0a1.45 1.45 0 1 0 -2.9 0M434.01 516.67a1.45 1.45 0 1 0 2.9 0a1.45 1.45 0 1 0 -2.9 0M431.42 514.65a1.45 1.45 0 1 0 2.9 0a1.45 1.45 0 1 0 -2.9 0M433.63 512.77a1.45 1.45 0 1 0 2.9 0a1.45 1.45 0 1 0 -2.9 0M435 511.57a1.45 1.45 0 1 0 2.9 0a1.45 1.45 0 1 0 -2.9 0M434.32 510.2a1.45 1.45 0 1 0 2.9 0a1.45 1.45 0 1 0 -2.9 0M434.49 506.67a1.45 1.45 0 1 0 2.9 0a1.45 1.45 0 1 0 -2.9 0M435.49 505.81a1.45 1.45 0 1 0 2.9 0a1.45 1.45 0 1 0 -2.9 0M438.64 505.05a1.45 1.45 0 1 0 2.9 0a1.45 1.45 0 1 0 -2.9 0M438.04 503.59a1.45 1.45 0 1 0 2.9 0a1.45 1.45 0 1 0 -2.9 0" fill="none" stroke="#111" stroke-width="1.2"/>
<path d="M418.34 908.59a1.45 1.45 0 1 0 2.9 0a1.45 1.45 0 1 0 -2.9 0M421.13 911.89a1.45 1.45 0 1 0 2.9 0a1.45 1.45 0 1 0 -2.9 0M419.72 908.63a1.45 1.45 0 1 0 2.9 0a1.45 1.45 0 1 0 -2.9 0M420.79 908.19a1.45 1.45 0 1 0 2.9 0a1.45 1.45 0 1 0 -2.9 0M421.53 907.05a1.45 1.45 0 1 0 2.9 0a1.45 1.45 0 1 0 -2.9 0M420.43 905.9a1.45 1.45 0 1 0 2.9 0a1.45 1.45 0 1 0 -2.9 0M420.95 905.75a1.45 1.45 0 1 0 2.9 0a1.45 1.45 0 1 0 -2.9 0M423.51 905.83a1.45 1.45 0 1 0 2.9 0a1.45 1.45 0 1 0 -2.9 0M425.83 905.06a1.45 1.45 0 1 0 2.9 0a1.45 1.45 0 1 0 -2.9 0M425.39 905.89a1.45 1.45 0 1 0 2.9 0a1.45 1.45 0 1 0 -2.9 0M424.45 902.96a1.45 1.45 0 1 0 2.9 0a1.45 1.45 0 1 0 -2.9 0M423.79 902.33a1.45 1.45 0 1 0 2.9 0a1.45 1.45 0 1 0 -2.9 0M428.08 903.17a1.45 1.45 0 1 0 2.9 0a1.45 1.45 0 1 0 -2.9 0M425.41 902.68a1.45 1.45 0 1 0 2.9 0a1.45 1.45 0 1 0 -2.9 0M425.18 900.39a1.45 1.45 0 1 0 2.9 0a1.45 1.45 0 1 0 -2.9 0M425.49 900.26a1.45 1.45 0 1 0 2.9 0a1.45 1.45 0 1 0 -2.9 0M427.32 900.02a1.45 1.45 0 1 0 2.9 0a1.45 1.45 0 1 0 -2.9 0M429.12 900.29a1.45 1.45 0 1 0 2.9 0a1.45 1.45 0 1 0 -2.9 0M429.86 899.83a1.45 1.45 0 1 0 2.9 0a1.45 1.45 0 1 0 -2.9 0M429.03 898.44a1.45 1.45 0 1 0 2.9 0a1.45 1.45 0 1 0 -2.9 0M428.58 896.6a1.45 1.45 0 1 0 2.9 0a1.45 1.45 0 1 0 -2.9 0M430.94 897.97a1.45 1.45 0 1 0 2.9 0a1.45 1.45 0 1 0 -2.9 0M432.24 897.18a1.45 1.45 0 1 0 2.9 0a1.45 1.45 0 1 0 -2.9 0M432.23 896.44a1.45 1.45 0 1 0 2.9 0a1.45 1.45 0 1 0 -2.9 0M433.02 895.03a1.45 1.45 0 1 0 2.9 0a1.45 1.45 0 1 0 -2.9 0M432.14 895.21a1.45 1.45 0 1 0 2.9 0a1.45 1.45 0 1 0 -2.9 0M431.58 891.93a1.45 1.45 0 1 0 2.9 0a1.45 1.45 0 1 0 -2.9 0M430.33 891.76a1.45 1.45 0 1 0 2.9 0a1.45 1.45 0 1 0 -2.9 0M432.05 890.66a1.45 1.45 0 1 0 2.9 0a1.45 1.45 0 1 0 -2.9 0M434.91 893.77a1.45 1.45 0 1 0 2.9 0a1.45 1.45 0 1 0 -2.9 0M436.07 891.74a1.45 1.45 0 1 0 2.9 0a1.45 1.45 0 1 0 -2.9 0M434.81 891.77a1.45 1.45 0 1 0 2.9 0a1.45 1.45 0 1 0 -2.9 0M436.86 891.08a1.45 1.45 0 1 0 2.9 0a1.45 1.45 0 1 0 -2.9 0M436.49 890.73a1.45 1.45 0 1 0 2.9 0a1.45 1.45 0 1 0 -2.9 0M438.46 889.89a1.45 1.45 0 1 0 2.9 0a1.45 1.45 0 1 0 -2.9 0M434.72 887.33a1.45 1.45 0 1 0 2.9 0a1.45 1.45 0 1 0 -2.9 0M439.14 889.07a1.45 1.45 0 1 0 2.9 0a1.45 1.45 0 1 0 -2.9 0M436.66 887.32a1.45 1.45 0 1 0 2.9 0a1.45 1.45 0 1 0 -2.9 0M439.8 886.47a1.45 1.45 0 1 0 2.9 0a1.45 1.45 0 1 0 -2.9 0M440.29 888.35a1.45 1.45 0 1 0 2.9 0a1.45 1.45 0 1 0 -2.9 0M441.22 887.07a1.45 1.45 0 1 0 2.9 0a1.45 1.45 0 1 0 -2.9 0M439.28 884.64a1.45 1.45 0 1 0 2.9 0a1.45 1.45 0 1 0 -2.9 0M441.45 884.26a1.45 1.45 0 1 0 2.9 0a1.45 1.45 0 1 0 -2.9 0M441.28 884.06a1.45 1.45 0 1 0 2.9 0a1.45 1.45 0 1 0 -2.9 0M443.91 885.08a1.45 1.45 0 1 0 2.9 0a1.45 1.45 0 1 0 -2.9 0M441.31 881.15a1.45 1.45 0 1 0 2.9 0a1.45 1.45 0 1 0 -2.9 0M442.71 880.62a1.45 1.45 0 1 0 2.9 0a1.45 1.45 0 1 0 -2.9 0M444.81 884.12a1.45 1.45 0 1 0 2.9 0a1.45 1.45 0 1 0 -2.9 0M445.29 882.38a1.45 1.45 0 1 0 2.9 0a1.45 1.45 0 1 0 -2.9 0M444.51 880.69a1.45 1.45 0 1 0 2.9 0a1.45 1.45 0 1 0 -2.9 0M446.84 879.93a1.45 1.45 0 1 0 2.9 0a1.45 1.45 0 1 0 -2.9 0M443.06 877.96a1.45 1.45 0 1 0 2.9 0a1.45 1.45 0 1 0 -2.9 0M447.44 878.42a1.45 1.45 0 1 0 2.9 0a1.45 1.45 0 1 0 -2.9 0M445.15 876.63a1.45 1.45 0 1 0 2.9 0a1.45 1.45 0 1 0 -2.9 0M445.97 875.65a1.45 1.45 0 1 0 2.9 0a1.45 1.45 0 1 0 -2.9 0M450.47 878.53a1.45 1.45 0 1 0 2.9 0a1.45 1.45 0 1 0 -2.9 0M449.67 876.56a1.45 1.45 0 1 0 2.9 0a1.45 1.45 0 1 0 -2.9 0M451.08 877.1a1.45 1.45 0 1 0 2.9 0a1.45 1.45 0 1 0 -2.9 0M447.31 872.36a1.45 1.45 0 1 0 2.9 0a1.45 1.45 0 1 0 -2.9 0M450.09 874.81a1.45 1.45 0 1 0 2.9 0a1.45 1.45 0 1 0 -2.9 0M450.2 873.13a1.45 1.45 0 1 0 2.9 0a1.45 1.45 0 1 0 -2.9 0M449.81 872.03a1.45 1.45 0 1 0 2.9 0a1.45 1.45 0 1 0 -2.9 0M452.41 873.18a1.45 1.45 0 1 0 2.9 0a1.45 1.45 0 1 0 -2.9 0M453.23 872.55a1.45 1.45 0 1 0 2.9 0a1.45 1.45 0 1 0 -2.9 0M453.55 871.86a1.45 1.45 0 1 0 2.9 0a1.45 1.45 0 1 0 -2.9 0M451.46 870.29a1.45 1.45 0 1 0 2.9 0a1.45 1.45 0 1 0 -2.9 0M455.95 870.18a1.45 1.45 0 1 0 2.9 0a1.45 1.45 0 1 0 -2.9 0M453.77 870.21a1.45 1.45 0 1 0 2.9 0a1.45 1.45 0 1 0 -2.9 0M452.78 867.21a1.45 1.45 0 1 0 2.9 0a1.45 1.45 0 1 0 -2.9 0M452.82 866.95a1.45 1.45 0 1 0 2.9 0a1.45 1.45 0 1 0 -2.9 0M453.9 866.54a1.45 1.45 0 1 0 2.9 0a1.45 1.45 0 1 0 -2.9 0M453.8 866.07a1.45 1.45 0 1 0 2.9 0a1.45 1.45 0 1 0 -2.9 0M456.58 865.94a1.45 1.45 0 1 0 2.9 0a1.45 1.45 0 1 0 -2.9 0M456.02 865.56a1.45 1.45 0 1 0 2.9 0a1.45 1.45 0 1 0 -2.9 0M454.84 863.45a1.45 1.45 0 1 0 2.9 0a1.45 1.45 0 1 0 -2.9 0M455.62 863.67a1.45 1.45 0 1 0 2.9 0a1.45 1.45 0 1 0 -2.9 0M456.12 861.06a1.45 1.45 0 1 0 2.9 0a1.45 1.45 0 1 0 -2.9 0M457.5 862.82a1.45 1.45 0 1 0 2.9 0a1.45 1.45 0 1 0 -2.9 0M459.66 862.13a1.45 1.45 0 1 0 2.9 0a1.45 1.45 0 1 0 -2.9 0M457.13 860.62a1.45 1.45 0 1 0 2.9 0a1.45 1.45 0 1 0 -2.9 0M459.87 860.5a1.45 1.45 0 1 0 2.9 0a1.45 1.45 0 1 0 -2.9 0M458.68 858.67a1.45 1.45 0 1 0 2.9 0a1.45 1.45 0 1 0 -2.9 0M460.52 858.16a1.45 1.45 0 1 0 2.9 0a1.45 1.45 0 1 0 -2.9 0M461.61 859.69a1.45 1.45 0 1 0 2.9 0a1.45 1.45 0 1 0 -2.9 0M460.82 857.61a1.45 1.45 0 1 0 2.9 0a1.45 1.45 0 1 0 -2.9 0M463.14 857.74a1.45 1.45 0 1 0 2.9 0a1.45 1.45 0 1 0 -2.9 0M462.18 856.44a1.45 1.45 0 1 0 2.9 0a1.45 1.45 0 1 0 -2.9 0M463.36 857.46a1.45 1.45 0 1 0 2.9 0a1.45 1.45 0 1 0 -2.9 0M462.68 853.49a1.45 1.45 0 1 0 2.9 0a1.45 1.45 0 1 0 -2.9 0M462.12 853.46a1.45 1.45 0 1 0 2.9 0a1.45 1.45 0 1 0 -2.9 0M465.58 853.82a1.45 1.45 0 1 0 2.9 0a1.45 1.45 0 1 0 -2.9 0M463.04 851.79a1.45 1.45 0 1 0 2.9 0a1.45 1.45 0 1 0 -2.9 0M464.23 850.67a1.45 1.45 0 1 0 2.9 0a1.45 1.45 0 1 0 -2.9 0M463.13 850.03a1.45 1.45 0 1 0 2.9 0a1.45 1.45 0 1 0 -2.9 0M465.8 851.44a1.45 1.45 0 1 0 2.9 0a1.45 1.45 0 1 0 -2.9 0M465.56 850.96a1.45 1.45 0 1 0 2.9 0a1.45 1.45 0 1 0 -2.9 0M466.03 848.84a1.45 1.45 0 1 0 2.9 0a1.45 1.45 0 1 0 -2.9 0M464.58 847.41a1.45 1.45 0 1 0 2.9 0a1.45 1.45 0 1 0 -2.9 0M468.75 848.37a1.45 1.45 0 1 0 2.9 0a1.45 1.45 0 1 0 -2.9 0M466.45 846.98a1.45 1.45 0 1 0 2.9 0a1.45 1.45 0 1 0 -2.9 0M467.11 845.64a1.45 1.45 0 1 0 2.9 0a1.45 1.45 0 1 0 -2.9 0M466.94 846.35a1.45 1.45 0 1 0 2.9 0a1.45 1.45 0 1 0 -2.9 0M469.63 845.51a1.45 1.45 0 1 0 2.9 0a1.45 1.45 0 1 0 -2.9 0M466.15 844.41a1.45 1.45 0 1 0 2.9 0a1.45 1.45 0 1 0 -2.9 0M467.58 843.41a1.45 1.45 0 1 0 2.9 0a1.45 1.45 0 1 0 -2.9 0M469.34 841.35a1.45 1.45 0 1 0 2.9 0a1.45 1.45 0 1 0 -2.9 0M468.86 840.17a1.45 1.45 0 1 0 2.9 0a1.45 1.45 0 1 0 -2.9 0M470.15 837.94a1.45 1.45 0 1 0 2.9 0a1.45 1.45 0 1 0 -2.9 0M470.74 835.89a1.45 1.45 0 1 0 2.9 0a1.45 1.45 0 1 0 -2.9 0M470.53 834.3a1.45 1.45 0 1 0 2.9 0a1.45 1.45 0 1 0 -2.9 0M474.02 833.19a1.45 1.45 0 1 0 2.9 0a1.45 1.45 0 1 0 -2.9 0M472.07 831.96a1.45 1.45 0 1 0 2.9 0a1.45 1.45 0 1 0 -2.9 0M475.29 829.17a1.45 1.45 0 1 0 2.9 0a1.45 1.45 0 1 0 -2.9 0M475.26 828.47a1.45 1.45 0 1 0 2.9 0a1.45 1.45 0 1 0 -2.9 0M476.34 826.04a1.45 1.45 0 1 0 2.9 0a1.45 1.45 0 1 0 -2.9 0M475.61 823.93a1.45 1.45 0 1 0 2.9 0a1.45 1.45 0 1 0 -2.9 0M476.35 822.24a1.45 1.45 0 1 0 2.9 0a1.45 1.45 0 1 0 -2.9 0M477.61 821.62a1.45 1.45 0 1 0 2.9 0a1.45 1.45 0 1 0 -2.9 0M479.57 818.55a1.45 1.45 0 1 0 2.9 0a1.45 1.45 0 1 0 -2.9 0M479.27 816.81a1.45 1.45 0 1 0 2.9 0a1.45 1.45 0 1 0 -2.9 0M477.35 815.3a1.45 1.45 0 1 0 2.9 0a1.45 1.45 0 1 0 -2.9 0M481.26 813.63a1.45 1.45 0 1 0 2.9 0a1.45 1.45 0 1 0 -2.9 0M480.3 812.47a1.45 1.45 0 1 0 2.9 0a1.45 1.45 0 1 0 -2.9 0M481.2 809.99a1.45 1.45 0 1 0 2.9 0a1.45 1.45 0 1 0 -2.9 0M481 808.82a1.45 1.45 0 1 0 2.9 0a1.45 1.45 0 1 0 -2.9 0M482.16 807.14a1.45 1.45 0 1 0 2.9 0a1.45 1.45 0 1 0 -2.9 0M481.97 803.81a1.45 1.45 0 1 0 2.9 0a1.45 1.45 0 1 0 -2.9 0M484.97 804.11a1.45 1.45 0 1 0 2.9 0a1.45 1.45 0 1 0 -2.9 0M483.52 800.77a1.45 1.45 0 1 0 2.9 0a1.45 1.45 0 1 0 -2.9 0M484.67 798.56a1.45 1.45 0 1 0 2.9 0a1.45 1.45 0 1 0 -2.9 0M486.5 797.93a1.45 1.45 0 1 0 2.9 0a1.45 1.45 0 1 0 -2.9 0M488.63 796.16a1.45 1.45 0 1 0 2.9 0a1.45 1.45 0 1 0 -2.9 0M486.37 794.37a1.45 1.45 0 1 0 2.9 0a1.45 1.45 0 1 0 -2.9 0M488.21 792.74a1.45 1.45 0 1 0 2.9 0a1.45 1.45 0 1 0 -2.9 0M489.99 791.82a1.45 1.45 0 1 0 2.9 0a1.45 1.45 0 1 0 -2.9 0M488.7 789.07a1.45 1.45 0 1 0 2.9 0a1.45 1.45 0 1 0 -2.9 0M491.17 786.7a1.45 1.45 0 1 0 2.9 0a1.45 1.45 0 1 0 -2.9 0M491.42 786.09a1.45 1.45 0 1 0 2.9 0a1.45 1.45 0 1 0 -2.9 0M492.34 784.75a1.45 1.45 0 1 0 2.9 0a1.45 1.45 0 1 0 -2.9 0M491.9 780.66a1.45 1.45 0 1 0 2.9 0a1.45 1.45 0 1 0 -2.9 0M493.93 781.25a1.45 1.45 0 1 0 2.9 0a1.45 1.45 0 1 0 -2.9 0M493.76 778.88a1.45 1.45 0 1 0 2.9 0a1.45 1.45 0 1 0 -2.9 0M494.11 776.83a1.45 1.45 0 1 0 2.9 0a1.45 1.45 0 1 0 -2.9 0M493.55 774.07a1.45 1.45 0 1 0 2.9 0a1.45 1.45 0 1 0 -2.9 0M495.58 772.87a1.45 1.45 0 1 0 2.9 0a1.45 1.45 0 1 0 -2.9 0M495.94 771.27a1.45 1.45 0 1 0 2.9 0a1.45 1.45 0 1 0 -2.9 0M497.84 770.11a1.45 1.45 0 1 0 2.9 0a1.45 1.45 0 1 0 -2.9 0M498.7 767.63a1.45 1.45 0 1 0 2.9 0a1.45 1.45 0 1 0 -2.9 0M498.42 766.72a1.45 1.45 0 1 0 2.9 0a1.45 1.45 0 1 0 -2.9 0M499.66 763.19a1.45 1.45 0 1 0 2.9 0a1.45 1.45 0 1 0 -2.9 0M499.82 761.34a1.45 1.45 0 1 0 2.9 0a1.45 1.45 0 1 0 -2.9 0M499.79 760.78a1.45 1.45 0 1 0 2.9 0a1.45 1.45 0 1 0 -2.9 0M502.14 758.44a1.45 1.45 0 1 0 2.9 0a1.45 1.45 0 1 0 -2.9 0M500.35 755.7a1.45 1.45 0 1 0 2.9 0a1.45 1.45 0 1 0 -2.9 0M502.41 754.36a1.45 1.45 0 1 0 2.9 0a1.45 1.45 0 1 0 -2.9 0M502.36 753.62a1.45 1.45 0 1 0 2.9 0a1.45 1.45 0 1 0 -2.9 0M506.44 752.22a1.45 1.45 0 1 0 2.9 0a1.45 1.45 0 1 0 -2.9 0M508.28 754.31a1.45 1.45 0 1 0 2.9 0a1.45 1.45 0 1 0 -2.9 0M504.22 749.82a1.45 1.45 0 1 0 2.9 0a1.45 1.45 0 1 0 -2.9 0M503.51 750.13a1.45 1.45 0 1 0 2.9 0a1.45 1.45 0 1 0 -2.9 0M508.4 750.08a1.45 1.45 0 1 0 2.9 0a1.45 1.45 0 1 0 -2.9 0M503.08 746.87a1.45 1.45 0 1 0 2.9 0a1.45 1.45 0 1 0 -2.9 0M511.49 749.64a1.45 1.45 0 1 0 2.9 0a1.45 1.45 0 1 0 -2.9 0M509.3 747.27a1.45 1.45 0 1 0 2.9 0a1.45 1.45 0 1 0 -2.9 0M511.68 748.21a1.45 1.45 0 1 0 2.9 0a1.45 1.45 0 1 0 -2.9 0M506.83 745.57a1.45 1.45 0 1 0 2.9 0a1.45 1.45 0 1 0 -2.9 0M512.67 745.5a1.45 1.45 0 1 0 2.9 0a1.45 1.45 0 1 0 -2.9 0M505.72 743.56a1.45 1.45 0 1 0 2.9 0a1.45 1.45 0 1 0 -2.9 0M514.12 745.24a1.45 1.45 0 1 0 2.9 0a1.45 1.45 0 1 0 -2.9 0M509.61 742.6a1.45 1.45 0 1 0 2.9 0a1.45 1.45 0 1 0 -2.9 0M514.52 742.79a1.45 1.45 0 1 0 2.9 0a1.45 1.45 0 1 0 -2.9 0M514.4 742.11a1.45 1.45 0 1 0 2.9 0a1.45 1.45 0 1 0 -2.9 0M508.82 737.43a1.45 1.45 0 1 0 2.9 0a1.45 1.45 0 1 0 -2.9 0M508.47 738.36a1.45 1.45 0 1 0 2.9 0a1.45 1.45 0 1 0 -2.9 0M515.92 739.14a1.45 1.45 0 1 0 2.9 0a1.45 1.45 0 1 0 -2.9 0M510.01 736.01a1.45 1.45 0 1 0 2.9 0a1.45 1.45 0 1 0 -2.9 0M514.86 735.82a1.45 1.45 0 1 0 2.9 0a1.45 1.45 0 1 0 -2.9 0M515.28 736.48a1.45 1.45 0 1 0 2.9 0a1.45 1.45 0 1 0 -2.9 0M511.58 733.2a1.45 1.45 0 1 0 2.9 0a1.45 1.45 0 1 0 -2.9 0M514.65 734.39a1.45 1.45 0 1 0 2.9 0a1.45 1.45 0 1 0 -2.9 0M515.75 731.62a1.45 1.45 0 1 0 2.9 0a1.45 1.45 0 1 0 -2.9 0M519.13 734.23a1.45 1.45 0 1 0 2.9 0a1.45 1.45 0 1 0 -2.9 0M519.48 731.76a1.45 1.45 0 1 0 2.9 0a1.45 1.45 0 1 0 -2.9 0M513.6 730.3a1.45 1.45 0 1 0 2.9 0a1.45 1.45 0 1 0 -2.9 0M517.26 728.42a1.45 1.45 0 1 0 2.9 0a1.45 1.45 0 1 0 -2.9 0M513.88 727.95a1.45 1.45 0 1 0 2.9 0a1.45 1.45 0 1 0 -2.9 0M521.34 730.39a1.45 1.45 0 1 0 2.9 0a1.45 1.45 0 1 0 -2.9 0M521.43 730.21a1.45 1.45 0 1 0 2.9 0a1.45 1.45 0 1 0 -2.9 0M520.51 726.03a1.45 1.45 0 1 0 2.9 0a1.45 1.45 0 1 0 -2.9 0M516.97 724.86a1.45 1.45 0 1 0 2.9 0a1.45 1.45 0 1 0 -2.9 0M523.61 727.84a1.45 1.45 0 1 0 2.9 0a1.45 1.45 0 1 0 -2.9 0M517.85 722.6a1.45 1.45 0 1 0 2.9 0a1.45 1.45 0 1 0 -2.9 0M523.9 725.3a1.45 1.45 0 1 0 2.9 0a1.45 1.45 0 1 0 -2.9 0M518.14 720.59a1.45 1.45 0 1 0 2.9 0a1.45 1.45 0 1 0 -2.9 0M518.48 719.83a1.45 1.45 0 1 0 2.9 0a1.45 1.45 0 1 0 -2.9 0M521.55 720.1a1.45 1.45 0 1 0 2.9 0a1.45 1.45 0 1 0 -2.9 0M525.65 722.21a1.45 1.45 0 1 0 2.9 0a1.45 1.45 0 1 0 -2.9 0M519.8 718.22a1.45 1.45 0 1 0 2.9 0a1.45 1.45 0 1 0 -2.9 0M524.86 719a1.45 1.45 0 1 0 2.9 0a1.45 1.45 0 1 0 -2.9 0M524.15 719.35a1.45 1.45 0 1 0 2.9 0a1.45 1.45 0 1 0 -2.9 0M528.04 719.27a1.45 1.45 0 1 0 2.9 0a1.45 1.45 0 1 0 -2.9 0M527.62 719.24a1.45 1.45 0 1 0 2.9 0a1.45 1.45 0 1 0 -2.9 0M524.14 713a1.45 1.45 0 1 0 2.9 0a1.45 1.45 0 1 0 -2.9 0M525.89 716.35a1.45 1.45 0 1 0 2.9 0a1.45 1.45 0 1 0 -2.9 0M525.05 711.7a1.45 1.45 0 1 0 2.9 0a1.45 1.45 0 1 0 -2.9 0M530.92 717.6a1.45 1.45 0 1 0 2.9 0a1.45 1.45 0 1 0 -2.9 0M530.8 714.41a1.45 1.45 0 1 0 2.9 0a1.45 1.45 0 1 0 -2.9 0M527.59 711.91a1.45 1.45 0 1 0 2.9 0a1.45 1.45 0 1 0 -2.9 0M527.07 709.12a1.45 1.45 0 1 0 2.9 0a1.45 1.45 0 1 0 -2.9 0M531.45 712.15a1.45 1.45 0 1 0 2.9 0a1.45 1.45 0 1 0 -2.9 0M530.19 708.03a1.45 1.45 0 1 0 2.9 0a1.45 1.45 0 1 0 -2.9 0M533.73 711.01a1.45 1.45 0 1 0 2.9 0a1.45 1.45 0 1 0 -2.9 0M535.94 712.23a1.45 1.45 0 1 0 2.9 0a1.45 1.45 0 1 0 -2.9 0M533.76 710.96a1.45 1.45 0 1 0 2.9 0a1.45 1.45 0 1 0 -2.9 0M538.42 711.67a1.45 1.45 0 1 0 2.9 0a1.45 1.45 0 1 0 -2.9 0M535.07 709.25a1.45 1.45 0 1 0 2.9 0a1.45 1.45 0 1 0 -2.9 0M537.11 708.74a1.45 1.45 0 1 0 2.9 0a1.45 1.45 0 1 0 -2.9 0M537.01 708.67a1.45 1.45 0 1 0 2.9 0a1.45 1.45 0 1 0 -2.9 0M536.74 704.91a1.45 1.45 0 1 0 2.9 0a1.45 1.45 0 1 0 -2.9 0M540.53 708.95a1.45 1.45 0 1 0 2.9 0a1.45 1.45 0 1 0 -2.9 0M538.12 703.76a1.45 1.45 0 1 0 2.9 0a1.45 1.45 0 1 0 -2.9 0M539.32 705.35a1.45 1.45 0 1 0 2.9 0a1.45 1.45 0 1 0 -2.9 0M540.23 702.84a1.45 1.45 0 1 0 2.9 0a1.45 1.45 0 1 0 -2.9 0M538.13 701.47a1.45 1.45 0 1 0 2.9 0a1.45 1.45 0 1 0 -2.9 0M541.69 700.15a1.45 1.45 0 1 0 2.9 0a1.45 1.45 0 1 0 -2.9 0M544.23 705.34a1.45 1.45 0 1 0 2.9 0a1.45 1.45 0 1 0 -2.9 0M542.93 698.48a1.45 1.45 0 1 0 2.9 0a1.45 1.45 0 1 0 -2.9 0M547.21 704.84a1.45 1.45 0 1 0 2.9 0a1.45 1.45 0 1 0 -2.9 0M545.91 701.81a1.45 1.45 0 1 0 2.9 0a1.45 1.45 0 1 0 -2.9 0M544.52 698.16a1.45 1.45 0 1 0 2.9 0a1.45 1.45 0 1 0 -2.9 0M545.65 697.03a1.45 1.45 0 1 0 2.9 0a1.45 1.45 0 1 0 -2.9 0M548.8 701.93a1.45 1.45 0 1 0 2.9 0a1.45 1.45 0 1 0 -2.9 0M550.98 701.31a1.45 1.45 0 1 0 2.9 0a1.45 1.45 0 1 0 -2.9 0M546.17 695.82a1.45 1.45 0 1 0 2.9 0a1.45 1.45 0 1 0 -2.9 0M548.4 695.01a1.45 1.45 0 1 0 2.9 0a1.45 1.45 0 1 0 -2.9 0M550.43 698.9a1.45 1.45 0 1 0 2.9 0a1.45 1.45 0 1 0 -2.9 0M552.1 697.16a1.45 1.45 0 1 0 2.9 0a1.45 1.45 0 1 0 -2.9 0M550.05 694.7a1.45 1.45 0 1 0 2.9 0a1.45 1.45 0 1 0 -2.9 0M553.11 693.5a1.45 1.45 0 1 0 2.9 0a1.45 1.45 0 1 0 -2.9 0M553.48 695.83a1.45 1.45 0 1 0 2.9 0a1.45 1.45 0 1 0 -2.9 0M556.34 700.52a1.45 1.45 0 1 0 2.9 0a1.45 1.45 0 1 0 -2.9 0M553.54 692.38a1.45 1.45 0 1 0 2.9 0a1.45 1.45 0 1 0 -2.9 0M556.94 694.66a1.45 1.45 0 1 0 2.9 0a1.45 1.45 0 1 0 -2.9 0M556.74 692.88a1.45 1.45 0 1 0 2.9 0a1.45 1.45 0 1 0 -2.9 0M559.97 696.08a1.45 1.45 0 1 0 2.9 0a1.45 1.45 0 1 0 -2.9 0M557.58 692.45a1.45 1.45 0 1 0 2.9 0a1.45 1.45 0 1 0 -2.9 0M560.69 697.71a1.45 1.45 0 1 0 2.9 0a1.45 1.45 0 1 0 -2.9 0M561.45 697.81a1.45 1.45 0 1 0 2.9 0a1.45 1.45 0 1 0 -2.9 0M561.42 691.97a1.45 1.45 0 1 0 2.9 0a1.45 1.45 0 1 0 -2.9 0M563.97 696.86a1.45 1.45 0 1 0 2.9 0a1.45 1.45 0 1 0 -2.9 0M562.88 689.43a1.45 1.45 0 1 0 2.9 0a1.45 1.45 0 1 0 -2.9 0M564.55 690.62a1.45 1.45 0 1 0 2.9 0a1.45 1.45 0 1 0 -2.9 0M567.02 693.57a1.45 1.45 0 1 0 2.9 0a1.45 1.45 0 1 0 -2.9 0M567.14 692.04a1.45 1.45 0 1 0 2.9 0a1.45 1.45 0 1 0 -2.9 0M568.96 693.05a1.45 1.45 0 1 0 2.9 0a1.45 1.45 0 1 0 -2.9 0M570.57 691.77a1.45 1.45 0 1 0 2.9 0a1.45 1.45 0 1 0 -2.9 0M571.36 694.29a1.45 1.45 0 1 0 2.9 0a1.45 1.45 0 1 0 -2.9 0M572.96 692.3a1.45 1.45 0 1 0 2.9 0a1.45 1.45 0 1 0 -2.9 0M574.82 695.04a1.45 1.45 0 1 0 2.9 0a1.45 1.45 0 1 0 -2.9 0M575.76 694.71a1.45 1.45 0 1 0 2.9 0a1.45 1.45 0 1 0 -2.9 0M576.24 691.83a1.45 1.45 0 1 0 2.9 0a1.45 1.45 0 1 0 -2.9 0M578.17 690.52a1.45 1.45 0 1 0 2.9 0a1.45 1.45 0 1 0 -2.9 0M579.42 693.49a1.45 1.45 0 1 0 2.9 0a1.45 1.45 0 1 0 -2.9 0M580.59 692.63a1.45 1.45 0 1 0 2.9 0a1.45 1.45 0 1 0 -2.9 0M582.12 693.27a1.45 1.45 0 1 0 2.9 0a1.45 1.45 0 1 0 -2.9 0M582.92 693.29a1.45 1.45 0 1 0 2.9 0a1.45 1.45 0 1 0 -2.9 0M584.33 689.18a1.45 1.45 0 1 0 2.9 0a1.45 1.45 0 1 0 -2.9 0M584.75 686.9a1.45 1.45 0 1 0 2.9 0a1.45 1.45 0 1 0 -2.9 0M586.84 689.05a1.45 1.45 0 1 0 2.9 0a1.45 1.45 0 1 0 -2.9 0M588.4 693.43a1.45 1.45 0 1 0 2.9 0a1.45 1.45 0 1 0 -2.9 0M590.27 691.47a1.45 1.45 0 1 0 2.9 0a1.45 1.45 0 1 0 -2.9 0M590.43 693.01a1.45 1.45 0 1 0 2.9 0a1.45 1.45 0 1 0 -2.9 0M592.92 693.24a1.45 1.45 0 1 0 2.9 0a1.45 1.45 0 1 0 -2.9 0M592.96 690.88a1.45 1.45 0 1 0 2.9 0a1.45 1.45 0 1 0 -2.9 0M595.08 689.58a1.45 1.45 0 1 0 2.9 0a1.45 1.45 0 1 0 -2.9 0M595.73 689.41a1.45 1.45 0 1 0 2.9 0a1.45 1.45 0 1 0 -2.9 0M597.65 689.11a1.45 1.45 0 1 0 2.9 0a1.45 1.45 0 1 0 -2.9 0M597.64 685.41a1.45 1.45 0 1 0 2.9 0a1.45 1.45 0 1 0 -2.9 0M599.49 692.56a1.45 1.45 0 1 0 2.9 0a1.45 1.45 0 1 0 -2.9 0M600.64 688.14a1.45 1.45 0 1 0 2.9 0a1.45 1.45 0 1 0 -2.9 0M602.48 689.43a1.45 1.45 0 1 0 2.9 0a1.45 1.45 0 1 0 -2.9 0M603.99 686.64a1.45 1.45 0 1 0 2.9 0a1.45 1.45 0 1 0 -2.9 0M604.65 691.9a1.45 1.45 0 1 0 2.9 0a1.45 1.45 0 1 0 -2.9 0M606.8 689.89a1.45 1.45 0 1 0 2.9 0a1.45 1.45 0 1 0 -2.9 0M607.09 691.06a1.45 1.45 0 1 0 2.9 0a1.45 1.45 0 1 0 -2.9 0M609.42 690.91a1.45 1.45 0 1 0 2.9 0a1.45 1.45 0 1 0 -2.9 0M609.5 687.28a1.45 1.45 0 1 0 2.9 0a1.45 1.45 0 1 0 -2.9 0M611.42 687.08a1.45 1.45 0 1 0 2.9 0a1.45 1.45 0 1 0 -2.9 0M612.77 685.52a1.45 1.45 0 1 0 2.9 0a1.45 1.45 0 1 0 -2.9 0M614.42 684.63a1.45 1.45 0 1 0 2.9 0a1.45 1.45 0 1 0 -2.9 0M614.8 684.82a1.45 1.45 0 1 0 2.9 0a1.45 1.45 0 1 0 -2.9 0M616.48 688.08a1.45 1.45 0 1 0 2.9 0a1.45 1.45 0 1 0 -2.9 0M617.27 690.59a1.45 1.45 0 1 0 2.9 0a1.45 1.45 0 1 0 -2.9 0M618.9 689.83a1.45 1.45 0 1 0 2.9 0a1.45 1.45 0 1 0 -2.9 0M620.53 689.14a1.45 1.45 0 1 0 2.9 0a1.45 1.45 0 1 0 -2.9 0M621.23 685.74a1.45 1.45 0 1 0 2.9 0a1.45 1.45 0 1 0 -2.9 0M623.07 690.51a1.45 1.45 0 1 0 2.9 0a1.45 1.45 0 1 0 -2.9 0M624.94 688.32a1.45 1.45 0 1 0 2.9 0a1.45 1.45 0 1 0 -2.9 0M625.6 689.38a1.45 1.45 0 1 0 2.9 0a1.45 1.45 0 1 0 -2.9 0M626.62 687.81a1.45 1.45 0 1 0 2.9 0a1.45 1.45 0 1 0 -2.9 0M627.59 686.01a1.45 1.45 0 1 0 2.9 0a1.45 1.45 0 1 0 -2.9 0M629.49 691.79a1.45 1.45 0 1 0 2.9 0a1.45 1.45 0 1 0 -2.9 0M630.69 689.32a1.45 1.45 0 1 0 2.9 0a1.45 1.45 0 1 0 -2.9 0M632.02 684.67a1.45 1.45 0 1 0 2.9 0a1.45 1.45 0 1 0 -2.9 0M632.87 687.74a1.45 1.45 0 1 0 2.9 0a1.45 1.45 0 1 0 -2.9 0M634.53 690.69a1.45 1.45 0 1 0 2.9 0a1.45 1.45 0 1 0 -2.9 0M635.63 689.25a1.45 1.45 0 1 0 2.9 0a1.45 1.45 0 1 0 -2.9 0M637.59 688.15a1.45 1.45 0 1 0 2.9 0a1.45 1.45 0 1 0 -2.9 0M639 689.7a1.45 1.45 0 1 0 2.9 0a1.45 1.45 0 1 0 -2.9 0M639.81 688.54a1.45 1.45 0 1 0 2.9 0a1.45 1.45 0 1 0 -2.9 0M640.71 690.13a1.45 1.45 0 1 0 2.9 0a1.45 1.45 0 1 0 -2.9 0M642.54 691.36a1.45 1.45 0 1 0 2.9 0a1.45 1.45 0 1 0 -2.9 0M644.29 688.95a1.45 1.45 0 1 0 2.9 0a1.45 1.45 0 1 0 -2.9 0M645.16 684.98a1.45 1.45 0 1 0 2.9 0a1.45 1.45 0 1 0 -2.9 0M647.01 688.14a1.45 1.45 0 1 0 2.9 0a1.45 1.45 0 1 0 -2.9 0M648.02 690.57a1.45 1.45 0 1 0 2.9 0a1.45 1.45 0 1 0 -2.9 0M648.81 689.32a1.45 1.45 0 1 0 2.9 0a1.45 1.45 0 1 0 -2.9 0M649.84 691.13a1.45 1.45 0 1 0 2.9 0a1.45 1.45 0 1 0 -2.9 0M652.01 686.95a1.45 1.45 0 1 0 2.9 0a1.45 1.45 0 1 0 -2.9 0M652.58 691.29a1.45 1.45 0 1 0 2.9 0a1.45 1.45 0 1 0 -2.9 0M654.2 688.09a1.45 1.45 0 1 0 2.9 0a1.45 1.45 0 1 0 -2.9 0M656.03 689.69a1.45 1.45 0 1 0 2.9 0a1.45 1.45 0 1 0 -2.9 0M656.78 683.62a1.45 1.45 0 1 0 2.9 0a1.45 1.45 0 1 0 -2.9 0M657.59 688.28a1.45 1.45 0 1 0 2.9 0a1.45 1.45 0 1 0 -2.9 0M659.49 683.39a1.45 1.45 0 1 0 2.9 0a1.45 1.45 0 1 0 -2.9 0M660.15 689.52a1.45 1.45 0 1 0 2.9 0a1.45 1.45 0 1 0 -2.9 0M661.55 691.59a1.45 1.45 0 1 0 2.9 0a1.45 1.45 0 1 0 -2.9 0M662.85 687.98a1.45 1.45 0 1 0 2.9 0a1.45 1.45 0 1 0 -2.9 0M664.49 686.08a1.45 1.45 0 1 0 2.9 0a1.45 1.45 0 1 0 -2.9 0M665.81 686.37a1.45 1.45 0 1 0 2.9 0a1.45 1.45 0 1 0 -2.9 0M667.93 690.98a1.45 1.45 0 1 0 2.9 0a1.45 1.45 0 1 0 -2.9 0M668.79 684.51a1.45 1.45 0 1 0 2.9 0a1.45 1.45 0 1 0 -2.9 0M670.39 688.77a1.45 1.45 0 1 0 2.9 0a1.45 1.45 0 1 0 -2.9 0M671.43 687.89a1.45 1.45 0 1 0 2.9 0a1.45 1.45 0 1 0 -2.9 0M672.81 685.02a1.45 1.45 0 1 0 2.9 0a1.45 1.45 0 1 0 -2.9 0M673.52 687.68a1.45 1.45 0 1 0 2.9 0a1.45 1.45 0 1 0 -2.9 0M675.44 686.01a1.45 1.45 0 1 0 2.9 0a1.45 1.45 0 1 0 -2.9 0M676.99 690.54a1.45 1.45 0 1 0 2.9 0a1.45 1.45 0 1 0 -2.9 0M677.14 684.72a1.45 1.45 0 1 0 2.9 0a1.45 1.45 0 1 0 -2.9 0M678.79 689.28a1.45 1.45 0 1 0 2.9 0a1.45 1.45 0 1 0 -2.9 0M680.22 690.6a1.45 1.45 0 1 0 2.9 0a1.45 1.45 0 1 0 -2.9 0M680.96 684.18a1.45 1.45 0 1 0 2.9 0a1.45 1.45 0 1 0 -2.9 0M682.94 683.66a1.45 1.45 0 1 0 2.9 0a1.45 1.45 0 1 0 -2.9 0M684.41 686.65a1.45 1.45 0 1 0 2.9 0a1.45 1.45 0 1 0 -2.9 0M684.83 683.43a1.45 1.45 0 1 0 2.9 0a1.45 1.45 0 1 0 -2.9 0M686.63 688.74a1.45 1.45 0 1 0 2.9 0a1.45 1.45 0 1 0 -2.9 0M688.5 684.92a1.45 1.45 0 1 0 2.9 0a1.45 1.45 0 1 0 -2.9 0M688.62 682.75a1.45 1.45 0 1 0 2.9 0a1.45 1.45 0 1 0 -2.9 0M690.45 685.13a1.45 1.45 0 1 0 2.9 0a1.45 1.45 0 1 0 -2.9 0M692.47 690.93a1.45 1.45 0 1 0 2.9 0a1.45 1.45 0 1 0 -2.9 0M692.83 687.86a1.45 1.45 0 1 0 2.9 0a1.45 1.45 0 1 0 -2.9 0M694.32 688.61a1.45 1.45 0 1 0 2.9 0a1.45 1.45 0 1 0 -2.9 0M695.19 685.45a1.45 1.45 0 1 0 2.9 0a1.45 1.45 0 1 0 -2.9 0M696.98 689.57a1.45 1.45 0 1 0 2.9 0a1.45 1.45 0 1 0 -2.9 0M697.93 687.05a1.45 1.45 0 1 0 2.9 0a1.45 1.45 0 1 0 -2.9 0M699.2 688.99a1.45 1.45 0 1 0 2.9 0a1.45 1.45 0 1 0 -2.9 0M701.23 682.6a1.45 1.45 0 1 0 2.9 0a1.45 1.45 0 1 0 -2.9 0M702.22 682.37a1.45 1.45 0 1 0 2.9 0a1.45 1.45 0 1 0 -2.9 0M703.67 688.18a1.45 1.45 0 1 0 2.9 0a1.45 1.45 0 1 0 -2.9 0M705.07 688.91a1.45 1.45 0 1 0 2.9 0a1.45 1.45 0 1 0 -2.9 0M706.6 687.17a1.45 1.45 0 1 0 2.9 0a1.45 1.45 0 1 0 -2.9 0M707.99 682.05a1.45 1.45 0 1 0 2.9 0a1.45 1.45 0 1 0 -2.9 0M709.26 687.24a1.45 1.45 0 1 0 2.9 0a1.45 1.45 0 1 0 -2.9 0M710.12 682a1.45 1.45 0 1 0 2.9 0a1.45 1.45 0 1 0 -2.9 0M711.08 683.64a1.45 1.45 0 1 0 2.9 0a1.45 1.45 0 1 0 -2.9 0M713.36 685.09a1.45 1.45 0 1 0 2.9 0a1.45 1.45 0 1 0 -2.9 0M714.49 690.3a1.45 1.45 0 1 0 2.9 0a1.45 1.45 0 1 0 -2.9 0M715.86 682.36a1.45 1.45 0 1 0 2.9 0a1.45 1.45 0 1 0 -2.9 0M716.41 690.21a1.45 1.45 0 1 0 2.9 0a1.45 1.45 0 1 0 -2.9 0M718.19 685.99a1.45 1.45 0 1 0 2.9 0a1.45 1.45 0 1 0 -2.9 0M719.79 683.92a1.45 1.45 0 1 0 2.9 0a1.45 1.45 0 1 0 -2.9 0M720.66 689.35a1.45 1.45 0 1 0 2.9 0a1.45 1.45 0 1 0 -2.9 0M721.76 685.96a1.45 1.45 0 1 0 2.9 0a1.45 1.45 0 1 0 -2.9 0M723.49 681.63a1.45 1.45 0 1 0 2.9 0a1.45 1.45 0 1 0 -2.9 0M725.07 687.37a1.45 1.45 0 1 0 2.9 0a1.45 1.45 0 1 0 -2.9 0M725.21 683.62a1.45 1.45 0 1 0 2.9 0a1.45 1.45 0 1 0 -2.9 0M727.25 687.28a1.45 1.45 0 1 0 2.9 0a1.45 1.45 0 1 0 -2.9 0M728.91 686.69a1.45 1.45 0 1 0 2.9 0a1.45 1.45 0 1 0 -2.9 0M729.83 681.9a1.45 1.45 0 1 0 2.9 0a1.45 1.45 0 1 0 -2.9 0M730.48 689.74a1.45 1.45 0 1 0 2.9 0a1.45 1.45 0 1 0 -2.9 0M731.81 686.44a1.45 1.45 0 1 0 2.9 0a1.45 1.45 0 1 0 -2.9 0M734.11 689.83a1.45 1.45 0 1 0 2.9 0a1.45 1.45 0 1 0 -2.9 0M735.45 684.38a1.45 1.45 0 1 0 2.9 0a1.45 1.45 0 1 0 -2.9 0M735.99 684.01a1.45 1.45 0 1 0 2.9 0a1.45 1.45 0 1 0 -2.9 0M737.16 681.61a1.45 1.45 0 1 0 2.9 0a1.45 1.45 0 1 0 -2.9 0M738.22 682.6a1.45 1.45 0 1 0 2.9 0a1.45 1.45 0 1 0 -2.9 0M739.65 684.37a1.45 1.45 0 1 0 2.9 0a1.45 1.45 0 1 0 -2.9 0M562.95 702.53a1.45 1.45 0 1 0 2.9 0a1.45 1.45 0 1 0 -2.9 0M565.15 698.27a1.45 1.45 0 1 0 2.9 0a1.45 1.45 0 1 0 -2.9 0M573.56 698.09a1.45 1.45 0 1 0 2.9 0a1.45 1.45 0 1 0 -2.9 0M585.52 698.27a1.45 1.45 0 1 0 2.9 0a1.45 1.45 0 1 0 -2.9 0M593.78 696.8a1.45 1.45 0 1 0 2.9 0a1.45 1.45 0 1 0 -2.9 0M599.71 695.57a1.45 1.45 0 1 0 2.9 0a1.45 1.45 0 1 0 -2.9 0M612.97 695.53a1.45 1.45 0 1 0 2.9 0a1.45 1.45 0 1 0 -2.9 0M621.36 693.94a1.45 1.45 0 1 0 2.9 0a1.45 1.45 0 1 0 -2.9 0M631.98 694.55a1.45 1.45 0 1 0 2.9 0a1.45 1.45 0 1 0 -2.9 0M642.21 694.55a1.45 1.45 0 1 0 2.9 0a1.45 1.45 0 1 0 -2.9 0M648.34 695.01a1.45 1.45 0 1 0 2.9 0a1.45 1.45 0 1 0 -2.9 0M661.66 694.25a1.45 1.45 0 1 0 2.9 0a1.45 1.45 0 1 0 -2.9 0M666.78 694.79a1.45 1.45 0 1 0 2.9 0a1.45 1.45 0 1 0 -2.9 0M677.16 692.12a1.45 1.45 0 1 0 2.9 0a1.45 1.45 0 1 0 -2.9 0M683.66 693.89a1.45 1.45 0 1 0 2.9 0a1.45 1.45 0 1 0 -2.9 0M696.81 692.85a1.45 1.45 0 1 0 2.9 0a1.45 1.45 0 1 0 -2.9 0M701.86 694.66a1.45 1.45 0 1 0 2.9 0a1.45 1.45 0 1 0 -2.9 0M711.44 692.51a1.45 1.45 0 1 0 2.9 0a1.45 1.45 0 1 0 -2.9 0M722.44 693.57a1.45 1.45 0 1 0 2.9 0a1.45 1.45 0 1 0 -2.9 0M732.18 694.67a1.45 1.45 0 1 0 2.9 0a1.45 1.45 0 1 0 -2.9 0M739.47 690.72a1.45 1.45 0 1 0 2.9 0a1.45 1.45 0 1 0 -2.9 0M518.15 739.2a1.45 1.45 0 1 0 2.9 0a1.45 1.45 0 1 0 -2.9 0M513.55 741a1.45 1.45 0 1 0 2.9 0a1.45 1.45 0 1 0 -2.9 0M519.55 733a1.45 1.45 0 1 0 2.9 0a1.45 1.45 0 1 0 -2.9 0M524.55 726a1.45 1.45 0 1 0 2.9 0a1.45 1.45 0 1 0 -2.9 0M528.55 722a1.45 1.45 0 1 0 2.9 0a1.45 1.45 0 1 0 -2.9 0M637.05 694.7a1.45 1.45 0 1 0 2.9 0a1.45 1.45 0 1 0 -2.9 0M573.55 700a1.45 1.45 0 1 0 2.9 0a1.45 1.45 0 1 0 -2.9 0M578.55 701a1.45 1.45 0 1 0 2.9 0a1.45 1.45 0 1 0 -2.9 0M608.55 699a1.45 1.45 0 1 0 2.9 0a1.45 1.45 0 1 0 -2.9 0M688.55 697a1.45 1.45 0 1 0 2.9 0a1.45 1.45 0 1 0 -2.9 0" fill="none" stroke="#111" stroke-width="1.2"/>
<rect x="546.5" y="81" width="188.2" height="150.3" fill="#fff"/>
<path d="M706.29 96.79a1.45 1.45 0 1 0 2.9 0a1.45 1.45 0 1 0 -2.9 0M687.19 98.83a1.45 1.45 0 1 0 2.9 0a1.45 1.45 0 1 0 -2.9 0M680.06 100.87a1.45 1.45 0 1 0 2.9 0a1.45 1.45 0 1 0 -2.9 0M673.94 100.1a1.45 1.45 0 1 0 2.9 0a1.45 1.45 0 1 0 -2.9 0M694.32 103.41a1.45 1.45 0 1 0 2.9 0a1.45 1.45 0 1 0 -2.9 0M659.17 105.71a1.45 1.45 0 1 0 2.9 0a1.45 1.45 0 1 0 -2.9 0M673.18 107.74a1.45 1.45 0 1 0 2.9 0a1.45 1.45 0 1 0 -2.9 0M690.25 109.53a1.45 1.45 0 1 0 2.9 0a1.45 1.45 0 1 0 -2.9 0M664.77 111.57a1.45 1.45 0 1 0 2.9 0a1.45 1.45 0 1 0 -2.9 0M681.59 112.33a1.45 1.45 0 1 0 2.9 0a1.45 1.45 0 1 0 -2.9 0M643.38 116.66a1.45 1.45 0 1 0 2.9 0a1.45 1.45 0 1 0 -2.9 0M647.71 121.24a1.45 1.45 0 1 0 2.9 0a1.45 1.45 0 1 0 -2.9 0M668.09 118.44a1.45 1.45 0 1 0 2.9 0a1.45 1.45 0 1 0 -2.9 0M685.41 119.21a1.45 1.45 0 1 0 2.9 0a1.45 1.45 0 1 0 -2.9 0M662.23 124.81a1.45 1.45 0 1 0 2.9 0a1.45 1.45 0 1 0 -2.9 0M676.49 122.26a1.45 1.45 0 1 0 2.9 0a1.45 1.45 0 1 0 -2.9 0M651.53 126.34a1.45 1.45 0 1 0 2.9 0a1.45 1.45 0 1 0 -2.9 0M627.33 129.4a1.45 1.45 0 1 0 2.9 0a1.45 1.45 0 1 0 -2.9 0M639.56 128.63a1.45 1.45 0 1 0 2.9 0a1.45 1.45 0 1 0 -2.9 0M657.9 129.9a1.45 1.45 0 1 0 2.9 0a1.45 1.45 0 1 0 -2.9 0M671.91 129.4a1.45 1.45 0 1 0 2.9 0a1.45 1.45 0 1 0 -2.9 0M668.09 133.22a1.45 1.45 0 1 0 2.9 0a1.45 1.45 0 1 0 -2.9 0M645.93 137.55a1.45 1.45 0 1 0 2.9 0a1.45 1.45 0 1 0 -2.9 0M627.33 140.86a1.45 1.45 0 1 0 2.9 0a1.45 1.45 0 1 0 -2.9 0M633.19 140.86a1.45 1.45 0 1 0 2.9 0a1.45 1.45 0 1 0 -2.9 0M657.9 139.07a1.45 1.45 0 1 0 2.9 0a1.45 1.45 0 1 0 -2.9 0M664.77 139.58a1.45 1.45 0 1 0 2.9 0a1.45 1.45 0 1 0 -2.9 0M650.26 142.64a1.45 1.45 0 1 0 2.9 0a1.45 1.45 0 1 0 -2.9 0M654.08 142.64a1.45 1.45 0 1 0 2.9 0a1.45 1.45 0 1 0 -2.9 0M647.71 146.46a1.45 1.45 0 1 0 2.9 0a1.45 1.45 0 1 0 -2.9 0M617.65 146.72a1.45 1.45 0 1 0 2.9 0a1.45 1.45 0 1 0 -2.9 0M638.03 148.5a1.45 1.45 0 1 0 2.9 0a1.45 1.45 0 1 0 -2.9 0M641.34 148.5a1.45 1.45 0 1 0 2.9 0a1.45 1.45 0 1 0 -2.9 0M622.75 152.83a1.45 1.45 0 1 0 2.9 0a1.45 1.45 0 1 0 -2.9 0M627.84 156.14a1.45 1.45 0 1 0 2.9 0a1.45 1.45 0 1 0 -2.9 0M634.21 155.38a1.45 1.45 0 1 0 2.9 0a1.45 1.45 0 1 0 -2.9 0M643.89 156.65a1.45 1.45 0 1 0 2.9 0a1.45 1.45 0 1 0 -2.9 0M631.15 159.96a1.45 1.45 0 1 0 2.9 0a1.45 1.45 0 1 0 -2.9 0M610.27 159.45a1.45 1.45 0 1 0 2.9 0a1.45 1.45 0 1 0 -2.9 0M616.63 160.47a1.45 1.45 0 1 0 2.9 0a1.45 1.45 0 1 0 -2.9 0M613.32 163.78a1.45 1.45 0 1 0 2.9 0a1.45 1.45 0 1 0 -2.9 0M623.51 163.78a1.45 1.45 0 1 0 2.9 0a1.45 1.45 0 1 0 -2.9 0M625.55 163.78a1.45 1.45 0 1 0 2.9 0a1.45 1.45 0 1 0 -2.9 0M600.59 163.02a1.45 1.45 0 1 0 2.9 0a1.45 1.45 0 1 0 -2.9 0M605.68 167.6a1.45 1.45 0 1 0 2.9 0a1.45 1.45 0 1 0 -2.9 0M609.5 168.88a1.45 1.45 0 1 0 2.9 0a1.45 1.45 0 1 0 -2.9 0M604.41 168.88a1.45 1.45 0 1 0 2.9 0a1.45 1.45 0 1 0 -2.9 0M586.58 168.37a1.45 1.45 0 1 0 2.9 0a1.45 1.45 0 1 0 -2.9 0M592.95 171.42a1.45 1.45 0 1 0 2.9 0a1.45 1.45 0 1 0 -2.9 0M596.77 171.42a1.45 1.45 0 1 0 2.9 0a1.45 1.45 0 1 0 -2.9 0M590.4 171.93a1.45 1.45 0 1 0 2.9 0a1.45 1.45 0 1 0 -2.9 0M603.13 176.01a1.45 1.45 0 1 0 2.9 0a1.45 1.45 0 1 0 -2.9 0M580.97 176.52a1.45 1.45 0 1 0 2.9 0a1.45 1.45 0 1 0 -2.9 0M579.7 177.28a1.45 1.45 0 1 0 2.9 0a1.45 1.45 0 1 0 -2.9 0M575.88 181.87a1.45 1.45 0 1 0 2.9 0a1.45 1.45 0 1 0 -2.9 0M584.79 179.57a1.45 1.45 0 1 0 2.9 0a1.45 1.45 0 1 0 -2.9 0M587.34 179.83a1.45 1.45 0 1 0 2.9 0a1.45 1.45 0 1 0 -2.9 0M582.25 184.16a1.45 1.45 0 1 0 2.9 0a1.45 1.45 0 1 0 -2.9 0M562.38 190.53a1.45 1.45 0 1 0 2.9 0a1.45 1.45 0 1 0 -2.9 0M566.2 190.53a1.45 1.45 0 1 0 2.9 0a1.45 1.45 0 1 0 -2.9 0M570.02 190.53a1.45 1.45 0 1 0 2.9 0a1.45 1.45 0 1 0 -2.9 0M572.57 190.53a1.45 1.45 0 1 0 2.9 0a1.45 1.45 0 1 0 -2.9 0M561.11 195.11a1.45 1.45 0 1 0 2.9 0a1.45 1.45 0 1 0 -2.9 0M564.93 194.86a1.45 1.45 0 1 0 2.9 0a1.45 1.45 0 1 0 -2.9 0M568.24 195.11a1.45 1.45 0 1 0 2.9 0a1.45 1.45 0 1 0 -2.9 0M562.89 199.44a1.45 1.45 0 1 0 2.9 0a1.45 1.45 0 1 0 -2.9 0M560.34 204.03a1.45 1.45 0 1 0 2.9 0a1.45 1.45 0 1 0 -2.9 0M561.11 208.36a1.45 1.45 0 1 0 2.9 0a1.45 1.45 0 1 0 -2.9 0M686.68 100.1a1.45 1.45 0 1 0 2.9 0a1.45 1.45 0 1 0 -2.9 0M687.7 98.32a1.45 1.45 0 1 0 2.9 0a1.45 1.45 0 1 0 -2.9 0" fill="none" stroke="#111" stroke-width="1.2"/>
<path d="M546.5 231.3L700.2 85.88" fill="none" stroke="#000" stroke-width="1" stroke-linejoin="round" stroke-linecap="butt"/>
<path d="M546.5 119.7L665.69 119.7L665.69 231.3" fill="none" stroke="#222" stroke-width="1.4" stroke-dasharray="2.0 3.4" stroke-linejoin="round" stroke-linecap="butt"/>
<rect x="545.2" y="400.4" width="187.4" height="149.6" fill="#fff"/>
<path d="M728.22 419.87a1.45 1.45 0 1 0 2.9 0a1.45 1.45 0 1 0 -2.9 0M703.51 423.69a1.45 1.45 0 1 0 2.9 0a1.45 1.45 0 1 0 -2.9 0M700.96 425.47a1.45 1.45 0 1 0 2.9 0a1.45 1.45 0 1 0 -2.9 0M698.92 426.74a1.45 1.45 0 1 0 2.9 0a1.45 1.45 0 1 0 -2.9 0M695.61 432.6a1.45 1.45 0 1 0 2.9 0a1.45 1.45 0 1 0 -2.9 0M696.38 433.88a1.45 1.45 0 1 0 2.9 0a1.45 1.45 0 1 0 -2.9 0M678.55 419.87a1.45 1.45 0 1 0 2.9 0a1.45 1.45 0 1 0 -2.9 0M665.3 417.83a1.45 1.45 0 1 0 2.9 0a1.45 1.45 0 1 0 -2.9 0M675.49 429.29a1.45 1.45 0 1 0 2.9 0a1.45 1.45 0 1 0 -2.9 0M671.42 433.62a1.45 1.45 0 1 0 2.9 0a1.45 1.45 0 1 0 -2.9 0M669.63 435.66a1.45 1.45 0 1 0 2.9 0a1.45 1.45 0 1 0 -2.9 0M667.09 438.72a1.45 1.45 0 1 0 2.9 0a1.45 1.45 0 1 0 -2.9 0M665.3 440.24a1.45 1.45 0 1 0 2.9 0a1.45 1.45 0 1 0 -2.9 0M668.36 441.26a1.45 1.45 0 1 0 2.9 0a1.45 1.45 0 1 0 -2.9 0M663.26 438.21a1.45 1.45 0 1 0 2.9 0a1.45 1.45 0 1 0 -2.9 0M661.99 447.63a1.45 1.45 0 1 0 2.9 0a1.45 1.45 0 1 0 -2.9 0M654.35 422.41a1.45 1.45 0 1 0 2.9 0a1.45 1.45 0 1 0 -2.9 0M655.62 425.47a1.45 1.45 0 1 0 2.9 0a1.45 1.45 0 1 0 -2.9 0M651.29 428.78a1.45 1.45 0 1 0 2.9 0a1.45 1.45 0 1 0 -2.9 0M647.98 428.53a1.45 1.45 0 1 0 2.9 0a1.45 1.45 0 1 0 -2.9 0M645.43 430.57a1.45 1.45 0 1 0 2.9 0a1.45 1.45 0 1 0 -2.9 0M646.71 431.84a1.45 1.45 0 1 0 2.9 0a1.45 1.45 0 1 0 -2.9 0M644.16 429.8a1.45 1.45 0 1 0 2.9 0a1.45 1.45 0 1 0 -2.9 0M641.61 431.84a1.45 1.45 0 1 0 2.9 0a1.45 1.45 0 1 0 -2.9 0M637.28 432.35a1.45 1.45 0 1 0 2.9 0a1.45 1.45 0 1 0 -2.9 0M633.21 433.11a1.45 1.45 0 1 0 2.9 0a1.45 1.45 0 1 0 -2.9 0M627.61 436.93a1.45 1.45 0 1 0 2.9 0a1.45 1.45 0 1 0 -2.9 0M625.06 445.08a1.45 1.45 0 1 0 2.9 0a1.45 1.45 0 1 0 -2.9 0M622.51 448.9a1.45 1.45 0 1 0 2.9 0a1.45 1.45 0 1 0 -2.9 0M641.61 441.26a1.45 1.45 0 1 0 2.9 0a1.45 1.45 0 1 0 -2.9 0M639.83 444.07a1.45 1.45 0 1 0 2.9 0a1.45 1.45 0 1 0 -2.9 0M637.79 448.4a1.45 1.45 0 1 0 2.9 0a1.45 1.45 0 1 0 -2.9 0M635.76 450.94a1.45 1.45 0 1 0 2.9 0a1.45 1.45 0 1 0 -2.9 0M633.97 453.49a1.45 1.45 0 1 0 2.9 0a1.45 1.45 0 1 0 -2.9 0M632.7 456.04a1.45 1.45 0 1 0 2.9 0a1.45 1.45 0 1 0 -2.9 0M630.15 458.58a1.45 1.45 0 1 0 2.9 0a1.45 1.45 0 1 0 -2.9 0M628.88 464.95a1.45 1.45 0 1 0 2.9 0a1.45 1.45 0 1 0 -2.9 0M631.43 459.86a1.45 1.45 0 1 0 2.9 0a1.45 1.45 0 1 0 -2.9 0M620.47 457.31a1.45 1.45 0 1 0 2.9 0a1.45 1.45 0 1 0 -2.9 0M617.42 461.13a1.45 1.45 0 1 0 2.9 0a1.45 1.45 0 1 0 -2.9 0M614.87 463.68a1.45 1.45 0 1 0 2.9 0a1.45 1.45 0 1 0 -2.9 0M611.05 457.31a1.45 1.45 0 1 0 2.9 0a1.45 1.45 0 1 0 -2.9 0M612.32 461.13a1.45 1.45 0 1 0 2.9 0a1.45 1.45 0 1 0 -2.9 0M612.83 465.72a1.45 1.45 0 1 0 2.9 0a1.45 1.45 0 1 0 -2.9 0M605.95 465.72a1.45 1.45 0 1 0 2.9 0a1.45 1.45 0 1 0 -2.9 0M604.17 468.77a1.45 1.45 0 1 0 2.9 0a1.45 1.45 0 1 0 -2.9 0M604.68 471.32a1.45 1.45 0 1 0 2.9 0a1.45 1.45 0 1 0 -2.9 0M602.9 477.69a1.45 1.45 0 1 0 2.9 0a1.45 1.45 0 1 0 -2.9 0M601.62 481a1.45 1.45 0 1 0 2.9 0a1.45 1.45 0 1 0 -2.9 0M600.1 484.06a1.45 1.45 0 1 0 2.9 0a1.45 1.45 0 1 0 -2.9 0M598.31 487.88a1.45 1.45 0 1 0 2.9 0a1.45 1.45 0 1 0 -2.9 0M595.77 489.15a1.45 1.45 0 1 0 2.9 0a1.45 1.45 0 1 0 -2.9 0M597.04 496.79a1.45 1.45 0 1 0 2.9 0a1.45 1.45 0 1 0 -2.9 0M592.45 494.75a1.45 1.45 0 1 0 2.9 0a1.45 1.45 0 1 0 -2.9 0M610.28 487.11a1.45 1.45 0 1 0 2.9 0a1.45 1.45 0 1 0 -2.9 0M623.78 481.51a1.45 1.45 0 1 0 2.9 0a1.45 1.45 0 1 0 -2.9 0M588.89 499.85a1.45 1.45 0 1 0 2.9 0a1.45 1.45 0 1 0 -2.9 0M586.85 497.3a1.45 1.45 0 1 0 2.9 0a1.45 1.45 0 1 0 -2.9 0M584.3 497.55a1.45 1.45 0 1 0 2.9 0a1.45 1.45 0 1 0 -2.9 0M581.76 504.43a1.45 1.45 0 1 0 2.9 0a1.45 1.45 0 1 0 -2.9 0M577.94 495.52a1.45 1.45 0 1 0 2.9 0a1.45 1.45 0 1 0 -2.9 0M574.62 500.61a1.45 1.45 0 1 0 2.9 0a1.45 1.45 0 1 0 -2.9 0M572.08 505.2a1.45 1.45 0 1 0 2.9 0a1.45 1.45 0 1 0 -2.9 0M570.29 508.25a1.45 1.45 0 1 0 2.9 0a1.45 1.45 0 1 0 -2.9 0M568.51 511.56a1.45 1.45 0 1 0 2.9 0a1.45 1.45 0 1 0 -2.9 0M566.47 508.25a1.45 1.45 0 1 0 2.9 0a1.45 1.45 0 1 0 -2.9 0M563.93 512.07a1.45 1.45 0 1 0 2.9 0a1.45 1.45 0 1 0 -2.9 0M563.93 516.66a1.45 1.45 0 1 0 2.9 0a1.45 1.45 0 1 0 -2.9 0M562.65 522.26a1.45 1.45 0 1 0 2.9 0a1.45 1.45 0 1 0 -2.9 0M563.42 525.57a1.45 1.45 0 1 0 2.9 0a1.45 1.45 0 1 0 -2.9 0M565.96 515.89a1.45 1.45 0 1 0 2.9 0a1.45 1.45 0 1 0 -2.9 0M571.57 512.07a1.45 1.45 0 1 0 2.9 0a1.45 1.45 0 1 0 -2.9 0M573.61 509.53a1.45 1.45 0 1 0 2.9 0a1.45 1.45 0 1 0 -2.9 0" fill="none" stroke="#111" stroke-width="1.2"/>
<path d="M545.2 550L693.25 402.27" fill="none" stroke="#000" stroke-width="1" stroke-linejoin="round" stroke-linecap="butt"/>
<path d="M545.2 436.68L657.64 436.68L657.64 550" fill="none" stroke="#222" stroke-width="1.4" stroke-dasharray="2.0 3.4" stroke-linejoin="round" stroke-linecap="butt"/>
<rect x="545.3" y="734.5" width="188.1" height="150.3" fill="#fff"/>
<path d="M697.14 755.14a1.45 1.45 0 1 0 2.9 0a1.45 1.45 0 1 0 -2.9 0M695.61 757.43a1.45 1.45 0 1 0 2.9 0a1.45 1.45 0 1 0 -2.9 0M693.83 759.47a1.45 1.45 0 1 0 2.9 0a1.45 1.45 0 1 0 -2.9 0M692.56 760.74a1.45 1.45 0 1 0 2.9 0a1.45 1.45 0 1 0 -2.9 0M676.51 760.74a1.45 1.45 0 1 0 2.9 0a1.45 1.45 0 1 0 -2.9 0M670.4 767.11a1.45 1.45 0 1 0 2.9 0a1.45 1.45 0 1 0 -2.9 0M683.64 764.57a1.45 1.45 0 1 0 2.9 0a1.45 1.45 0 1 0 -2.9 0M684.92 767.11a1.45 1.45 0 1 0 2.9 0a1.45 1.45 0 1 0 -2.9 0M688.23 767.11a1.45 1.45 0 1 0 2.9 0a1.45 1.45 0 1 0 -2.9 0M680.59 772.72a1.45 1.45 0 1 0 2.9 0a1.45 1.45 0 1 0 -2.9 0M676 772.72a1.45 1.45 0 1 0 2.9 0a1.45 1.45 0 1 0 -2.9 0M673.45 774.75a1.45 1.45 0 1 0 2.9 0a1.45 1.45 0 1 0 -2.9 0M670.91 777.3a1.45 1.45 0 1 0 2.9 0a1.45 1.45 0 1 0 -2.9 0M668.87 779.34a1.45 1.45 0 1 0 2.9 0a1.45 1.45 0 1 0 -2.9 0M667.09 781.12a1.45 1.45 0 1 0 2.9 0a1.45 1.45 0 1 0 -2.9 0M665.3 777.3a1.45 1.45 0 1 0 2.9 0a1.45 1.45 0 1 0 -2.9 0M663.26 783.67a1.45 1.45 0 1 0 2.9 0a1.45 1.45 0 1 0 -2.9 0M660.72 784.43a1.45 1.45 0 1 0 2.9 0a1.45 1.45 0 1 0 -2.9 0M661.99 782.4a1.45 1.45 0 1 0 2.9 0a1.45 1.45 0 1 0 -2.9 0M658.17 782.4a1.45 1.45 0 1 0 2.9 0a1.45 1.45 0 1 0 -2.9 0M655.62 784.94a1.45 1.45 0 1 0 2.9 0a1.45 1.45 0 1 0 -2.9 0M649.26 779.85a1.45 1.45 0 1 0 2.9 0a1.45 1.45 0 1 0 -2.9 0M646.71 789.53a1.45 1.45 0 1 0 2.9 0a1.45 1.45 0 1 0 -2.9 0M653.08 788.76a1.45 1.45 0 1 0 2.9 0a1.45 1.45 0 1 0 -2.9 0M653.08 792.07a1.45 1.45 0 1 0 2.9 0a1.45 1.45 0 1 0 -2.9 0M644.16 795.13a1.45 1.45 0 1 0 2.9 0a1.45 1.45 0 1 0 -2.9 0M640.34 788.76a1.45 1.45 0 1 0 2.9 0a1.45 1.45 0 1 0 -2.9 0M638.3 788.76a1.45 1.45 0 1 0 2.9 0a1.45 1.45 0 1 0 -2.9 0M637.79 795.13a1.45 1.45 0 1 0 2.9 0a1.45 1.45 0 1 0 -2.9 0M632.19 792.07a1.45 1.45 0 1 0 2.9 0a1.45 1.45 0 1 0 -2.9 0M635.25 797.68a1.45 1.45 0 1 0 2.9 0a1.45 1.45 0 1 0 -2.9 0M631.43 800.73a1.45 1.45 0 1 0 2.9 0a1.45 1.45 0 1 0 -2.9 0M630.15 802.77a1.45 1.45 0 1 0 2.9 0a1.45 1.45 0 1 0 -2.9 0M628.88 805.32a1.45 1.45 0 1 0 2.9 0a1.45 1.45 0 1 0 -2.9 0M632.7 805.32a1.45 1.45 0 1 0 2.9 0a1.45 1.45 0 1 0 -2.9 0M622.51 805.32a1.45 1.45 0 1 0 2.9 0a1.45 1.45 0 1 0 -2.9 0M626.33 811.69a1.45 1.45 0 1 0 2.9 0a1.45 1.45 0 1 0 -2.9 0M619.96 810.41a1.45 1.45 0 1 0 2.9 0a1.45 1.45 0 1 0 -2.9 0M617.93 811.69a1.45 1.45 0 1 0 2.9 0a1.45 1.45 0 1 0 -2.9 0M616.14 807.87a1.45 1.45 0 1 0 2.9 0a1.45 1.45 0 1 0 -2.9 0M613.6 808.38a1.45 1.45 0 1 0 2.9 0a1.45 1.45 0 1 0 -2.9 0M610.28 811.69a1.45 1.45 0 1 0 2.9 0a1.45 1.45 0 1 0 -2.9 0M604.68 815a1.45 1.45 0 1 0 2.9 0a1.45 1.45 0 1 0 -2.9 0M603.41 818.82a1.45 1.45 0 1 0 2.9 0a1.45 1.45 0 1 0 -2.9 0M599.59 818.06a1.45 1.45 0 1 0 2.9 0a1.45 1.45 0 1 0 -2.9 0M597.55 820.09a1.45 1.45 0 1 0 2.9 0a1.45 1.45 0 1 0 -2.9 0M593.98 821.37a1.45 1.45 0 1 0 2.9 0a1.45 1.45 0 1 0 -2.9 0M593.22 823.66a1.45 1.45 0 1 0 2.9 0a1.45 1.45 0 1 0 -2.9 0M595.77 824.42a1.45 1.45 0 1 0 2.9 0a1.45 1.45 0 1 0 -2.9 0M599.59 823.15a1.45 1.45 0 1 0 2.9 0a1.45 1.45 0 1 0 -2.9 0M602.13 821.88a1.45 1.45 0 1 0 2.9 0a1.45 1.45 0 1 0 -2.9 0M608.5 821.88a1.45 1.45 0 1 0 2.9 0a1.45 1.45 0 1 0 -2.9 0M595.77 828.75a1.45 1.45 0 1 0 2.9 0a1.45 1.45 0 1 0 -2.9 0M591.95 830.79a1.45 1.45 0 1 0 2.9 0a1.45 1.45 0 1 0 -2.9 0M588.12 835.88a1.45 1.45 0 1 0 2.9 0a1.45 1.45 0 1 0 -2.9 0M581.76 838.43a1.45 1.45 0 1 0 2.9 0a1.45 1.45 0 1 0 -2.9 0M579.21 837.16a1.45 1.45 0 1 0 2.9 0a1.45 1.45 0 1 0 -2.9 0M576.15 842.25a1.45 1.45 0 1 0 2.9 0a1.45 1.45 0 1 0 -2.9 0M572.84 846.07a1.45 1.45 0 1 0 2.9 0a1.45 1.45 0 1 0 -2.9 0M570.29 846.07a1.45 1.45 0 1 0 2.9 0a1.45 1.45 0 1 0 -2.9 0M567.75 849.89a1.45 1.45 0 1 0 2.9 0a1.45 1.45 0 1 0 -2.9 0M566.47 851.68a1.45 1.45 0 1 0 2.9 0a1.45 1.45 0 1 0 -2.9 0M563.93 853.21a1.45 1.45 0 1 0 2.9 0a1.45 1.45 0 1 0 -2.9 0M561.38 856.26a1.45 1.45 0 1 0 2.9 0a1.45 1.45 0 1 0 -2.9 0M559.34 858.81a1.45 1.45 0 1 0 2.9 0a1.45 1.45 0 1 0 -2.9 0M562.65 860.08a1.45 1.45 0 1 0 2.9 0a1.45 1.45 0 1 0 -2.9 0M559.34 863.9a1.45 1.45 0 1 0 2.9 0a1.45 1.45 0 1 0 -2.9 0M569.02 849.89a1.45 1.45 0 1 0 2.9 0a1.45 1.45 0 1 0 -2.9 0M565.96 848.62a1.45 1.45 0 1 0 2.9 0a1.45 1.45 0 1 0 -2.9 0" fill="none" stroke="#111" stroke-width="1.2"/>
<path d="M545.3 884.8L698.91 742.52" fill="none" stroke="#000" stroke-width="1" stroke-linejoin="round" stroke-linecap="butt"/>
<path d="M545.3 775.08L665.37 775.08L665.37 884.8" fill="none" stroke="#222" stroke-width="1.4" stroke-dasharray="2.0 3.4" stroke-linejoin="round" stroke-linecap="butt"/>
<path d="M72.05 267.8v-3.5M72.05 6.2v3.5M104.5 267.8v-5.6M104.5 6.2v5.6M136.95 267.8v-3.5M136.95 6.2v3.5M169.4 267.8v-5.6M169.4 6.2v5.6M201.85 267.8v-3.5M201.85 6.2v3.5M234.3 267.8v-5.6M234.3 6.2v5.6M266.75 267.8v-3.5M266.75 6.2v3.5M299.2 267.8v-5.6M299.2 6.2v5.6M331.65 267.8v-3.5M331.65 6.2v3.5M39.6 235.1h3.5M364.1 235.1h-3.5M39.6 202.4h5.6M364.1 202.4h-5.6M39.6 169.7h3.5M364.1 169.7h-3.5M39.6 137h5.6M364.1 137h-5.6M39.6 104.3h3.5M364.1 104.3h-3.5M39.6 71.6h5.6M364.1 71.6h-5.6M39.6 38.9h3.5M364.1 38.9h-3.5" stroke="#2e2e2e" stroke-width="1.5" fill="none"/>
<rect x="39.6" y="6.2" width="324.5" height="261.6" fill="none" stroke="#2e2e2e" stroke-width="1.5"/>
<text x="27.32" y="270.8" font-size="11.3" fill="#111" textLength="6.11" lengthAdjust="spacingAndGlyphs">0</text>
<text x="21.05" y="205.4" font-size="11.3" fill="#111" textLength="12.38" lengthAdjust="spacingAndGlyphs">10</text>
<text x="21.35" y="140" font-size="11.3" fill="#111" textLength="12.07" lengthAdjust="spacingAndGlyphs">20</text>
<text x="21.49" y="74.6" font-size="11.3" fill="#111" textLength="11.93" lengthAdjust="spacingAndGlyphs">30</text>
<text x="21.66" y="9.2" font-size="11.3" fill="#111" textLength="11.76" lengthAdjust="spacingAndGlyphs">40</text>
<text x="36.55" y="282.1" font-size="11.3" fill="#111" textLength="6.11" lengthAdjust="spacingAndGlyphs">0</text>
<text x="100.95" y="282.1" font-size="11.3" fill="#111" textLength="6.77" lengthAdjust="spacingAndGlyphs">1</text>
<text x="166.2" y="282.1" font-size="11.3" fill="#111" textLength="6.41" lengthAdjust="spacingAndGlyphs">2</text>
<text x="231.25" y="282.1" font-size="11.3" fill="#111" textLength="6.16" lengthAdjust="spacingAndGlyphs">3</text>
<text x="296.34" y="282.1" font-size="11.3" fill="#111" textLength="5.79" lengthAdjust="spacingAndGlyphs">4</text>
<text x="361.03" y="282.1" font-size="11.3" fill="#111" textLength="6.16" lengthAdjust="spacingAndGlyphs">5</text>
<path d="M72.05 594.3v-3.5M72.05 332.9v3.5M104.5 594.3v-5.6M104.5 332.9v5.6M136.95 594.3v-3.5M136.95 332.9v3.5M169.4 594.3v-5.6M169.4 332.9v5.6M201.85 594.3v-3.5M201.85 332.9v3.5M234.3 594.3v-5.6M234.3 332.9v5.6M266.75 594.3v-3.5M266.75 332.9v3.5M299.2 594.3v-5.6M299.2 332.9v5.6M331.65 594.3v-3.5M331.65 332.9v3.5M39.6 561.62h3.5M364.1 561.62h-3.5M39.6 528.95h5.6M364.1 528.95h-5.6M39.6 496.27h3.5M364.1 496.27h-3.5M39.6 463.6h5.6M364.1 463.6h-5.6M39.6 430.92h3.5M364.1 430.92h-3.5M39.6 398.25h5.6M364.1 398.25h-5.6M39.6 365.57h3.5M364.1 365.57h-3.5" stroke="#2e2e2e" stroke-width="1.5" fill="none"/>
<rect x="39.6" y="332.9" width="324.5" height="261.4" fill="none" stroke="#2e2e2e" stroke-width="1.5"/>
<text x="27.32" y="597.3" font-size="11.3" fill="#111" textLength="6.11" lengthAdjust="spacingAndGlyphs">0</text>
<text x="21.05" y="531.95" font-size="11.3" fill="#111" textLength="12.38" lengthAdjust="spacingAndGlyphs">10</text>
<text x="21.35" y="466.6" font-size="11.3" fill="#111" textLength="12.07" lengthAdjust="spacingAndGlyphs">20</text>
<text x="21.49" y="401.25" font-size="11.3" fill="#111" textLength="11.93" lengthAdjust="spacingAndGlyphs">30</text>
<text x="21.66" y="335.9" font-size="11.3" fill="#111" textLength="11.76" lengthAdjust="spacingAndGlyphs">40</text>
<text x="36.55" y="608.6" font-size="11.3" fill="#111" textLength="6.11" lengthAdjust="spacingAndGlyphs">0</text>
<text x="100.95" y="608.6" font-size="11.3" fill="#111" textLength="6.77" lengthAdjust="spacingAndGlyphs">1</text>
<text x="166.2" y="608.6" font-size="11.3" fill="#111" textLength="6.41" lengthAdjust="spacingAndGlyphs">2</text>
<text x="231.25" y="608.6" font-size="11.3" fill="#111" textLength="6.16" lengthAdjust="spacingAndGlyphs">3</text>
<text x="296.34" y="608.6" font-size="11.3" fill="#111" textLength="5.79" lengthAdjust="spacingAndGlyphs">4</text>
<text x="361.03" y="608.6" font-size="11.3" fill="#111" textLength="6.16" lengthAdjust="spacingAndGlyphs">5</text>
<path d="M72.05 923v-3.5M72.05 660.8v3.5M104.5 923v-5.6M104.5 660.8v5.6M136.95 923v-3.5M136.95 660.8v3.5M169.4 923v-5.6M169.4 660.8v5.6M201.85 923v-3.5M201.85 660.8v3.5M234.3 923v-5.6M234.3 660.8v5.6M266.75 923v-3.5M266.75 660.8v3.5M299.2 923v-5.6M299.2 660.8v5.6M331.65 923v-3.5M331.65 660.8v3.5M39.6 879.3h3.5M364.1 879.3h-3.5M39.6 835.6h5.6M364.1 835.6h-5.6M39.6 791.9h3.5M364.1 791.9h-3.5M39.6 748.2h5.6M364.1 748.2h-5.6M39.6 704.5h3.5M364.1 704.5h-3.5" stroke="#2e2e2e" stroke-width="1.5" fill="none"/>
<rect x="39.6" y="660.8" width="324.5" height="262.2" fill="none" stroke="#2e2e2e" stroke-width="1.5"/>
<text x="27.32" y="926" font-size="11.3" fill="#111" textLength="6.11" lengthAdjust="spacingAndGlyphs">0</text>
<text x="21.05" y="838.6" font-size="11.3" fill="#111" textLength="12.38" lengthAdjust="spacingAndGlyphs">10</text>
<text x="21.35" y="751.2" font-size="11.3" fill="#111" textLength="12.07" lengthAdjust="spacingAndGlyphs">20</text>
<text x="21.49" y="663.8" font-size="11.3" fill="#111" textLength="11.93" lengthAdjust="spacingAndGlyphs">30</text>
<text x="36.55" y="937.3" font-size="11.3" fill="#111" textLength="6.11" lengthAdjust="spacingAndGlyphs">0</text>
<text x="100.95" y="937.3" font-size="11.3" fill="#111" textLength="6.77" lengthAdjust="spacingAndGlyphs">1</text>
<text x="166.2" y="937.3" font-size="11.3" fill="#111" textLength="6.41" lengthAdjust="spacingAndGlyphs">2</text>
<text x="231.25" y="937.3" font-size="11.3" fill="#111" textLength="6.16" lengthAdjust="spacingAndGlyphs">3</text>
<text x="296.34" y="937.3" font-size="11.3" fill="#111" textLength="5.79" lengthAdjust="spacingAndGlyphs">4</text>
<text x="361.03" y="937.3" font-size="11.3" fill="#111" textLength="6.16" lengthAdjust="spacingAndGlyphs">5</text>
<path d="M459.14 268.5v-3.5M459.14 6.8v3.5M499.68 268.5v-5.6M499.68 6.8v5.6M540.21 268.5v-3.5M540.21 6.8v3.5M580.75 268.5v-5.6M580.75 6.8v5.6M621.29 268.5v-3.5M621.29 6.8v3.5M661.83 268.5v-5.6M661.83 6.8v5.6M702.36 268.5v-3.5M702.36 6.8v3.5M418.6 245.41h3.5M742.9 245.41h-3.5M418.6 222.32h5.6M742.9 222.32h-5.6M418.6 199.23h3.5M742.9 199.23h-3.5M418.6 176.14h5.6M742.9 176.14h-5.6M418.6 153.04h3.5M742.9 153.04h-3.5M418.6 129.95h5.6M742.9 129.95h-5.6M418.6 106.86h3.5M742.9 106.86h-3.5M418.6 83.77h5.6M742.9 83.77h-5.6M418.6 60.68h3.5M742.9 60.68h-3.5M418.6 37.59h5.6M742.9 37.59h-5.6M418.6 14.5h3.5M742.9 14.5h-3.5" stroke="#2e2e2e" stroke-width="1.5" fill="none"/>
<rect x="418.6" y="6.8" width="324.3" height="261.7" fill="none" stroke="#2e2e2e" stroke-width="1.5"/>
<text x="406.32" y="271.5" font-size="11.3" fill="#111" textLength="6.11" lengthAdjust="spacingAndGlyphs">0</text>
<text x="400.49" y="225.32" font-size="11.3" fill="#111" textLength="11.93" lengthAdjust="spacingAndGlyphs">30</text>
<text x="400.35" y="179.14" font-size="11.3" fill="#111" textLength="12.08" lengthAdjust="spacingAndGlyphs">60</text>
<text x="400.39" y="132.95" font-size="11.3" fill="#111" textLength="12.03" lengthAdjust="spacingAndGlyphs">90</text>
<text x="394.22" y="86.77" font-size="11.3" fill="#111" textLength="18.21" lengthAdjust="spacingAndGlyphs">120</text>
<text x="394.22" y="40.59" font-size="11.3" fill="#111" textLength="18.21" lengthAdjust="spacingAndGlyphs">150</text>
<text x="415.55" y="282.8" font-size="11.3" fill="#111" textLength="6.11" lengthAdjust="spacingAndGlyphs">0</text>
<text x="496.47" y="282.8" font-size="11.3" fill="#111" textLength="6.41" lengthAdjust="spacingAndGlyphs">2</text>
<text x="577.89" y="282.8" font-size="11.3" fill="#111" textLength="5.79" lengthAdjust="spacingAndGlyphs">4</text>
<text x="658.62" y="282.8" font-size="11.3" fill="#111" textLength="6.33" lengthAdjust="spacingAndGlyphs">6</text>
<text x="739.79" y="282.8" font-size="11.3" fill="#111" textLength="6.22" lengthAdjust="spacingAndGlyphs">8</text>
<path d="M464.94 594.3v-3.5M464.94 333v3.5M511.29 594.3v-5.6M511.29 333v5.6M557.63 594.3v-3.5M557.63 333v3.5M603.97 594.3v-5.6M603.97 333v5.6M650.31 594.3v-3.5M650.31 333v3.5M696.66 594.3v-5.6M696.66 333v5.6M418.6 572.52h3.5M743 572.52h-3.5M418.6 550.75h5.6M743 550.75h-5.6M418.6 528.97h3.5M743 528.97h-3.5M418.6 507.2h5.6M743 507.2h-5.6M418.6 485.42h3.5M743 485.42h-3.5M418.6 463.65h5.6M743 463.65h-5.6M418.6 441.88h3.5M743 441.88h-3.5M418.6 420.1h5.6M743 420.1h-5.6M418.6 398.32h3.5M743 398.32h-3.5M418.6 376.55h5.6M743 376.55h-5.6M418.6 354.77h3.5M743 354.77h-3.5" stroke="#2e2e2e" stroke-width="1.5" fill="none"/>
<rect x="418.6" y="333" width="324.4" height="261.3" fill="none" stroke="#2e2e2e" stroke-width="1.5"/>
<text x="406.32" y="597.3" font-size="11.3" fill="#111" textLength="6.11" lengthAdjust="spacingAndGlyphs">0</text>
<text x="400.35" y="553.75" font-size="11.3" fill="#111" textLength="12.07" lengthAdjust="spacingAndGlyphs">20</text>
<text x="400.66" y="510.2" font-size="11.3" fill="#111" textLength="11.76" lengthAdjust="spacingAndGlyphs">40</text>
<text x="400.35" y="466.65" font-size="11.3" fill="#111" textLength="12.08" lengthAdjust="spacingAndGlyphs">60</text>
<text x="400.43" y="423.1" font-size="11.3" fill="#111" textLength="11.99" lengthAdjust="spacingAndGlyphs">80</text>
<text x="394.22" y="379.55" font-size="11.3" fill="#111" textLength="18.21" lengthAdjust="spacingAndGlyphs">100</text>
<text x="394.22" y="336" font-size="11.3" fill="#111" textLength="18.21" lengthAdjust="spacingAndGlyphs">120</text>
<text x="415.55" y="608.6" font-size="11.3" fill="#111" textLength="6.11" lengthAdjust="spacingAndGlyphs">0</text>
<text x="508.08" y="608.6" font-size="11.3" fill="#111" textLength="6.41" lengthAdjust="spacingAndGlyphs">2</text>
<text x="601.11" y="608.6" font-size="11.3" fill="#111" textLength="5.79" lengthAdjust="spacingAndGlyphs">4</text>
<text x="693.45" y="608.6" font-size="11.3" fill="#111" textLength="6.33" lengthAdjust="spacingAndGlyphs">6</text>
<path d="M459.11 922.6v-3.5M459.11 660.5v3.5M499.62 922.6v-5.6M499.62 660.5v5.6M540.14 922.6v-3.5M540.14 660.5v3.5M580.65 922.6v-5.6M580.65 660.5v5.6M621.16 922.6v-3.5M621.16 660.5v3.5M661.68 922.6v-5.6M661.68 660.5v5.6M702.19 922.6v-3.5M702.19 660.5v3.5M418.6 900.76h3.5M742.7 900.76h-3.5M418.6 878.92h5.6M742.7 878.92h-5.6M418.6 857.08h3.5M742.7 857.08h-3.5M418.6 835.23h5.6M742.7 835.23h-5.6M418.6 813.39h3.5M742.7 813.39h-3.5M418.6 791.55h5.6M742.7 791.55h-5.6M418.6 769.71h3.5M742.7 769.71h-3.5M418.6 747.87h5.6M742.7 747.87h-5.6M418.6 726.02h3.5M742.7 726.02h-3.5M418.6 704.18h5.6M742.7 704.18h-5.6M418.6 682.34h3.5M742.7 682.34h-3.5" stroke="#2e2e2e" stroke-width="1.5" fill="none"/>
<rect x="418.6" y="660.5" width="324.1" height="262.1" fill="none" stroke="#2e2e2e" stroke-width="1.5"/>
<text x="406.32" y="925.6" font-size="11.3" fill="#111" textLength="6.11" lengthAdjust="spacingAndGlyphs">0</text>
<text x="400.35" y="881.92" font-size="11.3" fill="#111" textLength="12.07" lengthAdjust="spacingAndGlyphs">20</text>
<text x="400.66" y="838.23" font-size="11.3" fill="#111" textLength="11.76" lengthAdjust="spacingAndGlyphs">40</text>
<text x="400.35" y="794.55" font-size="11.3" fill="#111" textLength="12.08" lengthAdjust="spacingAndGlyphs">60</text>
<text x="400.43" y="750.87" font-size="11.3" fill="#111" textLength="11.99" lengthAdjust="spacingAndGlyphs">80</text>
<text x="394.22" y="707.18" font-size="11.3" fill="#111" textLength="18.21" lengthAdjust="spacingAndGlyphs">100</text>
<text x="394.22" y="663.5" font-size="11.3" fill="#111" textLength="18.21" lengthAdjust="spacingAndGlyphs">120</text>
<text x="415.55" y="936.9" font-size="11.3" fill="#111" textLength="6.11" lengthAdjust="spacingAndGlyphs">0</text>
<text x="496.07" y="936.9" font-size="11.3" fill="#111" textLength="6.77" lengthAdjust="spacingAndGlyphs">1</text>
<text x="577.45" y="936.9" font-size="11.3" fill="#111" textLength="6.41" lengthAdjust="spacingAndGlyphs">2</text>
<text x="658.63" y="936.9" font-size="11.3" fill="#111" textLength="6.16" lengthAdjust="spacingAndGlyphs">3</text>
<text x="739.84" y="936.9" font-size="11.3" fill="#111" textLength="5.79" lengthAdjust="spacingAndGlyphs">4</text>
<path d="M562.18 231.3v-2M562.18 81v2M577.87 231.3v-3.2M577.87 81v3.2M593.55 231.3v-2M593.55 81v2M609.23 231.3v-3.2M609.23 81v3.2M624.92 231.3v-2M624.92 81v2M640.6 231.3v-3.2M640.6 81v3.2M656.28 231.3v-2M656.28 81v2M671.97 231.3v-3.2M671.97 81v3.2M687.65 231.3v-2M687.65 81v2M703.33 231.3v-3.2M703.33 81v3.2M719.02 231.3v-2M719.02 81v2M546.5 212.51h2M734.7 212.51h-2M546.5 193.73h3.2M734.7 193.73h-3.2M546.5 174.94h2M734.7 174.94h-2M546.5 156.15h3.2M734.7 156.15h-3.2M546.5 137.36h2M734.7 137.36h-2M546.5 118.58h3.2M734.7 118.58h-3.2M546.5 99.79h2M734.7 99.79h-2" stroke="#222" stroke-width="1.15" fill="none"/>
<rect x="546.5" y="81" width="188.2" height="150.3" fill="none" stroke="#222" stroke-width="1.15"/>
<text x="537.16" y="234" font-size="8" fill="#222" style="stroke-width:0.3px" textLength="4.89" lengthAdjust="spacingAndGlyphs">0</text>
<text x="532.23" y="196.43" font-size="8" fill="#222" style="stroke-width:0.3px" textLength="9.82" lengthAdjust="spacingAndGlyphs">10</text>
<text x="532.47" y="158.85" font-size="8" fill="#222" style="stroke-width:0.3px" textLength="9.57" lengthAdjust="spacingAndGlyphs">20</text>
<text x="532.58" y="121.28" font-size="8" fill="#222" style="stroke-width:0.3px" textLength="9.46" lengthAdjust="spacingAndGlyphs">30</text>
<text x="532.71" y="83.7" font-size="8" fill="#222" style="stroke-width:0.3px" textLength="9.32" lengthAdjust="spacingAndGlyphs">40</text>
<text x="540.25" y="240.9" font-size="8" fill="#222" style="stroke-width:0.3px" textLength="12.5" lengthAdjust="spacingAndGlyphs">0.0</text>
<text x="571.61" y="240.9" font-size="8" fill="#222" style="stroke-width:0.3px" textLength="12.61" lengthAdjust="spacingAndGlyphs">0.2</text>
<text x="602.98" y="240.9" font-size="8" fill="#222" style="stroke-width:0.3px" textLength="12.41" lengthAdjust="spacingAndGlyphs">0.4</text>
<text x="634.35" y="240.9" font-size="8" fill="#222" style="stroke-width:0.3px" textLength="12.55" lengthAdjust="spacingAndGlyphs">0.6</text>
<text x="665.71" y="240.9" font-size="8" fill="#222" style="stroke-width:0.3px" textLength="12.54" lengthAdjust="spacingAndGlyphs">0.8</text>
<text x="696.73" y="240.9" font-size="8" fill="#222" style="stroke-width:0.3px" textLength="12.87" lengthAdjust="spacingAndGlyphs">1.0</text>
<text x="728.09" y="240.9" font-size="8" fill="#222" style="stroke-width:0.3px" textLength="12.98" lengthAdjust="spacingAndGlyphs">1.2</text>
<text x="524.3" y="176.12" font-size="10.6" fill="#111" textLength="32.19" lengthAdjust="spacingAndGlyphs" transform="rotate(-90 524.3 176.12)">MC %</text>
<path d="M563.94 550v-2M563.94 400.4v2M582.68 550v-3.2M582.68 400.4v3.2M601.42 550v-2M601.42 400.4v2M620.16 550v-3.2M620.16 400.4v3.2M638.9 550v-2M638.9 400.4v2M657.64 550v-3.2M657.64 400.4v3.2M676.38 550v-2M676.38 400.4v2M695.12 550v-3.2M695.12 400.4v3.2M713.86 550v-2M713.86 400.4v2M545.2 531.3h2M732.6 531.3h-2M545.2 512.6h3.2M732.6 512.6h-3.2M545.2 493.9h2M732.6 493.9h-2M545.2 475.2h3.2M732.6 475.2h-3.2M545.2 456.5h2M732.6 456.5h-2M545.2 437.8h3.2M732.6 437.8h-3.2M545.2 419.1h2M732.6 419.1h-2" stroke="#222" stroke-width="1.15" fill="none"/>
<rect x="545.2" y="400.4" width="187.4" height="149.6" fill="none" stroke="#222" stroke-width="1.15"/>
<text x="535.86" y="552.7" font-size="8" fill="#222" style="stroke-width:0.3px" textLength="4.89" lengthAdjust="spacingAndGlyphs">0</text>
<text x="530.93" y="515.3" font-size="8" fill="#222" style="stroke-width:0.3px" textLength="9.82" lengthAdjust="spacingAndGlyphs">10</text>
<text x="531.17" y="477.9" font-size="8" fill="#222" style="stroke-width:0.3px" textLength="9.57" lengthAdjust="spacingAndGlyphs">20</text>
<text x="531.28" y="440.5" font-size="8" fill="#222" style="stroke-width:0.3px" textLength="9.46" lengthAdjust="spacingAndGlyphs">30</text>
<text x="531.41" y="403.1" font-size="8" fill="#222" style="stroke-width:0.3px" textLength="9.32" lengthAdjust="spacingAndGlyphs">40</text>
<text x="538.95" y="559.6" font-size="8" fill="#222" style="stroke-width:0.3px" textLength="12.5" lengthAdjust="spacingAndGlyphs">0.0</text>
<text x="576.43" y="559.6" font-size="8" fill="#222" style="stroke-width:0.3px" textLength="12.6" lengthAdjust="spacingAndGlyphs">0.1</text>
<text x="613.91" y="559.6" font-size="8" fill="#222" style="stroke-width:0.3px" textLength="12.61" lengthAdjust="spacingAndGlyphs">0.2</text>
<text x="651.39" y="559.6" font-size="8" fill="#222" style="stroke-width:0.3px" textLength="12.55" lengthAdjust="spacingAndGlyphs">0.3</text>
<text x="688.87" y="559.6" font-size="8" fill="#222" style="stroke-width:0.3px" textLength="12.41" lengthAdjust="spacingAndGlyphs">0.4</text>
<text x="726.35" y="559.6" font-size="8" fill="#222" style="stroke-width:0.3px" textLength="12.53" lengthAdjust="spacingAndGlyphs">0.5</text>
<text x="523" y="495.17" font-size="10.6" fill="#111" textLength="32.19" lengthAdjust="spacingAndGlyphs" transform="rotate(-90 523 495.17)">MC %</text>
<path d="M560.97 884.8v-2M560.97 734.5v2M576.65 884.8v-3.2M576.65 734.5v3.2M592.32 884.8v-2M592.32 734.5v2M608 884.8v-3.2M608 734.5v3.2M623.67 884.8v-2M623.67 734.5v2M639.35 884.8v-3.2M639.35 734.5v3.2M655.02 884.8v-2M655.02 734.5v2M670.7 884.8v-3.2M670.7 734.5v3.2M686.38 884.8v-2M686.38 734.5v2M702.05 884.8v-3.2M702.05 734.5v3.2M717.73 884.8v-2M717.73 734.5v2M545.3 859.75h2M733.4 859.75h-2M545.3 834.7h3.2M733.4 834.7h-3.2M545.3 809.65h2M733.4 809.65h-2M545.3 784.6h3.2M733.4 784.6h-3.2M545.3 759.55h2M733.4 759.55h-2" stroke="#222" stroke-width="1.15" fill="none"/>
<rect x="545.3" y="734.5" width="188.1" height="150.3" fill="none" stroke="#222" stroke-width="1.15"/>
<text x="535.96" y="887.5" font-size="8" fill="#222" style="stroke-width:0.3px" textLength="4.89" lengthAdjust="spacingAndGlyphs">0</text>
<text x="531.03" y="837.4" font-size="8" fill="#222" style="stroke-width:0.3px" textLength="9.82" lengthAdjust="spacingAndGlyphs">10</text>
<text x="531.27" y="787.3" font-size="8" fill="#222" style="stroke-width:0.3px" textLength="9.57" lengthAdjust="spacingAndGlyphs">20</text>
<text x="531.38" y="737.2" font-size="8" fill="#222" style="stroke-width:0.3px" textLength="9.46" lengthAdjust="spacingAndGlyphs">30</text>
<text x="539.05" y="894.4" font-size="8" fill="#222" style="stroke-width:0.3px" textLength="12.5" lengthAdjust="spacingAndGlyphs">0.0</text>
<text x="570.4" y="894.4" font-size="8" fill="#222" style="stroke-width:0.3px" textLength="12.6" lengthAdjust="spacingAndGlyphs">0.1</text>
<text x="601.75" y="894.4" font-size="8" fill="#222" style="stroke-width:0.3px" textLength="12.61" lengthAdjust="spacingAndGlyphs">0.2</text>
<text x="633.1" y="894.4" font-size="8" fill="#222" style="stroke-width:0.3px" textLength="12.55" lengthAdjust="spacingAndGlyphs">0.3</text>
<text x="664.45" y="894.4" font-size="8" fill="#222" style="stroke-width:0.3px" textLength="12.41" lengthAdjust="spacingAndGlyphs">0.4</text>
<text x="695.8" y="894.4" font-size="8" fill="#222" style="stroke-width:0.3px" textLength="12.53" lengthAdjust="spacingAndGlyphs">0.5</text>
<text x="727.15" y="894.4" font-size="8" fill="#222" style="stroke-width:0.3px" textLength="12.55" lengthAdjust="spacingAndGlyphs">0.6</text>
<text x="523.1" y="829.62" font-size="10.6" fill="#111" textLength="32.19" lengthAdjust="spacingAndGlyphs" transform="rotate(-90 523.1 829.62)">MC %</text>
<text x="602.69" y="259.9" font-size="15.48" font-family="Liberation Serif" style="stroke-width:0.05px" fill="#111" textLength="9.31" lengthAdjust="spacingAndGlyphs">λ</text>
<text x="614.75" y="259.3" font-size="11.9" fill="#111" textLength="3.52" lengthAdjust="spacingAndGlyphs">(</text>
<text x="618.98" y="259.3" font-size="11" fill="#111" textLength="13.39" lengthAdjust="spacingAndGlyphs">10</text>
<text x="632.12" y="254.1" font-size="6.6" fill="#111" textLength="7.53" lengthAdjust="spacingAndGlyphs">-5</text>
<text x="638.69" y="259.3" font-size="11.6" fill="#111" textLength="18.2" lengthAdjust="spacingAndGlyphs">ms</text>
<text x="656.57" y="254.9" font-size="7.2" fill="#111" textLength="16.82" lengthAdjust="spacingAndGlyphs">-1/2</text>
<text x="673.92" y="259.3" font-size="11.9" fill="#111" textLength="4.4" lengthAdjust="spacingAndGlyphs">)</text>
<text x="600.47" y="579.1" font-size="15.34" font-family="Liberation Serif" style="stroke-width:0.05px" fill="#111" textLength="9.74" lengthAdjust="spacingAndGlyphs">λ</text>
<text x="612.55" y="578.5" font-size="11.9" fill="#111" textLength="3.52" lengthAdjust="spacingAndGlyphs">(</text>
<text x="616.78" y="578.5" font-size="11" fill="#111" textLength="13.39" lengthAdjust="spacingAndGlyphs">10</text>
<text x="629.92" y="573.3" font-size="6.6" fill="#111" textLength="7.53" lengthAdjust="spacingAndGlyphs">-5</text>
<text x="636.49" y="578.5" font-size="11.6" fill="#111" textLength="18.2" lengthAdjust="spacingAndGlyphs">ms</text>
<text x="654.37" y="574.1" font-size="7.2" fill="#111" textLength="16.82" lengthAdjust="spacingAndGlyphs">-1/2</text>
<text x="671.72" y="578.5" font-size="11.9" fill="#111" textLength="4.4" lengthAdjust="spacingAndGlyphs">)</text>
<text x="601.07" y="913.8" font-size="15.48" font-family="Liberation Serif" style="stroke-width:0.05px" fill="#111" textLength="9.74" lengthAdjust="spacingAndGlyphs">λ</text>
<text x="613.15" y="913.2" font-size="11.9" fill="#111" textLength="3.52" lengthAdjust="spacingAndGlyphs">(</text>
<text x="617.38" y="913.2" font-size="11" fill="#111" textLength="13.39" lengthAdjust="spacingAndGlyphs">10</text>
<text x="630.52" y="908" font-size="6.6" fill="#111" textLength="7.53" lengthAdjust="spacingAndGlyphs">-5</text>
<text x="637.09" y="913.2" font-size="11.6" fill="#111" textLength="18.2" lengthAdjust="spacingAndGlyphs">ms</text>
<text x="654.97" y="908.8" font-size="7.2" fill="#111" textLength="16.82" lengthAdjust="spacingAndGlyphs">-1/2</text>
<text x="672.32" y="913.2" font-size="11.9" fill="#111" textLength="4.4" lengthAdjust="spacingAndGlyphs">)</text>
<text x="549.14" y="114.9" font-size="11.3" font-weight="bold" fill="#222" style="stroke-width:0.25px" textLength="19.3" lengthAdjust="spacingAndGlyphs">FSP</text>
<text x="547.54" y="434.3" font-size="11.3" font-weight="bold" fill="#222" style="stroke-width:0.25px" textLength="19.09" lengthAdjust="spacingAndGlyphs">FSP</text>
<text x="547.74" y="771.6" font-size="11.3" font-weight="bold" fill="#222" style="stroke-width:0.25px" textLength="19.3" lengthAdjust="spacingAndGlyphs">FSP</text>
<text x="667.29" y="192.8" font-size="14.77" font-family="Liberation Serif" style="stroke-width:0.05px" fill="#111" textLength="9.31" lengthAdjust="spacingAndGlyphs">λ</text>
<text x="677.03" y="189.1" font-size="11.1" fill="#111" textLength="4.14" lengthAdjust="spacingAndGlyphs">*</text>
<text x="682.3" y="192" font-size="13.4" fill="#111" textLength="8.41" lengthAdjust="spacingAndGlyphs">=</text>
<text x="690.27" y="192.8" font-size="14.3" fill="#111" textLength="26.32" lengthAdjust="spacingAndGlyphs">0.76</text>
<text x="665.59" y="511.8" font-size="14.77" font-family="Liberation Serif" style="stroke-width:0.05px" fill="#111" textLength="9.31" lengthAdjust="spacingAndGlyphs">λ</text>
<text x="675.33" y="508.1" font-size="11.1" fill="#111" textLength="4.14" lengthAdjust="spacingAndGlyphs">*</text>
<text x="680.6" y="511" font-size="13.4" fill="#111" textLength="8.41" lengthAdjust="spacingAndGlyphs">=</text>
<text x="688.56" y="511.8" font-size="14.3" fill="#111" textLength="26.88" lengthAdjust="spacingAndGlyphs">0.30</text>
<text x="666.49" y="846.8" font-size="14.77" font-family="Liberation Serif" style="stroke-width:0.05px" fill="#111" textLength="9.31" lengthAdjust="spacingAndGlyphs">λ</text>
<text x="676.23" y="843.1" font-size="11.1" fill="#111" textLength="4.14" lengthAdjust="spacingAndGlyphs">*</text>
<text x="681.5" y="846" font-size="13.4" fill="#111" textLength="8.41" lengthAdjust="spacingAndGlyphs">=</text>
<text x="689.48" y="846.8" font-size="14.3" fill="#111" textLength="26" lengthAdjust="spacingAndGlyphs">0.38</text>
<text x="12.2" y="154.84" font-size="13.71" fill="#111" style="stroke-width:0.6px" textLength="37.73" lengthAdjust="spacingAndGlyphs" transform="rotate(-90 12.2 154.84)">MC %</text>
<text x="390.1" y="167.05" font-size="14.29" fill="#111" style="stroke-width:0.6px" textLength="38.25" lengthAdjust="spacingAndGlyphs" transform="rotate(-90 390.1 167.05)">MC %</text>
<text x="10.8" y="483.14" font-size="13.29" fill="#111" style="stroke-width:0.6px" textLength="37.84" lengthAdjust="spacingAndGlyphs" transform="rotate(-90 10.8 483.14)">MC %</text>
<text x="391.9" y="483.46" font-size="13.86" fill="#111" style="stroke-width:0.6px" textLength="38.36" lengthAdjust="spacingAndGlyphs" transform="rotate(-90 391.9 483.46)">MC %</text>
<text x="11.4" y="811.91" font-size="13.29" fill="#111" style="stroke-width:0.6px" textLength="36.79" lengthAdjust="spacingAndGlyphs" transform="rotate(-90 11.4 811.91)">MC %</text>
<text x="391.2" y="808.84" font-size="14" fill="#111" style="stroke-width:0.6px" textLength="37.84" lengthAdjust="spacingAndGlyphs" transform="rotate(-90 391.2 808.84)">MC %</text>
<text x="163.74" y="305.4" font-size="19.18" font-family="Liberation Serif" style="stroke-width:0.05px" fill="#111" textLength="10.27" lengthAdjust="spacingAndGlyphs">λ</text>
<text x="177.05" y="304.6" font-size="11.9" fill="#111" textLength="3.52" lengthAdjust="spacingAndGlyphs">(</text>
<text x="181.28" y="304.6" font-size="11.4" fill="#111" textLength="13.39" lengthAdjust="spacingAndGlyphs">10</text>
<text x="194.42" y="299.4" font-size="6.6" fill="#111" textLength="7.53" lengthAdjust="spacingAndGlyphs">-5</text>
<text x="200.99" y="304.6" font-size="11.9" fill="#111" textLength="18.2" lengthAdjust="spacingAndGlyphs">ms</text>
<text x="218.87" y="300.2" font-size="7.2" fill="#111" textLength="16.82" lengthAdjust="spacingAndGlyphs">-1/2</text>
<text x="236.22" y="304.6" font-size="11.9" fill="#111" textLength="4.4" lengthAdjust="spacingAndGlyphs">)</text>
<text x="541.42" y="305.1" font-size="18.89" font-family="Liberation Serif" style="stroke-width:0.05px" fill="#111" textLength="10.59" lengthAdjust="spacingAndGlyphs">λ</text>
<text x="554.86" y="304.3" font-size="11.9" fill="#111" textLength="3.55" lengthAdjust="spacingAndGlyphs">(</text>
<text x="559.14" y="304.3" font-size="11.4" fill="#111" textLength="13.51" lengthAdjust="spacingAndGlyphs">10</text>
<text x="572.39" y="299.1" font-size="6.6" fill="#111" textLength="7.6" lengthAdjust="spacingAndGlyphs">-5</text>
<text x="579.02" y="304.3" font-size="11.9" fill="#111" textLength="18.36" lengthAdjust="spacingAndGlyphs">ms</text>
<text x="597.06" y="299.9" font-size="7.2" fill="#111" textLength="16.98" lengthAdjust="spacingAndGlyphs">-1/2</text>
<text x="614.57" y="304.3" font-size="11.9" fill="#111" textLength="4.44" lengthAdjust="spacingAndGlyphs">)</text>
<text x="162.54" y="632.5" font-size="18.04" font-family="Liberation Serif" style="stroke-width:0.05px" fill="#111" textLength="10.38" lengthAdjust="spacingAndGlyphs">λ</text>
<text x="176" y="631.7" font-size="11.9" fill="#111" textLength="3.56" lengthAdjust="spacingAndGlyphs">(</text>
<text x="180.29" y="631.7" font-size="11.4" fill="#111" textLength="13.55" lengthAdjust="spacingAndGlyphs">10</text>
<text x="193.59" y="626.5" font-size="6.6" fill="#111" textLength="7.62" lengthAdjust="spacingAndGlyphs">-5</text>
<text x="200.23" y="631.7" font-size="11.9" fill="#111" textLength="18.42" lengthAdjust="spacingAndGlyphs">ms</text>
<text x="218.32" y="627.3" font-size="7.2" fill="#111" textLength="17.03" lengthAdjust="spacingAndGlyphs">-1/2</text>
<text x="235.89" y="631.7" font-size="11.9" fill="#111" textLength="4.45" lengthAdjust="spacingAndGlyphs">)</text>
<text x="541.2" y="634.1" font-size="18.04" font-family="Liberation Serif" style="stroke-width:0.05px" fill="#111" textLength="11.02" lengthAdjust="spacingAndGlyphs">λ</text>
<text x="554.85" y="633.3" font-size="11.9" fill="#111" textLength="3.6" lengthAdjust="spacingAndGlyphs">(</text>
<text x="559.19" y="633.3" font-size="11.4" fill="#111" textLength="13.71" lengthAdjust="spacingAndGlyphs">10</text>
<text x="572.65" y="628.1" font-size="6.6" fill="#111" textLength="7.71" lengthAdjust="spacingAndGlyphs">-5</text>
<text x="579.37" y="633.3" font-size="11.9" fill="#111" textLength="18.64" lengthAdjust="spacingAndGlyphs">ms</text>
<text x="597.68" y="628.9" font-size="7.2" fill="#111" textLength="17.23" lengthAdjust="spacingAndGlyphs">-1/2</text>
<text x="615.45" y="633.3" font-size="11.9" fill="#111" textLength="4.5" lengthAdjust="spacingAndGlyphs">)</text>
<text x="164.41" y="962.7" font-size="17.9" font-family="Liberation Serif" style="stroke-width:0.05px" fill="#111" textLength="10.91" lengthAdjust="spacingAndGlyphs">λ</text>
<text x="178.03" y="961.9" font-size="11.9" fill="#111" textLength="3.59" lengthAdjust="spacingAndGlyphs">(</text>
<text x="182.36" y="961.9" font-size="11.4" fill="#111" textLength="13.68" lengthAdjust="spacingAndGlyphs">10</text>
<text x="195.79" y="956.7" font-size="6.6" fill="#111" textLength="7.7" lengthAdjust="spacingAndGlyphs">-5</text>
<text x="202.5" y="961.9" font-size="11.9" fill="#111" textLength="18.6" lengthAdjust="spacingAndGlyphs">ms</text>
<text x="220.77" y="957.5" font-size="7.2" fill="#111" textLength="17.2" lengthAdjust="spacingAndGlyphs">-1/2</text>
<text x="238.5" y="961.9" font-size="11.9" fill="#111" textLength="4.49" lengthAdjust="spacingAndGlyphs">)</text>
<text x="541.22" y="961.1" font-size="18.61" font-family="Liberation Serif" style="stroke-width:0.05px" fill="#111" textLength="10.59" lengthAdjust="spacingAndGlyphs">λ</text>
<text x="554.85" y="960.3" font-size="11.9" fill="#111" textLength="3.6" lengthAdjust="spacingAndGlyphs">(</text>
<text x="559.19" y="960.3" font-size="11.4" fill="#111" textLength="13.71" lengthAdjust="spacingAndGlyphs">10</text>
<text x="572.65" y="955.1" font-size="6.6" fill="#111" textLength="7.71" lengthAdjust="spacingAndGlyphs">-5</text>
<text x="579.37" y="960.3" font-size="11.9" fill="#111" textLength="18.64" lengthAdjust="spacingAndGlyphs">ms</text>
<text x="597.68" y="955.9" font-size="7.2" fill="#111" textLength="17.23" lengthAdjust="spacingAndGlyphs">-1/2</text>
<text x="615.45" y="960.3" font-size="11.9" fill="#111" textLength="4.5" lengthAdjust="spacingAndGlyphs">)</text>
<text x="270.67" y="26.6" font-size="13.5" fill="#111" textLength="86.31" lengthAdjust="spacingAndGlyphs">Pine sapwood</text>
<text x="274.82" y="46.6" font-size="13.5" font-style="italic" fill="#111" textLength="78.59" lengthAdjust="spacingAndGlyphs">water uptake</text>
<text x="428.46" y="26.7" font-size="13.5" fill="#111" textLength="86.93" lengthAdjust="spacingAndGlyphs">Pine sapwood</text>
<text x="452.45" y="46.3" font-size="13.5" font-style="italic" fill="#111" textLength="36.67" lengthAdjust="spacingAndGlyphs">drying</text>
<text x="299.87" y="353.1" font-size="13.5" fill="#111" textLength="24.51" lengthAdjust="spacingAndGlyphs">Oak</text>
<text x="277.02" y="370" font-size="13.5" font-style="italic" fill="#111" textLength="78.59" lengthAdjust="spacingAndGlyphs">water uptake</text>
<text x="434.26" y="350.8" font-size="13.5" fill="#111" textLength="24.92" lengthAdjust="spacingAndGlyphs">Oak</text>
<text x="426.94" y="370.4" font-size="13.5" font-style="italic" fill="#111" textLength="36.98" lengthAdjust="spacingAndGlyphs">drying</text>
<text x="301.91" y="681.4" font-size="13.5" fill="#111" textLength="28.37" lengthAdjust="spacingAndGlyphs">Teak</text>
<text x="278.02" y="700.1" font-size="13.5" font-style="italic" fill="#111" textLength="78.29" lengthAdjust="spacingAndGlyphs">water uptake</text>
<text x="430.6" y="680.7" font-size="13.5" fill="#111" textLength="29.98" lengthAdjust="spacingAndGlyphs">Teak</text>
<text x="426.34" y="697" font-size="13.5" font-style="italic" fill="#111" textLength="37.59" lengthAdjust="spacingAndGlyphs">drying</text>
<text x="47.1" y="64" font-size="13.2" fill="#111" textLength="28.47" lengthAdjust="spacingAndGlyphs">FSP</text>
<text x="60.27" y="390.7" font-size="13.2" fill="#111" textLength="26.75" lengthAdjust="spacingAndGlyphs">FSP</text>
<text x="54.96" y="718.1" font-size="13.2" fill="#111" textLength="27.08" lengthAdjust="spacingAndGlyphs">FSP</text>
</svg></body></html>
